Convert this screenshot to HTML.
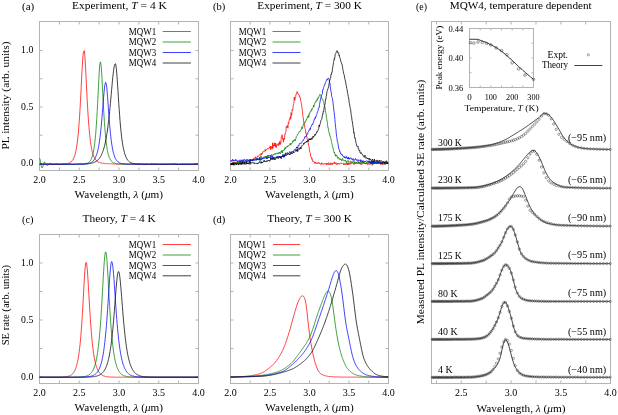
<!DOCTYPE html>
<html><head><meta charset="utf-8"><style>
html,body{margin:0;padding:0;background:#fff;}
svg{display:block;will-change:transform;}
text{font-family:"Liberation Serif", serif;fill:#000;}
</style></head><body>
<svg width="618" height="415" viewBox="0 0 618 415">
<rect width="618" height="415" fill="#fff"/>
<rect x="39.5" y="21.5" width="159.0" height="149.0" fill="none" stroke="#b3b3b3" stroke-width="1"/>
<path d="M59.4,170.5v-3M59.4,21.5v3M79.2,170.5v-3M79.2,21.5v3M99.1,170.5v-3M99.1,21.5v3M119,170.5v-3M119,21.5v3M138.9,170.5v-3M138.9,21.5v3M158.8,170.5v-3M158.8,21.5v3M178.6,170.5v-3M178.6,21.5v3" stroke="#b3b3b3" stroke-width="1" fill="none"/>
<path d="M39.5,163.5h3M198.5,163.5h-3M39.5,135.2h3M198.5,135.2h-3M39.5,107h3M198.5,107h-3M39.5,78.8h3M198.5,78.8h-3M39.5,50.5h3M198.5,50.5h-3" stroke="#b3b3b3" stroke-width="1" fill="none"/>
<polyline points="39.6,164.2 40,164.2 40.4,164.2 40.8,164.1 41.2,164.1 41.6,164.1 42,164.2 42.4,164.4 42.8,164.1 43.2,164.1 43.6,164.3 44,164.2 44.4,164.2 44.8,164.1 45.2,164.2 45.6,164.3 46,164 46.4,164.1 46.8,164 47.2,164 47.6,164 48,164.2 48.4,164 48.8,164.2 49.2,164.2 49.6,164.2 50,163.9 50.4,164.1 50.8,164.2 51.2,164.2 51.6,164 52,164.1 52.4,164.1 52.8,164.1 53.2,164.3 53.6,164.1 54,164.2 54.4,164.3 54.8,164.1 55.2,164.2 55.6,164.2 56,164.2 56.4,164 56.8,164.2 57.2,164.3 57.6,164 58,164.3 58.4,164.2 58.8,164.1 59.2,164.4 59.6,164.3 60,164 60.4,164.2 60.8,164.2 61.2,164.1 61.6,164.2 62,164.1 62.4,164.2 62.8,164.2 63.2,164 63.6,164.1 64,164 64.4,164 64.8,163.8 65.2,163.8 65.6,163.8 66,163.9 66.4,163.9 66.8,163.5 67.2,163.5 67.6,163.6 68,163.2 68.4,163.2 68.8,163.1 69.2,163.1 69.6,162.9 70,162.5 70.4,162.3 70.8,162 71.2,161.9 71.6,161.3 72,160.8 72.4,160.4 72.8,159.7 73.2,159.1 73.6,158.2 74,157.4 74.4,156.3 74.8,155.3 75.2,153.8 75.6,152.1 76,150.4 76.4,148.2 76.8,145.9 77.2,143 77.6,139.9 78,136 78.4,132.1 78.8,127.1 79.2,121.8 79.6,116.1 80,109.5 80.4,102.6 80.8,95.2 81.2,86.9 81.6,78.8 82,71.1 82.4,64 82.8,58 83.2,53.7 83.6,51.6 84,51.6 84.4,50.7 84.8,55.2 85.2,61.3 85.6,68.4 86,76.4 86.4,84.4 86.8,92.7 87.2,100.3 87.6,107.4 88,113.9 88.4,120 88.8,125.1 89.2,129.9 89.6,134.3 90,137.7 90.4,141.3 90.8,143.9 91.2,146.6 91.6,148.6 92,150.7 92.4,152.3 92.8,153.5 93.2,155.1 93.6,156.2 94,157 94.4,157.8 94.8,158.5 95.2,159.1 95.6,159.9 96,160.1 96.4,160.6 96.8,160.9 97.2,161.2 97.6,161.4 98,162 98.4,162 98.8,162.4 99.2,162.4 99.6,162.5 100,162.7 100.4,162.8 100.8,162.9 101.2,163 101.6,163.1 102,163 102.4,163.2 102.8,163.5 103.2,163.3 103.6,163.3 104,163.5 104.4,163.7 104.8,163.4 105.2,163.6 105.6,163.5 106,163.4 106.4,163.8 106.8,163.7 107.2,163.7 107.6,163.6 108,163.8 108.4,163.7 108.8,163.8 109.2,163.7 109.6,163.7 110,164 110.4,163.8 110.8,163.9 111.2,163.9 111.6,163.8 112,163.8 112.4,164 112.8,163.9 113.2,163.9 113.6,163.9 114,164.1 114.4,164 114.8,164 115.2,163.9 115.6,163.8 116,164.1 116.4,164.1 116.8,164 117.2,164.1 117.6,164.1 118,164.1 118.4,164.1 118.8,164 119.2,164.2 119.6,163.9 120,164.2 120.4,164.1 120.8,164.2 121.2,164.3 121.6,164.2 122,163.9 122.4,163.9 122.8,164.2 123.2,164 123.6,164.1 124,164.2 124.4,163.9 124.8,163.8 125.2,164.1 125.6,164.1 126,164.1 126.4,164.1 126.8,164 127.2,163.9 127.6,164.1 128,164 128.4,163.9 128.8,164.2 129.2,164.1 129.6,164.2 130,164 130.4,164.1 130.8,164 131.2,164 131.6,164.2 132,164.1 132.4,164.2 132.8,164.2 133.2,164.4 133.6,164 134,164.3 134.4,164.1 134.8,164.2 135.2,164 135.6,164.1 136,164.2 136.4,164.2 136.8,164.2 137.2,164.1 137.6,164.3 138,164.2 138.4,163.9 138.8,164.1 139.2,163.9 139.6,163.8 140,164.1 140.4,164.3 140.8,164.2 141.2,164 141.6,164.1 142,164.3 142.4,164.2 142.8,164.2 143.2,164.2 143.6,164.2 144,164.3 144.4,164.2 144.8,164.2 145.2,164.1 145.6,164.2 146,164.1 146.4,164.3 146.8,164 147.2,164.2 147.6,164.2 148,164 148.4,164.4 148.8,164.4 149.2,164.1 149.6,164.3 150,164.2 150.4,163.9 150.8,164.2 151.2,164.2 151.6,164.2 152,164.1 152.4,164.2 152.8,164.2 153.2,164.3 153.6,164.2 154,164.2 154.4,164.4 154.8,164.1 155.2,164.1 155.6,164 156,164.4 156.4,164.3 156.8,164.3 157.2,164.3 157.6,164.2 158,164.2 158.4,164.2 158.8,164.2 159.2,164.2 159.6,164.4 160,164.3 160.4,164.2 160.8,164.1 161.2,164.1 161.6,164.4 162,164.3 162.4,164.2 162.8,164.2 163.2,164.1 163.6,164.2 164,164.3 164.4,164.1 164.8,164.2 165.2,164.2 165.6,164.2 166,164 166.4,164.2 166.8,164.1 167.2,164.3 167.6,164.1 168,164.3 168.4,164.4 168.8,164.2 169.2,164.1 169.6,164.2 170,164.2 170.4,164.1 170.8,164.3 171.2,164.4 171.6,164.2 172,164.2 172.4,164.1 172.8,164.2 173.2,164 173.6,164.1 174,164.4 174.4,164.1 174.8,164.3 175.2,164.4 175.6,164.2 176,164.3 176.4,164.4 176.8,164.2 177.2,164.1 177.6,164 178,164.2 178.4,164.4 178.8,164.3 179.2,164.1 179.6,164.1 180,164.1 180.4,164.2 180.8,164.2 181.2,164.2 181.6,164.2 182,164.2 182.4,164.2 182.8,164.2 183.2,164.2 183.6,164.3 184,164.4 184.4,164.3 184.8,164.2 185.2,164 185.6,164.2 186,164 186.4,164 186.8,164.3 187.2,164.3 187.6,164.2 188,164 188.4,164.2 188.8,164.1 189.2,164.3 189.6,164.5 190,164.2 190.4,164.1 190.8,164.1 191.2,164.2 191.6,164.2 192,164.1 192.4,164.2 192.8,164.1 193.2,164.3 193.6,164.3 194,164.3 194.4,164.1 194.8,164.3 195.2,164.2 195.6,164.2 196,164.2 196.4,164 196.8,164 197.2,164.3 197.6,164.2 198,164.2" fill="none" stroke="#ff0000" stroke-width="0.75" stroke-linejoin="round" />
<polyline points="39.6,158.3 40,159.1 40.4,161.2 40.8,163.6 41.2,165.7 41.6,167.1 42,167.9 42.4,167.6 42.8,166.5 43.2,165.3 43.6,164.1 44,163 44.4,162 44.8,162.2 45.2,162.5 45.6,163.2 46,163.8 46.4,164.6 46.8,165 47.2,165.7 47.6,165.4 48,165.3 48.4,164.6 48.8,164.2 49.2,163.6 49.6,163.5 50,163.6 50.4,163.4 50.8,163.9 51.2,164.1 51.6,164.2 52,164.5 52.4,164.6 52.8,164.6 53.2,164.5 53.6,164.3 54,164.2 54.4,164 54.8,163.8 55.2,163.9 55.6,164.1 56,163.8 56.4,164.1 56.8,164.1 57.2,164.2 57.6,164.4 58,164.3 58.4,164.5 58.8,164.2 59.2,164.3 59.6,164.1 60,164 60.4,164.2 60.8,164.1 61.2,164.2 61.6,164.2 62,164.1 62.4,164.2 62.8,164.3 63.2,164.4 63.6,164.1 64,164.2 64.4,164 64.8,164.3 65.2,164 65.6,164 66,164.2 66.4,164.3 66.8,164 67.2,164.1 67.6,164.1 68,164.1 68.4,164.3 68.8,164.1 69.2,164.1 69.6,164.3 70,164.1 70.4,164.2 70.8,164.1 71.2,164 71.6,164 72,164.4 72.4,164.2 72.8,164.2 73.2,164.2 73.6,164.2 74,164.2 74.4,164.4 74.8,164.1 75.2,164 75.6,164.1 76,164 76.4,164.3 76.8,164.3 77.2,164.1 77.6,164 78,164.1 78.4,164.3 78.8,163.8 79.2,164.2 79.6,164 80,164.3 80.4,164 80.8,164.1 81.2,163.9 81.6,164 82,164.2 82.4,164.1 82.8,164 83.2,163.9 83.6,163.7 84,163.9 84.4,163.9 84.8,163.8 85.2,163.7 85.6,163.5 86,163.5 86.4,163.4 86.8,163.5 87.2,163.4 87.6,163 88,162.7 88.4,162.5 88.8,162.2 89.2,161.8 89.6,161.5 90,160.9 90.4,160.5 90.8,159.8 91.2,159.1 91.6,158.1 92,157 92.4,155.8 92.8,154.4 93.2,152.7 93.6,150.8 94,148.5 94.4,145.6 94.8,142.7 95.2,138.9 95.6,134.8 96,130 96.4,124.3 96.8,118.4 97.2,111.5 97.6,103.9 98,95.9 98.4,87.7 98.8,79.8 99.2,72.7 99.6,67 100,63.3 100.4,61.9 100.8,63.2 101.2,66.7 101.6,72 102,78.7 102.4,86.3 102.8,93.9 103.2,101.9 103.6,109.2 104,116.1 104.4,122.3 104.8,127.7 105.2,132.7 105.6,137.1 106,140.8 106.4,144.1 106.8,146.7 107.2,149.4 107.6,151.6 108,153.4 108.4,154.8 108.8,155.9 109.2,157.4 109.6,158.2 110,158.8 110.4,159.9 110.8,160.3 111.2,160.8 111.6,161.4 112,162 112.4,162.1 112.8,162.5 113.2,162.9 113.6,163.1 114,163.1 114.4,163.2 114.8,163.2 115.2,163.4 115.6,163.7 116,163.7 116.4,163.8 116.8,163.9 117.2,163.8 117.6,163.9 118,164.1 118.4,164.1 118.8,164.2 119.2,164.1 119.6,164 120,164.1 120.4,164 120.8,163.9 121.2,164.2 121.6,164.1 122,164.2 122.4,164 122.8,164.1 123.2,164.1 123.6,164.1 124,163.9 124.4,164.1 124.8,164.3 125.2,164.2 125.6,164.1 126,164.2 126.4,164.3 126.8,163.9 127.2,164.2 127.6,164.3 128,164.3 128.4,164.4 128.8,164.3 129.2,164.2 129.6,164.2 130,164.3 130.4,164.1 130.8,164.2 131.2,164.3 131.6,164.4 132,164.2 132.4,164.2 132.8,164.2 133.2,164.4 133.6,164.2 134,164.4 134.4,164.1 134.8,164.2 135.2,164.2 135.6,164.3 136,164.3 136.4,164 136.8,164.1 137.2,164.2 137.6,164.1 138,164 138.4,164.3 138.8,164.3 139.2,164.3 139.6,164.1 140,164.3 140.4,164.2 140.8,164.3 141.2,164.1 141.6,164.1 142,164.2 142.4,164.1 142.8,164.3 143.2,164.2 143.6,164.1 144,164.2 144.4,164.2 144.8,164.3 145.2,164.1 145.6,164.1 146,164.3 146.4,164.5 146.8,164.4 147.2,164.2 147.6,164.2 148,164.4 148.4,164.2 148.8,164.1 149.2,164.2 149.6,164.3 150,164.1 150.4,164 150.8,164 151.2,164.3 151.6,164.1 152,164.2 152.4,164.2 152.8,164.3 153.2,164.2 153.6,164.3 154,164.1 154.4,164.2 154.8,164.1 155.2,164.3 155.6,164.2 156,164.1 156.4,164.2 156.8,164.2 157.2,164.3 157.6,164 158,164.1 158.4,164.2 158.8,164.5 159.2,164.3 159.6,164.2 160,164.3 160.4,164.4 160.8,164.2 161.2,164.2 161.6,164.3 162,164.3 162.4,164.3 162.8,164.1 163.2,164.4 163.6,164.4 164,164.3 164.4,164.3 164.8,164 165.2,164.3 165.6,164.2 166,164.3 166.4,164.3 166.8,164.2 167.2,164 167.6,164.2 168,164.1 168.4,164.2 168.8,164.1 169.2,164.2 169.6,163.9 170,164.3 170.4,164.2 170.8,164.3 171.2,164.4 171.6,164.2 172,164 172.4,164.1 172.8,164.1 173.2,164.1 173.6,164.2 174,164 174.4,164.2 174.8,164 175.2,164.2 175.6,164.2 176,164.2 176.4,164.2 176.8,164.1 177.2,164.1 177.6,164 178,164.2 178.4,164.4 178.8,164.4 179.2,164.4 179.6,164.3 180,164.1 180.4,164.4 180.8,164.2 181.2,164.2 181.6,164.2 182,164.2 182.4,164.1 182.8,164.2 183.2,164.1 183.6,164.2 184,164.5 184.4,164.2 184.8,164.2 185.2,164.3 185.6,164.3 186,164.1 186.4,164.2 186.8,164.3 187.2,164.2 187.6,164.2 188,164.4 188.4,164.1 188.8,164.2 189.2,164.1 189.6,164.4 190,164 190.4,164.1 190.8,164.1 191.2,164.3 191.6,164.3 192,164.4 192.4,164 192.8,164.3 193.2,164.2 193.6,164.1 194,164.3 194.4,164.1 194.8,164 195.2,164.2 195.6,164 196,164.1 196.4,164.2 196.8,164.2 197.2,164.4 197.6,164.2 198,164" fill="none" stroke="#008000" stroke-width="0.75" stroke-linejoin="round" />
<polyline points="39.6,164.3 40,164.2 40.4,164.3 40.8,164.3 41.2,164.3 41.6,164.3 42,164.2 42.4,164.2 42.8,164.3 43.2,164.1 43.6,164.2 44,164.1 44.4,164.2 44.8,164 45.2,164.1 45.6,164.2 46,164.3 46.4,164.3 46.8,164.2 47.2,164.2 47.6,164.1 48,164.2 48.4,164.2 48.8,164.3 49.2,164.4 49.6,164.2 50,164.1 50.4,164.1 50.8,164.1 51.2,164.1 51.6,164.3 52,164.2 52.4,164 52.8,164.3 53.2,164.3 53.6,164.2 54,164.1 54.4,164.2 54.8,164.2 55.2,164.3 55.6,164.3 56,164.3 56.4,164.3 56.8,164.3 57.2,164.3 57.6,164 58,164.2 58.4,164.2 58.8,164.2 59.2,164.3 59.6,164.2 60,164.1 60.4,164.3 60.8,164.3 61.2,164.2 61.6,164.3 62,164.3 62.4,164.2 62.8,164 63.2,164.1 63.6,164.2 64,164.1 64.4,164.2 64.8,164.3 65.2,164.1 65.6,164.1 66,164.4 66.4,164.2 66.8,164.1 67.2,164.2 67.6,164.2 68,164.1 68.4,164.3 68.8,164.1 69.2,164.1 69.6,164.2 70,164.3 70.4,164.1 70.8,164.2 71.2,164.2 71.6,164.5 72,164.1 72.4,164.3 72.8,164.2 73.2,164.2 73.6,164.3 74,164.3 74.4,164.3 74.8,164.2 75.2,164.1 75.6,164.1 76,164.2 76.4,164.2 76.8,164.3 77.2,164.2 77.6,164.3 78,164.3 78.4,164.2 78.8,164 79.2,164 79.6,164 80,164.3 80.4,164 80.8,164.2 81.2,164.2 81.6,164.3 82,164.2 82.4,164.1 82.8,164 83.2,164 83.6,164 84,164 84.4,164 84.8,164.1 85.2,163.8 85.6,164 86,163.8 86.4,163.9 86.8,163.9 87.2,163.8 87.6,163.9 88,163.6 88.4,163.8 88.8,163.6 89.2,163.7 89.6,163.6 90,163.2 90.4,163.3 90.8,163.4 91.2,163.4 91.6,163.2 92,163.1 92.4,162.8 92.8,163 93.2,162.9 93.6,162.6 94,162.4 94.4,162.1 94.8,162.2 95.2,162.2 95.6,161.7 96,161.6 96.4,161.2 96.8,160.8 97.2,160.7 97.6,160.1 98,159.9 98.4,159.5 98.8,159.1 99.2,158.6 99.6,158.1 100,157.4 100.4,156.7 100.8,156.2 101.2,155.4 101.6,154.5 102,153.6 102.4,152.7 102.8,151.6 103.2,150.5 103.6,149.2 104,148 104.4,146.5 104.8,145.1 105.2,143 105.6,141.1 106,139.2 106.4,136.9 106.8,134.4 107.2,132 107.6,129 108,125.8 108.4,122.6 108.8,119.3 109.2,115.6 109.6,111.5 110,107.5 110.4,103.4 110.8,99.1 111.2,94.5 111.6,90.2 112,85.7 112.4,81.2 112.8,77.3 113.2,73.7 113.6,70.3 114,67.4 114.4,65.6 114.8,64.3 115.2,63.8 115.6,63.8 116,66.2 116.4,69.2 116.8,73.8 117.2,79.2 117.6,85.1 118,91.2 118.4,97.3 118.8,103.7 119.2,109.4 119.6,114.8 120,120.5 120.4,125 120.8,129.4 121.2,133.1 121.6,136.8 122,139.9 122.4,142.7 122.8,145.1 123.2,147.2 123.6,149.2 124,150.8 124.4,152.4 124.8,153.9 125.2,155 125.6,156.1 126,157.1 126.4,158.1 126.8,158.8 127.2,159.3 127.6,160 128,160.3 128.4,160.8 128.8,161.3 129.2,161.5 129.6,161.9 130,162 130.4,162.4 130.8,162.8 131.2,162.7 131.6,163 132,163 132.4,163.1 132.8,163.2 133.2,163.6 133.6,163.8 134,163.7 134.4,163.6 134.8,163.8 135.2,163.8 135.6,163.9 136,163.9 136.4,164 136.8,164 137.2,163.9 137.6,164 138,163.9 138.4,164 138.8,163.9 139.2,164.1 139.6,164 140,164.1 140.4,164.2 140.8,164 141.2,164.1 141.6,164.1 142,164.2 142.4,164.3 142.8,164.2 143.2,164.1 143.6,164.3 144,164 144.4,164.3 144.8,164.1 145.2,163.9 145.6,164.4 146,164.3 146.4,164.1 146.8,164.2 147.2,164.2 147.6,164.2 148,164 148.4,164.1 148.8,164.2 149.2,164.2 149.6,164.3 150,164.2 150.4,164.4 150.8,164.1 151.2,164.2 151.6,164 152,164.1 152.4,164.3 152.8,164.1 153.2,164.3 153.6,164.2 154,164.1 154.4,164.2 154.8,164.1 155.2,164.2 155.6,164.3 156,164.3 156.4,164.1 156.8,164.1 157.2,164.2 157.6,164.2 158,164.3 158.4,164.5 158.8,164.3 159.2,164.2 159.6,164.2 160,164.1 160.4,164.1 160.8,164.1 161.2,164.2 161.6,164.2 162,164.3 162.4,164.2 162.8,164.2 163.2,164.1 163.6,164.4 164,164.3 164.4,164.4 164.8,164.3 165.2,164.3 165.6,164.2 166,164.3 166.4,164.5 166.8,164.1 167.2,164.3 167.6,164.4 168,164.2 168.4,164.3 168.8,164.3 169.2,164.1 169.6,164.2 170,164.1 170.4,164.1 170.8,164.1 171.2,164.2 171.6,164.2 172,164.2 172.4,164.1 172.8,164.4 173.2,164.3 173.6,164.3 174,164.2 174.4,164.2 174.8,164.3 175.2,164.2 175.6,164 176,164.3 176.4,164.5 176.8,164 177.2,164.3 177.6,164.2 178,164.2 178.4,164.3 178.8,164.1 179.2,164.2 179.6,164.4 180,164.2 180.4,164.2 180.8,164.2 181.2,164.2 181.6,164.4 182,164.1 182.4,164.3 182.8,164.1 183.2,164.3 183.6,164.2 184,163.9 184.4,164.2 184.8,164.1 185.2,164.2 185.6,164.4 186,164.1 186.4,164.1 186.8,164.3 187.2,164.2 187.6,164.4 188,164.2 188.4,164.1 188.8,164.2 189.2,164.3 189.6,164.3 190,164.2 190.4,164.2 190.8,164.2 191.2,164.1 191.6,164.4 192,164.2 192.4,164.1 192.8,164.2 193.2,164.3 193.6,164.3 194,164.2 194.4,164.1 194.8,164.2 195.2,164 195.6,164.1 196,164.3 196.4,164.2 196.8,164.2 197.2,164.3 197.6,164.3 198,164.2" fill="none" stroke="#000000" stroke-width="0.75" stroke-linejoin="round" />
<polyline points="39.6,164.1 40,164.1 40.4,164.1 40.8,164.2 41.2,164.1 41.6,164 42,164.3 42.4,164.2 42.8,164.2 43.2,164.2 43.6,164.3 44,164.2 44.4,164.3 44.8,164.2 45.2,164.2 45.6,164.2 46,164.1 46.4,164.2 46.8,164.2 47.2,164.2 47.6,164.1 48,164.4 48.4,164.2 48.8,164.1 49.2,164 49.6,164.2 50,164.2 50.4,164.1 50.8,164.2 51.2,164.1 51.6,164.3 52,164.1 52.4,164.2 52.8,164.3 53.2,164.5 53.6,164.1 54,164.2 54.4,164.1 54.8,164.3 55.2,164.1 55.6,164.2 56,164.2 56.4,164.1 56.8,164.1 57.2,164.2 57.6,164 58,164.1 58.4,164.2 58.8,164.2 59.2,164.2 59.6,164 60,164.2 60.4,164.3 60.8,164.3 61.2,164.2 61.6,164.1 62,164.3 62.4,164.1 62.8,164.1 63.2,164.1 63.6,164.3 64,164.2 64.4,164.3 64.8,164.2 65.2,164.3 65.6,164.1 66,164.2 66.4,164.4 66.8,164.3 67.2,164.1 67.6,164.2 68,164.2 68.4,164.3 68.8,164.1 69.2,164 69.6,164.2 70,164.2 70.4,164.2 70.8,164.3 71.2,164.2 71.6,164.3 72,164.1 72.4,164.3 72.8,164.4 73.2,164.3 73.6,164.2 74,164.2 74.4,164.4 74.8,164.1 75.2,164.2 75.6,164.2 76,164.3 76.4,164.1 76.8,164.2 77.2,164.2 77.6,164.2 78,164.2 78.4,164.1 78.8,164.2 79.2,164.2 79.6,164.1 80,164.1 80.4,164.2 80.8,164 81.2,164.1 81.6,164 82,164.2 82.4,164.3 82.8,164.3 83.2,164 83.6,164.1 84,164 84.4,164 84.8,164.1 85.2,163.8 85.6,164 86,163.8 86.4,163.9 86.8,163.8 87.2,163.6 87.6,163.7 88,163.6 88.4,163.5 88.8,163.4 89.2,163.2 89.6,162.9 90,163.1 90.4,162.9 90.8,162.7 91.2,162.4 91.6,162.3 92,161.9 92.4,161.6 92.8,161.3 93.2,161 93.6,160.3 94,160.1 94.4,159.4 94.8,158.7 95.2,158.2 95.6,157.2 96,156.2 96.4,155.2 96.8,154.2 97.2,152.9 97.6,151.2 98,149.6 98.4,147.7 98.8,145.4 99.2,143.1 99.6,140.4 100,137.4 100.4,134 100.8,130.4 101.2,126.4 101.6,122 102,117.3 102.4,112.6 102.8,107.4 103.2,102.4 103.6,97.4 104,92.8 104.4,88.9 104.8,85.4 105.2,83.5 105.6,82.4 106,83 106.4,84.9 106.8,87.8 107.2,92.1 107.6,97.3 108,102.8 108.4,108.5 108.8,113.9 109.2,119.3 109.6,124.3 110,128.9 110.4,133.2 110.8,136.6 111.2,140.3 111.6,143.1 112,145.9 112.4,148.1 112.8,150.1 113.2,152 113.6,153.4 114,154.8 114.4,155.9 114.8,157.1 115.2,158.1 115.6,158.9 116,159.5 116.4,160.2 116.8,160.6 117.2,161.1 117.6,161.6 118,162 118.4,162.1 118.8,162.4 119.2,162.6 119.6,162.9 120,162.9 120.4,163.3 120.8,163.3 121.2,163.5 121.6,163.4 122,163.6 122.4,163.7 122.8,163.7 123.2,164 123.6,163.9 124,164.1 124.4,164 124.8,163.9 125.2,164 125.6,164.1 126,164.1 126.4,164.1 126.8,164.1 127.2,163.9 127.6,164.1 128,163.9 128.4,164.2 128.8,164.1 129.2,164.1 129.6,164.1 130,164.2 130.4,164 130.8,164 131.2,164.1 131.6,164 132,164.1 132.4,164.3 132.8,164.1 133.2,164.3 133.6,164.1 134,164.2 134.4,164.2 134.8,164.2 135.2,164.3 135.6,164.4 136,164.2 136.4,164.2 136.8,164.1 137.2,164.3 137.6,164.2 138,164.3 138.4,164.2 138.8,164.4 139.2,164 139.6,164.2 140,164.3 140.4,164.2 140.8,164.1 141.2,164.2 141.6,164.1 142,164.2 142.4,164.4 142.8,164.3 143.2,164.1 143.6,164.1 144,164.2 144.4,164.3 144.8,164.1 145.2,164.1 145.6,164.3 146,164.3 146.4,164.2 146.8,164.1 147.2,164 147.6,164.1 148,164 148.4,164.3 148.8,164.1 149.2,164.2 149.6,164.4 150,164.3 150.4,164.1 150.8,164.3 151.2,164.3 151.6,164.1 152,164.1 152.4,164.2 152.8,164 153.2,164.3 153.6,164 154,164.1 154.4,164.2 154.8,164.2 155.2,164.2 155.6,164.2 156,164.2 156.4,164.3 156.8,164 157.2,164.2 157.6,164.1 158,164.2 158.4,164.2 158.8,164.1 159.2,164.1 159.6,164.3 160,164.2 160.4,164.1 160.8,164.4 161.2,164.4 161.6,164.1 162,164.2 162.4,164.5 162.8,164.3 163.2,164.2 163.6,164.2 164,164.1 164.4,164.2 164.8,164.1 165.2,164.3 165.6,164.2 166,164.2 166.4,164.1 166.8,164.2 167.2,164.1 167.6,164.2 168,164.3 168.4,164.2 168.8,164.3 169.2,164.2 169.6,164.2 170,164.2 170.4,164.2 170.8,164.3 171.2,164.1 171.6,164.3 172,164.2 172.4,164.1 172.8,164.2 173.2,164.1 173.6,164.2 174,164.1 174.4,164.3 174.8,164.1 175.2,164 175.6,164.1 176,164 176.4,164.2 176.8,164.3 177.2,164.3 177.6,164.1 178,164.1 178.4,164.4 178.8,164.2 179.2,164.2 179.6,164.3 180,164.4 180.4,164.3 180.8,164.2 181.2,164.2 181.6,164.3 182,164.1 182.4,164.1 182.8,164.2 183.2,164.1 183.6,164.2 184,164.2 184.4,164.4 184.8,164.1 185.2,164.2 185.6,164.2 186,164.2 186.4,164.3 186.8,164.2 187.2,164.1 187.6,164 188,164.1 188.4,164.3 188.8,164.2 189.2,164.1 189.6,164.2 190,164.2 190.4,164.3 190.8,164.1 191.2,164.2 191.6,164 192,164.1 192.4,164.4 192.8,164 193.2,164.2 193.6,164.2 194,164.2 194.4,164.1 194.8,164.2 195.2,164.2 195.6,164.2 196,164 196.4,164.2 196.8,164.1 197.2,164.1 197.6,164.2 198,164.3" fill="none" stroke="#0000ff" stroke-width="0.75" stroke-linejoin="round" />
<text x="128.8" y="34.8" font-size="9.8" text-anchor="start" textLength="27.4" lengthAdjust="spacingAndGlyphs" >MQW1</text>
<line x1="162.7" y1="31.5" x2="190.9" y2="31.5" stroke="#ff0000" stroke-width="0.75"/>
<text x="128.8" y="45.3" font-size="9.8" text-anchor="start" textLength="27.4" lengthAdjust="spacingAndGlyphs" >MQW2</text>
<line x1="162.7" y1="42.0" x2="190.9" y2="42.0" stroke="#008000" stroke-width="0.75"/>
<text x="128.8" y="55.8" font-size="9.8" text-anchor="start" textLength="27.4" lengthAdjust="spacingAndGlyphs" >MQW3</text>
<line x1="162.7" y1="52.5" x2="190.9" y2="52.5" stroke="#0000ff" stroke-width="0.75"/>
<text x="128.8" y="66.3" font-size="9.8" text-anchor="start" textLength="27.4" lengthAdjust="spacingAndGlyphs" >MQW4</text>
<line x1="162.7" y1="63.0" x2="190.9" y2="63.0" stroke="#000000" stroke-width="0.75"/>
<text x="33.3" y="53" font-size="10.7" text-anchor="end" textLength="12.2" lengthAdjust="spacingAndGlyphs" >1.0</text>
<text x="33.3" y="109.5" font-size="10.7" text-anchor="end" textLength="12.2" lengthAdjust="spacingAndGlyphs" >0.5</text>
<text x="33.3" y="166" font-size="10.7" text-anchor="end" textLength="12.2" lengthAdjust="spacingAndGlyphs" >0.0</text>
<text x="39.5" y="183.3" font-size="10.4" text-anchor="middle" textLength="12.5" lengthAdjust="spacingAndGlyphs" >2.0</text>
<text x="79.2" y="183.3" font-size="10.4" text-anchor="middle" textLength="12.5" lengthAdjust="spacingAndGlyphs" >2.5</text>
<text x="119" y="183.3" font-size="10.4" text-anchor="middle" textLength="12.5" lengthAdjust="spacingAndGlyphs" >3.0</text>
<text x="158.8" y="183.3" font-size="10.4" text-anchor="middle" textLength="12.5" lengthAdjust="spacingAndGlyphs" >3.5</text>
<text x="198.5" y="183.3" font-size="10.4" text-anchor="middle" textLength="12.5" lengthAdjust="spacingAndGlyphs" >4.0</text>
<text x="22" y="9.8" font-size="10.4" text-anchor="start" textLength="12.3" lengthAdjust="spacingAndGlyphs" >(a)</text>
<text x="72" y="8.9" font-size="11" text-anchor="start" textLength="94.8" lengthAdjust="spacingAndGlyphs" >Experiment, <tspan font-style="italic">T</tspan> = 4 K</text>
<text x="74.6" y="198.3" font-size="10.5" text-anchor="start" textLength="88.4" lengthAdjust="spacingAndGlyphs" >Wavelength, <tspan font-style="italic">λ</tspan> (<tspan font-style="italic">μ</tspan>m)</text>
<text transform="translate(9.3,149.6) rotate(-90)" x="0" y="0" font-size="10.5" textLength="108.1" lengthAdjust="spacingAndGlyphs">PL intensity (arb. units)</text>
<rect x="230.5" y="21.5" width="158.0" height="149.0" fill="none" stroke="#b3b3b3" stroke-width="1"/>
<path d="M250.2,170.5v-3M250.2,21.5v3M270,170.5v-3M270,21.5v3M289.8,170.5v-3M289.8,21.5v3M309.5,170.5v-3M309.5,21.5v3M329.2,170.5v-3M329.2,21.5v3M349,170.5v-3M349,21.5v3M368.8,170.5v-3M368.8,21.5v3" stroke="#b3b3b3" stroke-width="1" fill="none"/>
<path d="M230.5,163.5h3M388.5,163.5h-3M230.5,135.2h3M388.5,135.2h-3M230.5,107h3M388.5,107h-3M230.5,78.8h3M388.5,78.8h-3M230.5,50.5h3M388.5,50.5h-3" stroke="#b3b3b3" stroke-width="1" fill="none"/>
<polyline points="230.6,165 230.9,164 231.3,163.2 231.6,164 232,163.8 232.3,162.8 232.7,163.5 233,163.3 233.4,162 233.7,163.3 234.1,163.2 234.4,163 234.8,162.1 235.1,163 235.5,163.2 235.8,163.3 236.2,162.4 236.5,163.6 236.9,162.2 237.2,162.9 237.6,164 237.9,162.5 238.3,162.6 238.6,163.7 239,162.6 239.3,162.6 239.7,162.9 240,163.5 240.4,161.1 240.7,162 241.1,161.8 241.4,161.7 241.8,161.8 242.1,161.8 242.5,162.5 242.8,161.6 243.2,162.3 243.5,162.4 243.9,161.6 244.2,162.1 244.6,163.2 244.9,162.2 245.3,161.4 245.6,161.7 246,161.1 246.3,161.8 246.7,162.2 247,160.9 247.4,161.2 247.7,162.1 248.1,160.8 248.4,161.2 248.8,160.2 249.1,160.3 249.5,160.4 249.8,162.1 250.2,160.2 250.5,160 250.9,159.8 251.2,160 251.6,160.4 251.9,160 252.3,161.1 252.6,159.7 253,160.4 253.3,159.4 253.7,159.5 254,157.9 254.4,158.7 254.7,158.6 255.1,158.3 255.4,156.8 255.8,158.7 256.1,157.6 256.5,157.3 256.8,157.2 257.2,157 257.5,157.2 257.9,155.8 258.2,155.7 258.6,156.3 258.9,155.9 259.3,155.3 259.6,154.8 260,154.4 260.3,154.6 260.7,155.2 261,153.4 261.4,154.9 261.7,154.2 262.1,153 262.4,153.6 262.8,151.8 263.1,151.3 263.5,151.4 263.8,151.8 264.2,151.6 264.5,151.2 264.9,151.3 265.2,149.5 265.6,151.1 265.9,149.5 266.3,149.8 266.6,149.7 267,148.9 267.3,148.5 267.7,148.5 268,149 268.4,149.1 268.7,148.8 269.1,147.4 269.4,147.2 269.8,146.8 270.1,148.3 270.5,146.1 270.8,149.7 271.2,146.6 271.5,146.7 271.9,146.9 272.2,149.1 272.6,142.9 272.9,148.2 273.3,145.2 273.6,146 274,145 274.3,142.7 274.7,146.1 275,144.8 275.4,146.6 275.7,143 276.1,147.8 276.4,146.9 276.8,144.7 277.1,145.4 277.5,145.1 277.8,144.5 278.2,143.5 278.5,145.6 278.9,145.6 279.2,142.4 279.6,144.4 279.9,141.3 280.3,144.2 280.6,144.4 281,141.8 281.3,136.8 281.7,135.4 282,134.7 282.4,135.6 282.7,139.2 283.1,138.3 283.4,142.2 283.8,138.7 284.1,138.8 284.5,139.6 284.8,134.1 285.2,134.3 285.5,132.1 285.9,131.5 286.2,126.8 286.6,127.7 286.9,126.4 287.3,125.3 287.6,127.5 288,128.2 288.3,122.4 288.7,123.4 289,121.2 289.4,119.7 289.7,118.6 290.1,119.6 290.4,116.3 290.8,118.6 291.1,112.7 291.5,115.7 291.8,113.4 292.2,109.5 292.5,110.3 292.9,110.2 293.2,105.7 293.6,103.7 293.9,103.3 294.3,96.9 294.6,100 295,100.4 295.3,97 295.7,96.6 296,94 296.4,93.9 296.7,93.2 297.1,91.5 297.4,93 297.8,93.7 298.1,93.8 298.5,94.9 298.8,94.5 299.2,95 299.5,97.2 299.9,96.8 300.2,97.1 300.6,100.6 300.9,101.2 301.3,103.7 301.6,105.5 302,108 302.3,110.6 302.7,113.9 303,117.2 303.4,117.9 303.7,122.2 304.1,122.8 304.4,124.7 304.8,127.6 305.1,128.7 305.5,129.4 305.8,133.4 306.2,133.1 306.5,135.4 306.9,136.9 307.2,139.3 307.6,139.6 307.9,142.3 308.3,142.8 308.6,145.9 309,146.5 309.3,148.7 309.7,152 310,152.4 310.4,153.8 310.7,156.8 311.1,156.9 311.4,157.2 311.8,159.3 312.1,158.6 312.5,160.8 312.8,161.5 313.2,160.8 313.5,161.2 313.9,162.2 314.2,162.5 314.6,162.2 314.9,163.5 315.3,161.9 315.6,163.2 316,163.2 316.3,163.3 316.7,163.7 317,162.6 317.4,163.9 317.7,163.4 318.1,163 318.4,162.5 318.8,162.7 319.1,163.8 319.5,162.8 319.8,163.5 320.2,164.2 320.5,164.2 320.9,164.6 321.2,163.3 321.6,162.7 321.9,164.2 322.3,163.7 322.6,164.3 323,163.5 323.3,164.3 323.7,164.1 324,164 324.4,163.9 324.7,163.8 325.1,163.7 325.4,163.7 325.8,164.2 326.1,163.1 326.5,164.7 326.8,163.4 327.2,164.2 327.5,163.4 327.9,163.3 328.2,164.9 328.6,163.3 328.9,162.6 329.3,163 329.6,163.3 330,165 330.3,163.6 330.7,164.2 331,162.8 331.4,163.7 331.7,164 332.1,164.8 332.4,163 332.8,163.9 333.1,163.7 333.5,162.8 333.8,163.5 334.2,163.3 334.5,161.9 334.9,163.9 335.2,163.9 335.6,163.2 335.9,162.6 336.3,164.5 336.6,163.7 337,164.2 337.3,164.5 337.7,163.1 338,164.1 338.4,163.3 338.7,163.5 339.1,163.4 339.4,163.5 339.8,164.3 340.1,163.6 340.5,163.4 340.8,163.3 341.2,163.7 341.5,162.9 341.9,163.1 342.2,163.5 342.6,163.1 342.9,163.4 343.3,163.1 343.6,164.9 344,164.4 344.3,163.8 344.7,163.5 345,165 345.4,163.7 345.7,163.4 346.1,163.7 346.4,163.7 346.8,164.5 347.1,163.5 347.5,165 347.8,162.9 348.2,164 348.5,162.8 348.9,164.8 349.2,163.3 349.6,163.5 349.9,164.1 350.3,164.4 350.6,162.7 351,163.3 351.3,162.5 351.7,163.6 352,163.4 352.4,163.3 352.7,163 353.1,163.2 353.4,163 353.8,163.9 354.1,164.6 354.5,162.1 354.8,163.4 355.2,163.2 355.5,163.8 355.9,162.8 356.2,163.4 356.6,162.8 356.9,164 357.3,163.6 357.6,163.4 358,163.8 358.3,163.3 358.7,162.4 359,163.9 359.4,163.7 359.7,163.4 360.1,164.2 360.4,164.4 360.8,162.7 361.1,163 361.5,164.6 361.8,164.5 362.2,163 362.5,162.7 362.9,163.1 363.2,163.2 363.6,162.4 363.9,163.5 364.3,162.6 364.6,162.7 365,164.1 365.3,163 365.7,163.4 366,163.9 366.4,164.1 366.7,163.3 367.1,163.5 367.4,162.9 367.8,164.7 368.1,164 368.5,162.7 368.8,163.5 369.2,164 369.5,163.8 369.9,164.8 370.2,164.5 370.6,163.1 370.9,163.4 371.3,162.6 371.6,163.7 372,163.6 372.3,165.4 372.7,163.6 373,162 373.4,163 373.7,163.6 374.1,162.6 374.4,162.9 374.8,163.2 375.1,163.7 375.5,163.4 375.8,162.9 376.2,164.1 376.5,163.1 376.9,163.2 377.2,162.5 377.6,162.9 377.9,164 378.3,162.4 378.6,163.5 379,164 379.3,163.2 379.7,163.7 380,162.7 380.4,164.4 380.7,164.3 381.1,163.7 381.4,162.3 381.8,162.8 382.1,164.2 382.5,164.7 382.8,163.7 383.2,164.4 383.5,163.1 383.9,163.4 384.2,163.5 384.6,163.8 384.9,162.4 385.3,164.2 385.6,164.4 386,162.7 386.3,162.6 386.7,163.7 387,163 387.4,161.8 387.7,164.1 388.1,163.6" fill="none" stroke="#ff0000" stroke-width="0.75" stroke-linejoin="round" />
<polyline points="230.6,164.9 230.9,164.5 231.3,164.8 231.6,164.2 232,165 232.3,164 232.7,162.6 233,164.9 233.4,164 233.7,163 234.1,163.7 234.4,163.1 234.8,165.2 235.1,164 235.5,162.5 235.8,163.9 236.2,163.2 236.5,164.8 236.9,162.6 237.2,161.7 237.6,163.3 237.9,163 238.3,162.8 238.6,161.6 239,163.3 239.3,164.1 239.7,161.6 240,163.7 240.4,162.4 240.7,164.3 241.1,162.9 241.4,162.4 241.8,163.3 242.1,162.8 242.5,162 242.8,162.8 243.2,161.9 243.5,160.9 243.9,163.5 244.2,161.8 244.6,161.6 244.9,162.1 245.3,160.7 245.6,160.8 246,161.3 246.3,161.3 246.7,161.6 247,162.3 247.4,161.1 247.7,161.7 248.1,161.6 248.4,160.4 248.8,161.2 249.1,160.3 249.5,161.6 249.8,161.1 250.2,160.7 250.5,159.7 250.9,160.6 251.2,159.9 251.6,160.9 251.9,160.2 252.3,159.6 252.6,160.8 253,160.5 253.3,159.5 253.7,160.7 254,159.6 254.4,159.5 254.7,159.7 255.1,159 255.4,159.1 255.8,159.2 256.1,160.3 256.5,160.2 256.8,158.9 257.2,160.1 257.5,158.8 257.9,159 258.2,159.3 258.6,158.8 258.9,160.2 259.3,158.6 259.6,157.5 260,159.2 260.3,157.9 260.7,157.9 261,155.9 261.4,158.6 261.7,158.4 262.1,158.3 262.4,158.3 262.8,158.7 263.1,157.4 263.5,158 263.8,156.8 264.2,157 264.5,157.9 264.9,157.3 265.2,156 265.6,157.1 265.9,156.6 266.3,156.1 266.6,156.9 267,156.2 267.3,155.3 267.7,155.6 268,157.5 268.4,155.1 268.7,156.2 269.1,156.4 269.4,156.3 269.8,154.9 270.1,155.5 270.5,155.7 270.8,156.1 271.2,155 271.5,154.5 271.9,155.9 272.2,155.9 272.6,155.3 272.9,154.5 273.3,155.1 273.6,154.8 274,155.2 274.3,153.7 274.7,154.5 275,154.2 275.4,153.5 275.7,154.3 276.1,154.1 276.4,153.7 276.8,154.1 277.1,152.8 277.5,153.6 277.8,153.8 278.2,153.6 278.5,154 278.9,152.3 279.2,152 279.6,153 279.9,153 280.3,154 280.6,152.7 281,151.4 281.3,152.4 281.7,150.9 282,150.2 282.4,152.8 282.7,150.9 283.1,150.8 283.4,150.4 283.8,150.9 284.1,149.5 284.5,149.9 284.8,147.9 285.2,147.3 285.5,148.9 285.9,148.6 286.2,147.6 286.6,147.1 286.9,146.7 287.3,145.8 287.6,147.1 288,146.2 288.3,145.8 288.7,145.4 289,145.7 289.4,145 289.7,144.9 290.1,143.4 290.4,144.3 290.8,145.2 291.1,143 291.5,143 291.8,143.5 292.2,143.2 292.5,142.6 292.9,140.7 293.2,141.8 293.6,140.3 293.9,140.1 294.3,140.6 294.6,139.5 295,139.8 295.3,140.9 295.7,138.8 296,138.2 296.4,136.5 296.7,136.1 297.1,135.3 297.4,135.1 297.8,134.1 298.1,133.9 298.5,133.6 298.8,132.5 299.2,131.6 299.5,131.1 299.9,131.7 300.2,130.9 300.6,130.9 300.9,130.3 301.3,128.7 301.6,128.8 302,126.7 302.3,128.7 302.7,127.3 303,125.7 303.4,124.4 303.7,124.8 304.1,122.6 304.4,122.7 304.8,123.2 305.1,122.1 305.5,121 305.8,121.4 306.2,119.3 306.5,119.6 306.9,118.4 307.2,117.5 307.6,117.8 307.9,116.1 308.3,117.5 308.6,115.1 309,116.3 309.3,113.4 309.7,114 310,112.1 310.4,111.3 310.7,111.7 311.1,111.4 311.4,109.4 311.8,110.5 312.1,108.4 312.5,108.4 312.8,107.9 313.2,107.4 313.5,105.1 313.9,106.8 314.2,105.4 314.6,104.1 314.9,103 315.3,101.9 315.6,101.5 316,102.2 316.3,100.9 316.7,99.7 317,99.5 317.4,100.3 317.7,98.4 318.1,97.5 318.4,98.3 318.8,97 319.1,96.2 319.5,95.3 319.8,94.4 320.2,94.5 320.5,95.1 320.9,95.6 321.2,96.6 321.6,97.6 321.9,98.3 322.3,99.3 322.6,99.4 323,99.7 323.3,101.8 323.7,102.6 324,103.9 324.4,105.4 324.7,106.2 325.1,107.9 325.4,110.4 325.8,112.7 326.1,114.4 326.5,117.6 326.8,119.6 327.2,121.4 327.5,124.4 327.9,127.7 328.2,127.7 328.6,130.6 328.9,132.3 329.3,133.7 329.6,133.4 330,136.7 330.3,136.7 330.7,137.8 331,139.3 331.4,141.4 331.7,142.6 332.1,144.1 332.4,146.7 332.8,146.9 333.1,148.1 333.5,150.7 333.8,151.7 334.2,152.9 334.5,152.2 334.9,154.5 335.2,154.7 335.6,156.2 335.9,154.6 336.3,156.1 336.6,156.2 337,155.7 337.3,156.7 337.7,158.3 338,157.5 338.4,157.5 338.7,158.9 339.1,159.2 339.4,159.4 339.8,158.4 340.1,159.1 340.5,160 340.8,159 341.2,159.1 341.5,160.4 341.9,161.1 342.2,159.3 342.6,158.4 342.9,159.3 343.3,159.8 343.6,160.5 344,161.1 344.3,160.7 344.7,160.4 345,161.1 345.4,160.4 345.7,161.2 346.1,160.8 346.4,163.3 346.8,162 347.1,161 347.5,160.9 347.8,161.4 348.2,160.6 348.5,161.3 348.9,161.4 349.2,162.5 349.6,161.7 349.9,161.4 350.3,161.1 350.6,161.2 351,162 351.3,161.9 351.7,162.9 352,161.7 352.4,162.9 352.7,162.3 353.1,162.2 353.4,160.8 353.8,161.3 354.1,162.7 354.5,163.2 354.8,162.4 355.2,162.8 355.5,162 355.9,162 356.2,161.9 356.6,163 356.9,162.6 357.3,162.2 357.6,162.2 358,162.8 358.3,162.6 358.7,161.8 359,163.6 359.4,162.6 359.7,162.5 360.1,163.5 360.4,163.2 360.8,162.5 361.1,162.9 361.5,161.8 361.8,162.1 362.2,161 362.5,163.4 362.9,161.3 363.2,163.1 363.6,162 363.9,161.9 364.3,162.5 364.6,162.8 365,163.1 365.3,163.9 365.7,162.9 366,163.3 366.4,162.3 366.7,163.2 367.1,162.8 367.4,162.4 367.8,162.7 368.1,162.7 368.5,162.9 368.8,163 369.2,162.4 369.5,162.3 369.9,163.3 370.2,161.6 370.6,162.4 370.9,163.9 371.3,160.9 371.6,162.3 372,163.3 372.3,161.7 372.7,164.7 373,161 373.4,163.9 373.7,164 374.1,163.5 374.4,162.7 374.8,163.1 375.1,162.3 375.5,163.5 375.8,162.1 376.2,162.7 376.5,163.6 376.9,162.1 377.2,162.7 377.6,163 377.9,162 378.3,163.8 378.6,163.2 379,161.9 379.3,162.9 379.7,162.4 380,162.5 380.4,163 380.7,162.5 381.1,163.6 381.4,162.5 381.8,163.7 382.1,162.9 382.5,163.6 382.8,162.6 383.2,162.6 383.5,162.2 383.9,163.4 384.2,163.6 384.6,164.5 384.9,163.9 385.3,163.2 385.6,162.8 386,163.3 386.3,163 386.7,164 387,163.7 387.4,162.4 387.7,162.5 388.1,164" fill="none" stroke="#008000" stroke-width="0.75" stroke-linejoin="round" />
<polyline points="230.6,160.9 230.9,160.5 231.3,161.5 231.6,160.4 232,160.5 232.3,160.4 232.7,159.3 233,161.3 233.4,159.9 233.7,160.3 234.1,160.2 234.4,161.2 234.8,160.7 235.1,160.7 235.5,159.5 235.8,160.6 236.2,159.7 236.5,160.9 236.9,161 237.2,160.7 237.6,162.1 237.9,161.1 238.3,161.1 238.6,160.8 239,160.6 239.3,161.4 239.7,161.5 240,159.8 240.4,161.4 240.7,161.1 241.1,161.4 241.4,161 241.8,159.8 242.1,159.9 242.5,162 242.8,160.9 243.2,159.7 243.5,160.9 243.9,160.4 244.2,159.4 244.6,159.1 244.9,159.6 245.3,160.9 245.6,160.6 246,160.5 246.3,160.9 246.7,161.1 247,159.1 247.4,160.4 247.7,160 248.1,159.7 248.4,160.1 248.8,160.4 249.1,160.3 249.5,159.4 249.8,160.1 250.2,161.8 250.5,159.6 250.9,159.1 251.2,160.4 251.6,160.6 251.9,160.5 252.3,159.3 252.6,160.8 253,159.5 253.3,159.2 253.7,159.5 254,159.8 254.4,160.3 254.7,160.2 255.1,159.7 255.4,160.3 255.8,159.7 256.1,160.2 256.5,158.6 256.8,158.4 257.2,160 257.5,158.4 257.9,159.1 258.2,159.2 258.6,158.9 258.9,158.9 259.3,160.1 259.6,157.3 260,159.7 260.3,160.6 260.7,159 261,158.9 261.4,159.4 261.7,160.1 262.1,157.9 262.4,158.7 262.8,158.5 263.1,158.9 263.5,158.6 263.8,158.9 264.2,158.1 264.5,158.3 264.9,157.7 265.2,157.7 265.6,158 265.9,157.9 266.3,157.1 266.6,159 267,157.7 267.3,156.8 267.7,158.5 268,157.1 268.4,157.9 268.7,157.5 269.1,157.6 269.4,157.5 269.8,157 270.1,157.3 270.5,158.7 270.8,155.7 271.2,157.2 271.5,157.4 271.9,156.4 272.2,156.1 272.6,158.5 272.9,156.7 273.3,158.4 273.6,157.3 274,157 274.3,157.3 274.7,157.3 275,157.7 275.4,157.2 275.7,157 276.1,157 276.4,157.8 276.8,157.4 277.1,156.1 277.5,156.4 277.8,157 278.2,156.3 278.5,156.5 278.9,156.1 279.2,156.6 279.6,157 279.9,157.4 280.3,156.7 280.6,158.1 281,156.6 281.3,158.9 281.7,157.3 282,156.9 282.4,156.2 282.7,154.5 283.1,156.3 283.4,156.4 283.8,157.4 284.1,154.9 284.5,156.9 284.8,155.1 285.2,155.4 285.5,152.8 285.9,154.4 286.2,153.7 286.6,154.2 286.9,153.6 287.3,152.5 287.6,153.8 288,153.5 288.3,153.3 288.7,153.5 289,153.5 289.4,152.6 289.7,151.6 290.1,151.5 290.4,153.3 290.8,152.8 291.1,152.2 291.5,151.8 291.8,152 292.2,151.8 292.5,151.4 292.9,151 293.2,152.8 293.6,151.2 293.9,150.4 294.3,149.6 294.6,149.6 295,150.3 295.3,149.9 295.7,148.8 296,148.6 296.4,147.9 296.7,146.9 297.1,148.2 297.4,147.1 297.8,148.2 298.1,145.5 298.5,145.6 298.8,145.9 299.2,144.7 299.5,143.5 299.9,143.4 300.2,143.8 300.6,143.6 300.9,142.9 301.3,143.2 301.6,142.8 302,141.9 302.3,141.2 302.7,140.6 303,140.7 303.4,140.5 303.7,139.4 304.1,139.1 304.4,138.1 304.8,136.8 305.1,136.5 305.5,137.2 305.8,136.4 306.2,136.6 306.5,135 306.9,135 307.2,134.7 307.6,133.8 307.9,132.1 308.3,131.8 308.6,131.4 309,130 309.3,130.3 309.7,130.1 310,128.4 310.4,129.4 310.7,127.2 311.1,126.6 311.4,125.8 311.8,124.8 312.1,124.9 312.5,123.9 312.8,124.4 313.2,122.9 313.5,122.1 313.9,120.8 314.2,119.2 314.6,119.3 314.9,117.9 315.3,118.4 315.6,116.8 316,117.1 316.3,115.6 316.7,114.7 317,113.3 317.4,112.3 317.7,111.5 318.1,110.6 318.4,108.3 318.8,107.9 319.1,108 319.5,104.6 319.8,103 320.2,101 320.5,98.8 320.9,98.9 321.2,96.5 321.6,95.1 321.9,94.7 322.3,93.8 322.6,90.1 323,90.3 323.3,88.8 323.7,87.5 324,86.5 324.4,85.2 324.7,85.3 325.1,83.7 325.4,82.6 325.8,82.3 326.1,81.2 326.5,80.2 326.8,79.5 327.2,80.1 327.5,78.9 327.9,78.4 328.2,77.9 328.6,78.6 328.9,78.8 329.3,80.8 329.6,82.6 330,83.1 330.3,86.9 330.7,89.8 331,91.8 331.4,93.1 331.7,96.7 332.1,97.2 332.4,98.7 332.8,100.8 333.1,103.7 333.5,106.9 333.8,110 334.2,112.6 334.5,115.2 334.9,119.4 335.2,123 335.6,127.1 335.9,129.2 336.3,133.5 336.6,136.6 337,138.5 337.3,141.2 337.7,142.2 338,143.7 338.4,145.9 338.7,148.6 339.1,149.7 339.4,149.7 339.8,151.8 340.1,151.6 340.5,153.7 340.8,153.7 341.2,153.7 341.5,155.1 341.9,154.5 342.2,154.9 342.6,154.9 342.9,156.3 343.3,156.4 343.6,156.6 344,156.5 344.3,157.9 344.7,156.8 345,156.7 345.4,158.2 345.7,158.4 346.1,157.8 346.4,156.4 346.8,157.3 347.1,158.3 347.5,157.9 347.8,159.1 348.2,157.1 348.5,158.6 348.9,157.8 349.2,159.2 349.6,158.4 349.9,159.2 350.3,158.1 350.6,157.7 351,158 351.3,158.4 351.7,158.2 352,159.9 352.4,160.1 352.7,159.4 353.1,158.6 353.4,159.3 353.8,159 354.1,160.6 354.5,159.9 354.8,160.1 355.2,159.5 355.5,158.5 355.9,159.4 356.2,159.3 356.6,160.4 356.9,160.3 357.3,159.7 357.6,160.1 358,161.5 358.3,159.8 358.7,159.9 359,160.4 359.4,160.1 359.7,160.4 360.1,161.1 360.4,162 360.8,159.6 361.1,160.8 361.5,160.9 361.8,160.9 362.2,160.8 362.5,160.8 362.9,161.8 363.2,160.8 363.6,161.1 363.9,161.2 364.3,161.3 364.6,161.2 365,162 365.3,161.4 365.7,161.5 366,161.4 366.4,160.8 366.7,160.9 367.1,160.8 367.4,161.7 367.8,161.1 368.1,160.9 368.5,161.9 368.8,162.1 369.2,160.6 369.5,163 369.9,161.9 370.2,161.8 370.6,162.7 370.9,162 371.3,161.6 371.6,163.6 372,161.3 372.3,162.1 372.7,162.8 373,161.4 373.4,162.2 373.7,162.5 374.1,164 374.4,161.7 374.8,162.3 375.1,162.8 375.5,162.5 375.8,161.6 376.2,162.8 376.5,162.6 376.9,162.8 377.2,163.3 377.6,163.3 377.9,162.9 378.3,162.8 378.6,161.9 379,162.6 379.3,162.8 379.7,162.4 380,162.8 380.4,162.2 380.7,163.9 381.1,164.3 381.4,162.5 381.8,163.1 382.1,162.7 382.5,163.7 382.8,163.2 383.2,162.9 383.5,162.7 383.9,163 384.2,162.2 384.6,163.4 384.9,162.4 385.3,163.3 385.6,163.1 386,163.7 386.3,163 386.7,163.7 387,162.3 387.4,163.4 387.7,162.8 388.1,163.1" fill="none" stroke="#0000ff" stroke-width="0.75" stroke-linejoin="round" />
<polyline points="230.6,164.5 230.9,165.1 231.3,163 231.6,164.6 232,163.3 232.3,165.1 232.7,162.9 233,163.5 233.4,163 233.7,165.3 234.1,163.2 234.4,164.2 234.8,163.7 235.1,162.8 235.5,163.7 235.8,164.4 236.2,163.8 236.5,164.5 236.9,163.6 237.2,163.8 237.6,163.5 237.9,164 238.3,165.1 238.6,163.9 239,163.8 239.3,163.2 239.7,163.1 240,164.6 240.4,162.8 240.7,162.9 241.1,163.4 241.4,163.2 241.8,164.8 242.1,161.8 242.5,163.7 242.8,163.9 243.2,162.6 243.5,162.9 243.9,163.6 244.2,164.5 244.6,162.7 244.9,162.2 245.3,163.9 245.6,164.3 246,163 246.3,161.7 246.7,164.2 247,163.1 247.4,164 247.7,163.1 248.1,162.9 248.4,162.8 248.8,164.2 249.1,164.1 249.5,161.6 249.8,162.5 250.2,164.4 250.5,162.8 250.9,162.1 251.2,163.1 251.6,163 251.9,163 252.3,162.7 252.6,162.8 253,162.7 253.3,163.3 253.7,162.5 254,162.8 254.4,162.9 254.7,163.9 255.1,163.2 255.4,162.9 255.8,163.3 256.1,163.2 256.5,163.7 256.8,163.3 257.2,164.1 257.5,163.8 257.9,162.8 258.2,162.6 258.6,163.4 258.9,163.2 259.3,162.7 259.6,161.7 260,161.4 260.3,162.9 260.7,163.2 261,163.1 261.4,161.6 261.7,163.2 262.1,162 262.4,162.6 262.8,162.5 263.1,161.6 263.5,161.7 263.8,160.5 264.2,161.2 264.5,160.5 264.9,162 265.2,161.6 265.6,162.1 265.9,161.6 266.3,160.8 266.6,161.4 267,160.8 267.3,161.4 267.7,161.1 268,160 268.4,160.6 268.7,160.6 269.1,160.2 269.4,160.9 269.8,161.4 270.1,159.8 270.5,159.7 270.8,158.3 271.2,159.6 271.5,159.3 271.9,158 272.2,159.6 272.6,159.7 272.9,158.7 273.3,158.9 273.6,158.3 274,159.5 274.3,157.8 274.7,158.5 275,160 275.4,158.6 275.7,158.8 276.1,158.2 276.4,157.4 276.8,158.1 277.1,158.3 277.5,157.2 277.8,158.1 278.2,158.6 278.5,158.4 278.9,156.4 279.2,156.7 279.6,156.2 279.9,158 280.3,157.5 280.6,157.5 281,156.3 281.3,156 281.7,156.7 282,156.7 282.4,155.9 282.7,156.5 283.1,156.7 283.4,156.3 283.8,155.3 284.1,154.4 284.5,155.6 284.8,155.8 285.2,155.4 285.5,155.1 285.9,154.8 286.2,155.7 286.6,155 286.9,155 287.3,154.1 287.6,154.2 288,154.6 288.3,153.7 288.7,153.4 289,153.9 289.4,154.8 289.7,154 290.1,154.8 290.4,153.5 290.8,153.2 291.1,152.3 291.5,152.8 291.8,154 292.2,153.1 292.5,153.2 292.9,153.1 293.2,152.4 293.6,152.1 293.9,152.2 294.3,152.4 294.6,152.1 295,151.9 295.3,151.5 295.7,150.6 296,150.8 296.4,150.1 296.7,151.3 297.1,148.9 297.4,150 297.8,151.6 298.1,149.4 298.5,148.6 298.8,149 299.2,149.6 299.5,148.3 299.9,148.4 300.2,147.7 300.6,147 300.9,149.1 301.3,146.5 301.6,145.7 302,145.4 302.3,145.6 302.7,145.3 303,145.2 303.4,144.5 303.7,143.1 304.1,144.2 304.4,143.4 304.8,143.1 305.1,142 305.5,142.4 305.8,142.1 306.2,142.4 306.5,141.1 306.9,142 307.2,141.8 307.6,140.7 307.9,140.8 308.3,140.4 308.6,141.4 309,138.7 309.3,140 309.7,138.8 310,139.4 310.4,140 310.7,138.7 311.1,138.9 311.4,137.9 311.8,139.6 312.1,138.6 312.5,138.4 312.8,136.4 313.2,136.3 313.5,137.5 313.9,136.2 314.2,135.8 314.6,135.8 314.9,134.3 315.3,135.3 315.6,134.3 316,134.1 316.3,132.8 316.7,133 317,131.5 317.4,131.9 317.7,131.2 318.1,130.2 318.4,129.1 318.8,128.3 319.1,125 319.5,126.5 319.8,124.7 320.2,123.9 320.5,122.5 320.9,120.6 321.2,119.9 321.6,119.5 321.9,118.7 322.3,115.9 322.6,114.2 323,114.3 323.3,111.1 323.7,111.5 324,108.3 324.4,105.8 324.7,105.2 325.1,103.8 325.4,99.6 325.8,99.8 326.1,96.6 326.5,95.9 326.8,92.8 327.2,90.2 327.5,90 327.9,88.8 328.2,88.2 328.6,86.5 328.9,84.5 329.3,82.6 329.6,81.1 330,79.9 330.3,78.2 330.7,77.2 331,74.1 331.4,74.4 331.7,72.5 332.1,72.6 332.4,69.5 332.8,66.8 333.1,65.7 333.5,62.6 333.8,61.3 334.2,58.7 334.5,59.3 334.9,57 335.2,54.2 335.6,53.6 335.9,53.2 336.3,52.1 336.6,51.6 337,50.6 337.3,51 337.7,52 338,53.2 338.4,52.7 338.7,53.4 339.1,55.9 339.4,55.4 339.8,57.8 340.1,58.2 340.5,59.7 340.8,61.5 341.2,62 341.5,63.3 341.9,63.5 342.2,65.1 342.6,67.5 342.9,69.7 343.3,71.3 343.6,73.6 344,74 344.3,75.7 344.7,78.1 345,79.3 345.4,81 345.7,82.2 346.1,85.4 346.4,85.8 346.8,88.8 347.1,89.4 347.5,93 347.8,93.5 348.2,96.8 348.5,97.1 348.9,99.9 349.2,103.1 349.6,103.8 349.9,106.6 350.3,108.4 350.6,109.3 351,113.3 351.3,115.7 351.7,117 352,120.5 352.4,122 352.7,124.2 353.1,127.2 353.4,129 353.8,133.2 354.1,132.6 354.5,136.2 354.8,138.2 355.2,137.9 355.5,139.6 355.9,142.7 356.2,143.2 356.6,144.9 356.9,146.4 357.3,146.2 357.6,146.5 358,146.1 358.3,148.9 358.7,148.8 359,150.3 359.4,150.8 359.7,150.3 360.1,153 360.4,153.1 360.8,153.5 361.1,152.5 361.5,153.5 361.8,153.9 362.2,154.4 362.5,154.2 362.9,155.7 363.2,155.8 363.6,156.2 363.9,155.9 364.3,157.4 364.6,156.9 365,155.1 365.3,156.8 365.7,157.4 366,158.4 366.4,157.7 366.7,157.9 367.1,157.8 367.4,158.9 367.8,158.3 368.1,158.4 368.5,158.4 368.8,159.5 369.2,158.8 369.5,158.2 369.9,159.9 370.2,159.1 370.6,159.9 370.9,160 371.3,160.7 371.6,160.7 372,159.6 372.3,160 372.7,159.3 373,161.5 373.4,160.7 373.7,161.4 374.1,160.3 374.4,159.1 374.8,161.7 375.1,160.8 375.5,160.9 375.8,160.9 376.2,161.3 376.5,161.3 376.9,159.9 377.2,161.8 377.6,160.7 377.9,160.8 378.3,162.4 378.6,161.9 379,161.1 379.3,160 379.7,161.5 380,161.8 380.4,161.4 380.7,160.6 381.1,161 381.4,160.7 381.8,161.7 382.1,162.2 382.5,162.4 382.8,161.2 383.2,161.9 383.5,162.1 383.9,161.4 384.2,161.7 384.6,163.3 384.9,162 385.3,162.5 385.6,161.6 386,161.9 386.3,160.7 386.7,161.9 387,162.8 387.4,163.4 387.7,162.8 388.1,162.5" fill="none" stroke="#000000" stroke-width="0.75" stroke-linejoin="round" />
<text x="238.8" y="34.8" font-size="9.8" text-anchor="start" textLength="27.4" lengthAdjust="spacingAndGlyphs" >MQW1</text>
<line x1="272.5" y1="31.5" x2="300.5" y2="31.5" stroke="#ff0000" stroke-width="0.75"/>
<text x="238.8" y="45.3" font-size="9.8" text-anchor="start" textLength="27.4" lengthAdjust="spacingAndGlyphs" >MQW2</text>
<line x1="272.5" y1="42.0" x2="300.5" y2="42.0" stroke="#008000" stroke-width="0.75"/>
<text x="238.8" y="55.8" font-size="9.8" text-anchor="start" textLength="27.4" lengthAdjust="spacingAndGlyphs" >MQW3</text>
<line x1="272.5" y1="52.5" x2="300.5" y2="52.5" stroke="#0000ff" stroke-width="0.75"/>
<text x="238.8" y="66.3" font-size="9.8" text-anchor="start" textLength="27.4" lengthAdjust="spacingAndGlyphs" >MQW4</text>
<line x1="272.5" y1="63.0" x2="300.5" y2="63.0" stroke="#000000" stroke-width="0.75"/>
<text x="230.5" y="183.3" font-size="10.4" text-anchor="middle" textLength="12.5" lengthAdjust="spacingAndGlyphs" >2.0</text>
<text x="270" y="183.3" font-size="10.4" text-anchor="middle" textLength="12.5" lengthAdjust="spacingAndGlyphs" >2.5</text>
<text x="309.5" y="183.3" font-size="10.4" text-anchor="middle" textLength="12.5" lengthAdjust="spacingAndGlyphs" >3.0</text>
<text x="349" y="183.3" font-size="10.4" text-anchor="middle" textLength="12.5" lengthAdjust="spacingAndGlyphs" >3.5</text>
<text x="388.5" y="183.3" font-size="10.4" text-anchor="middle" textLength="12.5" lengthAdjust="spacingAndGlyphs" >4.0</text>
<text x="213" y="9.8" font-size="10.4" text-anchor="start" textLength="12.3" lengthAdjust="spacingAndGlyphs" >(b)</text>
<text x="257.3" y="8.9" font-size="11" text-anchor="start" textLength="104.5" lengthAdjust="spacingAndGlyphs" >Experiment, <tspan font-style="italic">T</tspan> = 300 K</text>
<text x="265.3" y="198.3" font-size="10.5" text-anchor="start" textLength="88.39999999999998" lengthAdjust="spacingAndGlyphs" >Wavelength, <tspan font-style="italic">λ</tspan> (<tspan font-style="italic">μ</tspan>m)</text>
<rect x="39.5" y="234.5" width="159.0" height="149.0" fill="none" stroke="#b3b3b3" stroke-width="1"/>
<path d="M59.4,383.5v-3M59.4,234.5v3M79.2,383.5v-3M79.2,234.5v3M99.1,383.5v-3M99.1,234.5v3M119,383.5v-3M119,234.5v3M138.9,383.5v-3M138.9,234.5v3M158.8,383.5v-3M158.8,234.5v3M178.6,383.5v-3M178.6,234.5v3" stroke="#b3b3b3" stroke-width="1" fill="none"/>
<path d="M39.5,377h3M198.5,377h-3M39.5,348.5h3M198.5,348.5h-3M39.5,320h3M198.5,320h-3M39.5,291.5h3M198.5,291.5h-3M39.5,263h3M198.5,263h-3" stroke="#b3b3b3" stroke-width="1" fill="none"/>
<polyline points="39.6,377.2 40,377.2 40.4,377.2 40.8,377.2 41.2,377.2 41.6,377.2 42,377.2 42.4,377.2 42.8,377.2 43.2,377.2 43.6,377.2 44,377.2 44.4,377.2 44.8,377.2 45.2,377.2 45.6,377.2 46,377.2 46.4,377.2 46.8,377.2 47.2,377.2 47.6,377.2 48,377.2 48.4,377.2 48.8,377.2 49.2,377.2 49.6,377.2 50,377.2 50.4,377.2 50.8,377.2 51.2,377.2 51.6,377.2 52,377.2 52.4,377.2 52.8,377.2 53.2,377.2 53.6,377.2 54,377.2 54.4,377.2 54.8,377.2 55.2,377.2 55.6,377.2 56,377.2 56.4,377.2 56.8,377.2 57.2,377.2 57.6,377.2 58,377.2 58.4,377.2 58.8,377.1 59.2,377.1 59.6,377.1 60,377.1 60.4,377.1 60.8,377.1 61.2,377.1 61.6,377.1 62,377.1 62.4,377 62.8,377 63.2,377 63.6,377 64,376.9 64.4,376.9 64.8,376.9 65.2,376.8 65.6,376.8 66,376.7 66.4,376.7 66.8,376.6 67.2,376.5 67.6,376.4 68,376.3 68.4,376.2 68.8,376.1 69.2,376 69.6,375.8 70,375.6 70.4,375.4 70.8,375.2 71.2,375 71.6,374.7 72,374.3 72.4,374 72.8,373.5 73.2,373.1 73.6,372.5 74,371.9 74.4,371.3 74.8,370.5 75.2,369.6 75.6,368.6 76,367.5 76.4,366.3 76.8,364.9 77.2,363.3 77.6,361.5 78,359.5 78.4,357.3 78.8,354.7 79.2,351.8 79.6,348.6 80,345 80.4,341 80.8,336.5 81.2,331.5 81.6,326.1 82,320.1 82.4,313.6 82.8,306.7 83.2,299.5 83.6,292.1 84,284.9 84.4,278 84.8,271.9 85.2,267.1 85.6,263.7 86,262.3 86.4,262.7 86.8,264.9 87.2,268.7 87.6,273.7 88,279.7 88.4,286.4 88.8,293.3 89.2,300.3 89.6,307.1 90,313.6 90.4,319.8 90.8,325.5 91.2,330.8 91.6,335.6 92,339.9 92.4,343.8 92.8,347.4 93.2,350.6 93.6,353.4 94,356 94.4,358.3 94.8,360.3 95.2,362.2 95.6,363.8 96,365.3 96.4,366.6 96.8,367.7 97.2,368.7 97.6,369.7 98,370.5 98.4,371.2 98.8,371.9 99.2,372.4 99.6,373 100,373.4 100.4,373.8 100.8,374.2 101.2,374.5 101.6,374.8 102,375.1 102.4,375.3 102.8,375.5 103.2,375.7 103.6,375.9 104,376 104.4,376.1 104.8,376.3 105.2,376.4 105.6,376.4 106,376.5 106.4,376.6 106.8,376.7 107.2,376.7 107.6,376.8 108,376.8 108.4,376.9 108.8,376.9 109.2,376.9 109.6,377 110,377 110.4,377 110.8,377 111.2,377.1 111.6,377.1 112,377.1 112.4,377.1 112.8,377.1 113.2,377.1 113.6,377.1 114,377.1 114.4,377.1 114.8,377.1 115.2,377.2 115.6,377.2 116,377.2 116.4,377.2 116.8,377.2 117.2,377.2 117.6,377.2 118,377.2 118.4,377.2 118.8,377.2 119.2,377.2 119.6,377.2 120,377.2 120.4,377.2 120.8,377.2 121.2,377.2 121.6,377.2 122,377.2 122.4,377.2 122.8,377.2 123.2,377.2 123.6,377.2 124,377.2 124.4,377.2 124.8,377.2 125.2,377.2 125.6,377.2 126,377.2 126.4,377.2 126.8,377.2 127.2,377.2 127.6,377.2 128,377.2 128.4,377.2 128.8,377.2 129.2,377.2 129.6,377.2 130,377.2 130.4,377.2 130.8,377.2 131.2,377.2 131.6,377.2 132,377.2 132.4,377.2 132.8,377.2 133.2,377.2 133.6,377.2 134,377.2 134.4,377.2 134.8,377.2 135.2,377.2 135.6,377.2 136,377.2 136.4,377.2 136.8,377.2 137.2,377.2 137.6,377.2 138,377.2 138.4,377.2 138.8,377.2 139.2,377.2 139.6,377.2 140,377.2 140.4,377.2 140.8,377.2 141.2,377.2 141.6,377.2 142,377.2 142.4,377.2 142.8,377.2 143.2,377.2 143.6,377.2 144,377.2 144.4,377.2 144.8,377.2 145.2,377.2 145.6,377.2 146,377.2 146.4,377.2 146.8,377.2 147.2,377.2 147.6,377.2 148,377.2 148.4,377.2 148.8,377.2 149.2,377.2 149.6,377.2 150,377.2 150.4,377.2 150.8,377.2 151.2,377.2 151.6,377.2 152,377.2 152.4,377.2 152.8,377.2 153.2,377.2 153.6,377.2 154,377.2 154.4,377.2 154.8,377.2 155.2,377.2 155.6,377.2 156,377.2 156.4,377.2 156.8,377.2 157.2,377.2 157.6,377.2 158,377.2 158.4,377.2 158.8,377.2 159.2,377.2 159.6,377.2 160,377.2 160.4,377.2 160.8,377.2 161.2,377.2 161.6,377.2 162,377.2 162.4,377.2 162.8,377.2 163.2,377.2 163.6,377.2 164,377.2 164.4,377.2 164.8,377.2 165.2,377.2 165.6,377.2 166,377.2 166.4,377.2 166.8,377.2 167.2,377.2 167.6,377.2 168,377.2 168.4,377.2 168.8,377.2 169.2,377.2 169.6,377.2 170,377.2 170.4,377.2 170.8,377.2 171.2,377.2 171.6,377.2 172,377.2 172.4,377.2 172.8,377.2 173.2,377.2 173.6,377.2 174,377.2 174.4,377.2 174.8,377.2 175.2,377.2 175.6,377.2 176,377.2 176.4,377.2 176.8,377.2 177.2,377.2 177.6,377.2 178,377.2 178.4,377.2 178.8,377.2 179.2,377.2 179.6,377.2 180,377.2 180.4,377.2 180.8,377.2 181.2,377.2 181.6,377.2 182,377.2 182.4,377.2 182.8,377.2 183.2,377.2 183.6,377.2 184,377.2 184.4,377.2 184.8,377.2 185.2,377.2 185.6,377.2 186,377.2 186.4,377.2 186.8,377.2 187.2,377.2 187.6,377.2 188,377.2 188.4,377.2 188.8,377.2 189.2,377.2 189.6,377.2 190,377.2 190.4,377.2 190.8,377.2 191.2,377.2 191.6,377.2 192,377.2 192.4,377.2 192.8,377.2 193.2,377.2 193.6,377.2 194,377.2 194.4,377.2 194.8,377.2 195.2,377.2 195.6,377.2 196,377.2 196.4,377.2 196.8,377.2 197.2,377.2 197.6,377.2 198,377.2" fill="none" stroke="#ff0000" stroke-width="0.75" stroke-linejoin="round" />
<polyline points="39.6,377.2 40,377.2 40.4,377.2 40.8,377.2 41.2,377.2 41.6,377.2 42,377.2 42.4,377.2 42.8,377.2 43.2,377.2 43.6,377.2 44,377.2 44.4,377.2 44.8,377.2 45.2,377.2 45.6,377.2 46,377.2 46.4,377.2 46.8,377.2 47.2,377.2 47.6,377.2 48,377.2 48.4,377.2 48.8,377.2 49.2,377.2 49.6,377.2 50,377.2 50.4,377.2 50.8,377.2 51.2,377.2 51.6,377.2 52,377.2 52.4,377.2 52.8,377.2 53.2,377.2 53.6,377.2 54,377.2 54.4,377.2 54.8,377.2 55.2,377.2 55.6,377.2 56,377.2 56.4,377.2 56.8,377.2 57.2,377.2 57.6,377.2 58,377.2 58.4,377.2 58.8,377.2 59.2,377.2 59.6,377.2 60,377.2 60.4,377.2 60.8,377.2 61.2,377.2 61.6,377.2 62,377.2 62.4,377.2 62.8,377.2 63.2,377.2 63.6,377.2 64,377.2 64.4,377.2 64.8,377.2 65.2,377.2 65.6,377.2 66,377.2 66.4,377.2 66.8,377.2 67.2,377.2 67.6,377.2 68,377.2 68.4,377.2 68.8,377.2 69.2,377.2 69.6,377.2 70,377.2 70.4,377.2 70.8,377.2 71.2,377.2 71.6,377.2 72,377.2 72.4,377.2 72.8,377.2 73.2,377.2 73.6,377.2 74,377.2 74.4,377.2 74.8,377.2 75.2,377.1 75.6,377.1 76,377.1 76.4,377.1 76.8,377.1 77.2,377.1 77.6,377.1 78,377.1 78.4,377.1 78.8,377.1 79.2,377 79.6,377 80,377 80.4,377 80.8,377 81.2,376.9 81.6,376.9 82,376.9 82.4,376.8 82.8,376.8 83.2,376.7 83.6,376.7 84,376.6 84.4,376.5 84.8,376.5 85.2,376.4 85.6,376.3 86,376.2 86.4,376 86.8,375.9 87.2,375.8 87.6,375.6 88,375.4 88.4,375.2 88.8,375 89.2,374.7 89.6,374.4 90,374.1 90.4,373.7 90.8,373.3 91.2,372.9 91.6,372.4 92,371.8 92.4,371.2 92.8,370.5 93.2,369.8 93.6,368.9 94,367.9 94.4,366.9 94.8,365.7 95.2,364.3 95.6,362.9 96,361.2 96.4,359.3 96.8,357.3 97.2,355 97.6,352.5 98,349.6 98.4,346.5 98.8,343 99.2,339.1 99.6,334.9 100,330.2 100.4,325.1 100.8,319.5 101.2,313.5 101.6,307.1 102,300.3 102.4,293.2 102.8,285.9 103.2,278.7 103.6,271.8 104,265.4 104.4,260 104.8,255.7 105.2,252.9 105.6,251.8 106,252.5 106.4,254.9 106.8,258.8 107.2,264 107.6,270.1 108,277 108.4,284.1 108.8,291.4 109.2,298.5 109.6,305.4 110,312 110.4,318.1 110.8,323.8 111.2,329 111.6,333.8 112,338.1 112.4,342.1 112.8,345.6 113.2,348.9 113.6,351.8 114,354.4 114.4,356.7 114.8,358.9 115.2,360.7 115.6,362.5 116,364 116.4,365.4 116.8,366.6 117.2,367.7 117.6,368.7 118,369.6 118.4,370.3 118.8,371.1 119.2,371.7 119.6,372.3 120,372.8 120.4,373.2 120.8,373.7 121.2,374 121.6,374.4 122,374.6 122.4,374.9 122.8,375.1 123.2,375.4 123.6,375.6 124,375.7 124.4,375.9 124.8,376 125.2,376.1 125.6,376.2 126,376.3 126.4,376.4 126.8,376.5 127.2,376.6 127.6,376.7 128,376.7 128.4,376.8 128.8,376.8 129.2,376.8 129.6,376.9 130,376.9 130.4,376.9 130.8,377 131.2,377 131.6,377 132,377 132.4,377.1 132.8,377.1 133.2,377.1 133.6,377.1 134,377.1 134.4,377.1 134.8,377.1 135.2,377.1 135.6,377.1 136,377.1 136.4,377.2 136.8,377.2 137.2,377.2 137.6,377.2 138,377.2 138.4,377.2 138.8,377.2 139.2,377.2 139.6,377.2 140,377.2 140.4,377.2 140.8,377.2 141.2,377.2 141.6,377.2 142,377.2 142.4,377.2 142.8,377.2 143.2,377.2 143.6,377.2 144,377.2 144.4,377.2 144.8,377.2 145.2,377.2 145.6,377.2 146,377.2 146.4,377.2 146.8,377.2 147.2,377.2 147.6,377.2 148,377.2 148.4,377.2 148.8,377.2 149.2,377.2 149.6,377.2 150,377.2 150.4,377.2 150.8,377.2 151.2,377.2 151.6,377.2 152,377.2 152.4,377.2 152.8,377.2 153.2,377.2 153.6,377.2 154,377.2 154.4,377.2 154.8,377.2 155.2,377.2 155.6,377.2 156,377.2 156.4,377.2 156.8,377.2 157.2,377.2 157.6,377.2 158,377.2 158.4,377.2 158.8,377.2 159.2,377.2 159.6,377.2 160,377.2 160.4,377.2 160.8,377.2 161.2,377.2 161.6,377.2 162,377.2 162.4,377.2 162.8,377.2 163.2,377.2 163.6,377.2 164,377.2 164.4,377.2 164.8,377.2 165.2,377.2 165.6,377.2 166,377.2 166.4,377.2 166.8,377.2 167.2,377.2 167.6,377.2 168,377.2 168.4,377.2 168.8,377.2 169.2,377.2 169.6,377.2 170,377.2 170.4,377.2 170.8,377.2 171.2,377.2 171.6,377.2 172,377.2 172.4,377.2 172.8,377.2 173.2,377.2 173.6,377.2 174,377.2 174.4,377.2 174.8,377.2 175.2,377.2 175.6,377.2 176,377.2 176.4,377.2 176.8,377.2 177.2,377.2 177.6,377.2 178,377.2 178.4,377.2 178.8,377.2 179.2,377.2 179.6,377.2 180,377.2 180.4,377.2 180.8,377.2 181.2,377.2 181.6,377.2 182,377.2 182.4,377.2 182.8,377.2 183.2,377.2 183.6,377.2 184,377.2 184.4,377.2 184.8,377.2 185.2,377.2 185.6,377.2 186,377.2 186.4,377.2 186.8,377.2 187.2,377.2 187.6,377.2 188,377.2 188.4,377.2 188.8,377.2 189.2,377.2 189.6,377.2 190,377.2 190.4,377.2 190.8,377.2 191.2,377.2 191.6,377.2 192,377.2 192.4,377.2 192.8,377.2 193.2,377.2 193.6,377.2 194,377.2 194.4,377.2 194.8,377.2 195.2,377.2 195.6,377.2 196,377.2 196.4,377.2 196.8,377.2 197.2,377.2 197.6,377.2 198,377.2" fill="none" stroke="#008000" stroke-width="0.75" stroke-linejoin="round" />
<polyline points="39.6,377.2 40,377.2 40.4,377.2 40.8,377.2 41.2,377.2 41.6,377.2 42,377.2 42.4,377.2 42.8,377.2 43.2,377.2 43.6,377.2 44,377.2 44.4,377.2 44.8,377.2 45.2,377.2 45.6,377.2 46,377.2 46.4,377.2 46.8,377.2 47.2,377.2 47.6,377.2 48,377.2 48.4,377.2 48.8,377.2 49.2,377.2 49.6,377.2 50,377.2 50.4,377.2 50.8,377.2 51.2,377.2 51.6,377.2 52,377.2 52.4,377.2 52.8,377.2 53.2,377.2 53.6,377.2 54,377.2 54.4,377.2 54.8,377.2 55.2,377.2 55.6,377.2 56,377.2 56.4,377.2 56.8,377.2 57.2,377.2 57.6,377.2 58,377.2 58.4,377.2 58.8,377.2 59.2,377.2 59.6,377.2 60,377.2 60.4,377.2 60.8,377.2 61.2,377.2 61.6,377.2 62,377.2 62.4,377.2 62.8,377.2 63.2,377.2 63.6,377.2 64,377.2 64.4,377.2 64.8,377.2 65.2,377.2 65.6,377.2 66,377.2 66.4,377.2 66.8,377.2 67.2,377.2 67.6,377.2 68,377.2 68.4,377.2 68.8,377.2 69.2,377.2 69.6,377.2 70,377.2 70.4,377.2 70.8,377.2 71.2,377.2 71.6,377.2 72,377.2 72.4,377.2 72.8,377.2 73.2,377.2 73.6,377.2 74,377.2 74.4,377.2 74.8,377.2 75.2,377.2 75.6,377.2 76,377.2 76.4,377.2 76.8,377.2 77.2,377.2 77.6,377.2 78,377.2 78.4,377.2 78.8,377.2 79.2,377.2 79.6,377.2 80,377.2 80.4,377.2 80.8,377.2 81.2,377.2 81.6,377.2 82,377.2 82.4,377.2 82.8,377.2 83.2,377.2 83.6,377.1 84,377.1 84.4,377.1 84.8,377.1 85.2,377.1 85.6,377.1 86,377.1 86.4,377.1 86.8,377.1 87.2,377.1 87.6,377.1 88,377.1 88.4,377 88.8,377 89.2,377 89.6,377 90,377 90.4,376.9 90.8,376.9 91.2,376.9 91.6,376.9 92,376.8 92.4,376.8 92.8,376.8 93.2,376.7 93.6,376.7 94,376.6 94.4,376.6 94.8,376.5 95.2,376.4 95.6,376.3 96,376.3 96.4,376.2 96.8,376.1 97.2,376 97.6,375.8 98,375.7 98.4,375.5 98.8,375.4 99.2,375.2 99.6,375 100,374.8 100.4,374.5 100.8,374.3 101.2,374 101.6,373.7 102,373.3 102.4,372.9 102.8,372.5 103.2,372.1 103.6,371.6 104,371 104.4,370.4 104.8,369.7 105.2,369 105.6,368.1 106,367.3 106.4,366.3 106.8,365.2 107.2,364 107.6,362.7 108,361.3 108.4,359.7 108.8,358 109.2,356.1 109.6,354 110,351.8 110.4,349.3 110.8,346.6 111.2,343.7 111.6,340.5 112,337.1 112.4,333.3 112.8,329.3 113.2,325 113.6,320.4 114,315.6 114.4,310.6 114.8,305.4 115.2,300.1 115.6,294.9 116,289.8 116.4,285 116.8,280.7 117.2,277.1 117.6,274.2 118,272.4 118.4,271.5 118.8,271.8 119.2,273.1 119.6,275.3 120,278.5 120.4,282.3 120.8,286.6 121.2,291.4 121.6,296.4 122,301.5 122.4,306.6 122.8,311.7 123.2,316.5 123.6,321.2 124,325.6 124.4,329.7 124.8,333.6 125.2,337.2 125.6,340.6 126,343.7 126.4,346.5 126.8,349.2 127.2,351.6 127.6,353.8 128,355.8 128.4,357.7 128.8,359.4 129.2,360.9 129.6,362.4 130,363.7 130.4,364.8 130.8,365.9 131.2,366.9 131.6,367.8 132,368.6 132.4,369.4 132.8,370.1 133.2,370.7 133.6,371.3 134,371.8 134.4,372.3 134.8,372.7 135.2,373.1 135.6,373.5 136,373.8 136.4,374.1 136.8,374.4 137.2,374.6 137.6,374.8 138,375 138.4,375.2 138.8,375.4 139.2,375.6 139.6,375.7 140,375.8 140.4,376 140.8,376.1 141.2,376.2 141.6,376.3 142,376.3 142.4,376.4 142.8,376.5 143.2,376.5 143.6,376.6 144,376.7 144.4,376.7 144.8,376.7 145.2,376.8 145.6,376.8 146,376.9 146.4,376.9 146.8,376.9 147.2,376.9 147.6,377 148,377 148.4,377 148.8,377 149.2,377 149.6,377 150,377.1 150.4,377.1 150.8,377.1 151.2,377.1 151.6,377.1 152,377.1 152.4,377.1 152.8,377.1 153.2,377.1 153.6,377.1 154,377.1 154.4,377.2 154.8,377.2 155.2,377.2 155.6,377.2 156,377.2 156.4,377.2 156.8,377.2 157.2,377.2 157.6,377.2 158,377.2 158.4,377.2 158.8,377.2 159.2,377.2 159.6,377.2 160,377.2 160.4,377.2 160.8,377.2 161.2,377.2 161.6,377.2 162,377.2 162.4,377.2 162.8,377.2 163.2,377.2 163.6,377.2 164,377.2 164.4,377.2 164.8,377.2 165.2,377.2 165.6,377.2 166,377.2 166.4,377.2 166.8,377.2 167.2,377.2 167.6,377.2 168,377.2 168.4,377.2 168.8,377.2 169.2,377.2 169.6,377.2 170,377.2 170.4,377.2 170.8,377.2 171.2,377.2 171.6,377.2 172,377.2 172.4,377.2 172.8,377.2 173.2,377.2 173.6,377.2 174,377.2 174.4,377.2 174.8,377.2 175.2,377.2 175.6,377.2 176,377.2 176.4,377.2 176.8,377.2 177.2,377.2 177.6,377.2 178,377.2 178.4,377.2 178.8,377.2 179.2,377.2 179.6,377.2 180,377.2 180.4,377.2 180.8,377.2 181.2,377.2 181.6,377.2 182,377.2 182.4,377.2 182.8,377.2 183.2,377.2 183.6,377.2 184,377.2 184.4,377.2 184.8,377.2 185.2,377.2 185.6,377.2 186,377.2 186.4,377.2 186.8,377.2 187.2,377.2 187.6,377.2 188,377.2 188.4,377.2 188.8,377.2 189.2,377.2 189.6,377.2 190,377.2 190.4,377.2 190.8,377.2 191.2,377.2 191.6,377.2 192,377.2 192.4,377.2 192.8,377.2 193.2,377.2 193.6,377.2 194,377.2 194.4,377.2 194.8,377.2 195.2,377.2 195.6,377.2 196,377.2 196.4,377.2 196.8,377.2 197.2,377.2 197.6,377.2 198,377.2" fill="none" stroke="#000000" stroke-width="0.75" stroke-linejoin="round" />
<polyline points="39.6,377.2 40,377.2 40.4,377.2 40.8,377.2 41.2,377.2 41.6,377.2 42,377.2 42.4,377.2 42.8,377.2 43.2,377.2 43.6,377.2 44,377.2 44.4,377.2 44.8,377.2 45.2,377.2 45.6,377.2 46,377.2 46.4,377.2 46.8,377.2 47.2,377.2 47.6,377.2 48,377.2 48.4,377.2 48.8,377.2 49.2,377.2 49.6,377.2 50,377.2 50.4,377.2 50.8,377.2 51.2,377.2 51.6,377.2 52,377.2 52.4,377.2 52.8,377.2 53.2,377.2 53.6,377.2 54,377.2 54.4,377.2 54.8,377.2 55.2,377.2 55.6,377.2 56,377.2 56.4,377.2 56.8,377.2 57.2,377.2 57.6,377.2 58,377.2 58.4,377.2 58.8,377.2 59.2,377.2 59.6,377.2 60,377.2 60.4,377.2 60.8,377.2 61.2,377.2 61.6,377.2 62,377.2 62.4,377.2 62.8,377.2 63.2,377.2 63.6,377.2 64,377.2 64.4,377.2 64.8,377.2 65.2,377.2 65.6,377.2 66,377.2 66.4,377.2 66.8,377.2 67.2,377.2 67.6,377.2 68,377.2 68.4,377.2 68.8,377.2 69.2,377.2 69.6,377.2 70,377.2 70.4,377.2 70.8,377.2 71.2,377.2 71.6,377.2 72,377.2 72.4,377.2 72.8,377.2 73.2,377.2 73.6,377.2 74,377.2 74.4,377.2 74.8,377.2 75.2,377.2 75.6,377.2 76,377.2 76.4,377.2 76.8,377.2 77.2,377.2 77.6,377.2 78,377.2 78.4,377.2 78.8,377.2 79.2,377.2 79.6,377.1 80,377.1 80.4,377.1 80.8,377.1 81.2,377.1 81.6,377.1 82,377.1 82.4,377.1 82.8,377.1 83.2,377.1 83.6,377.1 84,377 84.4,377 84.8,377 85.2,377 85.6,376.9 86,376.9 86.4,376.9 86.8,376.9 87.2,376.8 87.6,376.8 88,376.7 88.4,376.7 88.8,376.6 89.2,376.6 89.6,376.5 90,376.4 90.4,376.3 90.8,376.2 91.2,376.1 91.6,376 92,375.9 92.4,375.8 92.8,375.6 93.2,375.4 93.6,375.2 94,375 94.4,374.8 94.8,374.5 95.2,374.2 95.6,373.9 96,373.5 96.4,373.2 96.8,372.7 97.2,372.2 97.6,371.7 98,371.1 98.4,370.4 98.8,369.7 99.2,368.9 99.6,368 100,367 100.4,365.9 100.8,364.6 101.2,363.3 101.6,361.8 102,360.1 102.4,358.3 102.8,356.2 103.2,354 103.6,351.5 104,348.8 104.4,345.7 104.8,342.4 105.2,338.8 105.6,334.8 106,330.5 106.4,325.8 106.8,320.7 107.2,315.2 107.6,309.5 108,303.5 108.4,297.2 108.8,291 109.2,284.8 109.6,278.9 110,273.4 110.4,268.8 110.8,265.2 111.2,262.7 111.6,261.6 112,262 112.4,263.5 112.8,266.3 113.2,270 113.6,274.6 114,279.8 114.4,285.5 114.8,291.3 115.2,297.2 115.6,303.1 116,308.8 116.4,314.3 116.8,319.5 117.2,324.3 117.6,328.9 118,333.1 118.4,337 118.8,340.6 119.2,343.9 119.6,346.9 120,349.6 120.4,352.2 120.8,354.4 121.2,356.5 121.6,358.4 122,360.2 122.4,361.7 122.8,363.2 123.2,364.5 123.6,365.6 124,366.7 124.4,367.7 124.8,368.6 125.2,369.4 125.6,370.1 126,370.7 126.4,371.3 126.8,371.9 127.2,372.4 127.6,372.8 128,373.2 128.4,373.6 128.8,373.9 129.2,374.2 129.6,374.5 130,374.8 130.4,375 130.8,375.2 131.2,375.4 131.6,375.5 132,375.7 132.4,375.8 132.8,376 133.2,376.1 133.6,376.2 134,376.3 134.4,376.4 134.8,376.4 135.2,376.5 135.6,376.6 136,376.6 136.4,376.7 136.8,376.7 137.2,376.8 137.6,376.8 138,376.8 138.4,376.9 138.8,376.9 139.2,376.9 139.6,377 140,377 140.4,377 140.8,377 141.2,377 141.6,377.1 142,377.1 142.4,377.1 142.8,377.1 143.2,377.1 143.6,377.1 144,377.1 144.4,377.1 144.8,377.1 145.2,377.1 145.6,377.1 146,377.1 146.4,377.2 146.8,377.2 147.2,377.2 147.6,377.2 148,377.2 148.4,377.2 148.8,377.2 149.2,377.2 149.6,377.2 150,377.2 150.4,377.2 150.8,377.2 151.2,377.2 151.6,377.2 152,377.2 152.4,377.2 152.8,377.2 153.2,377.2 153.6,377.2 154,377.2 154.4,377.2 154.8,377.2 155.2,377.2 155.6,377.2 156,377.2 156.4,377.2 156.8,377.2 157.2,377.2 157.6,377.2 158,377.2 158.4,377.2 158.8,377.2 159.2,377.2 159.6,377.2 160,377.2 160.4,377.2 160.8,377.2 161.2,377.2 161.6,377.2 162,377.2 162.4,377.2 162.8,377.2 163.2,377.2 163.6,377.2 164,377.2 164.4,377.2 164.8,377.2 165.2,377.2 165.6,377.2 166,377.2 166.4,377.2 166.8,377.2 167.2,377.2 167.6,377.2 168,377.2 168.4,377.2 168.8,377.2 169.2,377.2 169.6,377.2 170,377.2 170.4,377.2 170.8,377.2 171.2,377.2 171.6,377.2 172,377.2 172.4,377.2 172.8,377.2 173.2,377.2 173.6,377.2 174,377.2 174.4,377.2 174.8,377.2 175.2,377.2 175.6,377.2 176,377.2 176.4,377.2 176.8,377.2 177.2,377.2 177.6,377.2 178,377.2 178.4,377.2 178.8,377.2 179.2,377.2 179.6,377.2 180,377.2 180.4,377.2 180.8,377.2 181.2,377.2 181.6,377.2 182,377.2 182.4,377.2 182.8,377.2 183.2,377.2 183.6,377.2 184,377.2 184.4,377.2 184.8,377.2 185.2,377.2 185.6,377.2 186,377.2 186.4,377.2 186.8,377.2 187.2,377.2 187.6,377.2 188,377.2 188.4,377.2 188.8,377.2 189.2,377.2 189.6,377.2 190,377.2 190.4,377.2 190.8,377.2 191.2,377.2 191.6,377.2 192,377.2 192.4,377.2 192.8,377.2 193.2,377.2 193.6,377.2 194,377.2 194.4,377.2 194.8,377.2 195.2,377.2 195.6,377.2 196,377.2 196.4,377.2 196.8,377.2 197.2,377.2 197.6,377.2 198,377.2" fill="none" stroke="#0000ff" stroke-width="0.75" stroke-linejoin="round" />
<text x="128.8" y="247.8" font-size="9.8" text-anchor="start" textLength="27.4" lengthAdjust="spacingAndGlyphs" >MQW1</text>
<line x1="162.7" y1="244.5" x2="190.9" y2="244.5" stroke="#ff0000" stroke-width="0.75"/>
<text x="128.8" y="258.3" font-size="9.8" text-anchor="start" textLength="27.4" lengthAdjust="spacingAndGlyphs" >MQW2</text>
<line x1="162.7" y1="255.0" x2="190.9" y2="255.0" stroke="#008000" stroke-width="0.75"/>
<text x="128.8" y="268.8" font-size="9.8" text-anchor="start" textLength="27.4" lengthAdjust="spacingAndGlyphs" >MQW3</text>
<line x1="162.7" y1="265.5" x2="190.9" y2="265.5" stroke="#0000ff" stroke-width="0.75"/>
<text x="128.8" y="279.1" font-size="9.8" text-anchor="start" textLength="27.4" lengthAdjust="spacingAndGlyphs" >MQW4</text>
<line x1="162.7" y1="275.8" x2="190.9" y2="275.8" stroke="#000000" stroke-width="0.75"/>
<text x="33.3" y="265.5" font-size="10.7" text-anchor="end" textLength="12.2" lengthAdjust="spacingAndGlyphs" >1.0</text>
<text x="33.3" y="322.5" font-size="10.7" text-anchor="end" textLength="12.2" lengthAdjust="spacingAndGlyphs" >0.5</text>
<text x="33.3" y="379.5" font-size="10.7" text-anchor="end" textLength="12.2" lengthAdjust="spacingAndGlyphs" >0.0</text>
<text x="39.5" y="396.3" font-size="10.4" text-anchor="middle" textLength="12.5" lengthAdjust="spacingAndGlyphs" >2.0</text>
<text x="79.2" y="396.3" font-size="10.4" text-anchor="middle" textLength="12.5" lengthAdjust="spacingAndGlyphs" >2.5</text>
<text x="119" y="396.3" font-size="10.4" text-anchor="middle" textLength="12.5" lengthAdjust="spacingAndGlyphs" >3.0</text>
<text x="158.8" y="396.3" font-size="10.4" text-anchor="middle" textLength="12.5" lengthAdjust="spacingAndGlyphs" >3.5</text>
<text x="198.5" y="396.3" font-size="10.4" text-anchor="middle" textLength="12.5" lengthAdjust="spacingAndGlyphs" >4.0</text>
<text x="22" y="223" font-size="10.4" text-anchor="start" textLength="11.6" lengthAdjust="spacingAndGlyphs" >(c)</text>
<text x="82.6" y="221.9" font-size="11" text-anchor="start" textLength="73.2" lengthAdjust="spacingAndGlyphs" >Theory, <tspan font-style="italic">T</tspan> = 4 K</text>
<text x="74.6" y="411.3" font-size="10.5" text-anchor="start" textLength="88.4" lengthAdjust="spacingAndGlyphs" >Wavelength, <tspan font-style="italic">λ</tspan> (<tspan font-style="italic">μ</tspan>m)</text>
<text transform="translate(9.3,345.3) rotate(-90)" x="0" y="0" font-size="10.5" textLength="80.3" lengthAdjust="spacingAndGlyphs">SE rate (arb. units)</text>
<rect x="230.5" y="234.5" width="158.0" height="149.0" fill="none" stroke="#b3b3b3" stroke-width="1"/>
<path d="M250.2,383.5v-3M250.2,234.5v3M270,383.5v-3M270,234.5v3M289.8,383.5v-3M289.8,234.5v3M309.5,383.5v-3M309.5,234.5v3M329.2,383.5v-3M329.2,234.5v3M349,383.5v-3M349,234.5v3M368.8,383.5v-3M368.8,234.5v3" stroke="#b3b3b3" stroke-width="1" fill="none"/>
<path d="M230.5,377h3M388.5,377h-3M230.5,348.5h3M388.5,348.5h-3M230.5,320h3M388.5,320h-3M230.5,291.5h3M388.5,291.5h-3M230.5,263h3M388.5,263h-3" stroke="#b3b3b3" stroke-width="1" fill="none"/>
<polyline points="230.6,377 231,377 231.4,377 231.8,377 232.2,377 232.6,377 233,377 233.4,377 233.8,377 234.2,376.9 234.6,376.9 235,376.9 235.4,376.9 235.8,376.9 236.2,376.9 236.6,376.9 237,376.8 237.4,376.8 237.8,376.8 238.2,376.8 238.6,376.8 239,376.7 239.4,376.7 239.8,376.7 240.2,376.7 240.6,376.6 241,376.6 241.4,376.6 241.8,376.6 242.2,376.6 242.6,376.5 243,376.5 243.4,376.5 243.8,376.4 244.2,376.4 244.6,376.4 245,376.4 245.4,376.3 245.8,376.3 246.2,376.3 246.6,376.2 247,376.2 247.4,376.1 247.8,376.1 248.2,376 248.6,376 249,375.9 249.4,375.9 249.8,375.8 250.2,375.8 250.6,375.7 251,375.7 251.4,375.6 251.8,375.5 252.2,375.5 252.6,375.4 253,375.3 253.4,375.2 253.8,375.2 254.2,375.1 254.6,375 255,374.9 255.4,374.8 255.8,374.7 256.2,374.7 256.6,374.6 257,374.5 257.4,374.4 257.8,374.3 258.2,374.2 258.6,374.1 259,373.9 259.4,373.8 259.8,373.7 260.2,373.5 260.6,373.4 261,373.2 261.4,373.1 261.8,372.9 262.2,372.7 262.6,372.5 263,372.3 263.4,372.1 263.8,371.8 264.2,371.6 264.6,371.4 265,371.1 265.4,370.8 265.8,370.6 266.2,370.3 266.6,370 267,369.7 267.4,369.4 267.8,369.1 268.2,368.8 268.6,368.5 269,368.2 269.4,367.9 269.8,367.5 270.2,367.2 270.6,366.9 271,366.5 271.4,366.2 271.8,365.8 272.2,365.4 272.6,365.1 273,364.7 273.4,364.3 273.8,363.9 274.2,363.4 274.6,363 275,362.5 275.4,362 275.8,361.5 276.2,361 276.6,360.5 277,360 277.4,359.4 277.8,358.8 278.2,358.2 278.6,357.6 279,357 279.4,356.4 279.8,355.7 280.2,355 280.6,354.3 281,353.6 281.4,352.9 281.8,352.1 282.2,351.3 282.6,350.5 283,349.6 283.4,348.7 283.8,347.8 284.2,346.8 284.6,345.8 285,344.7 285.4,343.6 285.8,342.5 286.2,341.4 286.6,340.2 287,339 287.4,337.8 287.8,336.6 288.2,335.4 288.6,334.1 289,332.8 289.4,331.5 289.8,330.1 290.2,328.8 290.6,327.3 291,325.9 291.4,324.4 291.8,322.9 292.2,321.4 292.6,320 293,318.5 293.4,317 293.8,315.6 294.2,314.2 294.6,312.8 295,311.4 295.4,310.1 295.8,308.8 296.2,307.5 296.6,306.2 297,305 297.4,303.9 297.8,302.8 298.2,301.7 298.6,300.8 299,299.9 299.4,299.1 299.8,298.4 300.2,297.7 300.6,297.1 301,296.6 301.4,296.2 301.8,296 302.2,295.8 302.6,295.8 303,295.9 303.4,296.2 303.8,296.7 304.2,297.3 304.6,298.2 305,299.5 305.4,301.1 305.8,303.1 306.2,305.5 306.6,308.4 307,311.8 307.4,315.4 307.8,319.2 308.2,322.9 308.6,326.6 309,330 309.4,333.2 309.8,336.1 310.2,338.8 310.6,341.3 311,343.7 311.4,346 311.8,348.2 312.2,350.3 312.6,352.3 313,354.2 313.4,356 313.8,357.7 314.2,359.3 314.6,360.8 315,362.2 315.4,363.5 315.8,364.7 316.2,365.9 316.6,367 317,368 317.4,369 317.8,369.9 318.2,370.6 318.6,371.3 319,372 319.4,372.5 319.8,372.9 320.2,373.3 320.6,373.7 321,373.9 321.4,374.2 321.8,374.4 322.2,374.6 322.6,374.8 323,374.9 323.4,375.1 323.8,375.3 324.2,375.4 324.6,375.5 325,375.7 325.4,375.8 325.8,375.9 326.2,376 326.6,376.1 327,376.2 327.4,376.2 327.8,376.3 328.2,376.4 328.6,376.4 329,376.5 329.4,376.5 329.8,376.6 330.2,376.6 330.6,376.6 331,376.7 331.4,376.7 331.8,376.7 332.2,376.7 332.6,376.7 333,376.8 333.4,376.8 333.8,376.8 334.2,376.8 334.6,376.8 335,376.9 335.4,376.9 335.8,376.9 336.2,376.9 336.6,376.9 337,376.9 337.4,377 337.8,377 338.2,377 338.6,377 339,377 339.4,377 339.8,377 340.2,377 340.6,377 341,377 341.4,377.1 341.8,377.1 342.2,377.1 342.6,377.1 343,377.1 343.4,377.1 343.8,377.1 344.2,377.1 344.6,377.1 345,377.1 345.4,377.1 345.8,377.1 346.2,377.1 346.6,377.1 347,377.1 347.4,377.1 347.8,377.1 348.2,377.1 348.6,377.1 349,377.1 349.4,377.1 349.8,377.1 350.2,377.1 350.6,377.1 351,377.1 351.4,377.1 351.8,377.1 352.2,377.1 352.6,377.1 353,377.1 353.4,377.1 353.8,377.1 354.2,377.1 354.6,377.1 355,377.1 355.4,377.1 355.8,377.1 356.2,377.1 356.6,377.1 357,377.2 357.4,377.2 357.8,377.2 358.2,377.2 358.6,377.2 359,377.2 359.4,377.2 359.8,377.2 360.2,377.2 360.6,377.2 361,377.2 361.4,377.2 361.8,377.2 362.2,377.2 362.6,377.2 363,377.2 363.4,377.2 363.8,377.2 364.2,377.2 364.6,377.2 365,377.2 365.4,377.2 365.8,377.2 366.2,377.2 366.6,377.2 367,377.2 367.4,377.2 367.8,377.2 368.2,377.2 368.6,377.2 369,377.2 369.4,377.2 369.8,377.2 370.2,377.2 370.6,377.2 371,377.2 371.4,377.2 371.8,377.2 372.2,377.2 372.6,377.2 373,377.2 373.4,377.2 373.8,377.2 374.2,377.2 374.6,377.2 375,377.2 375.4,377.2 375.8,377.2 376.2,377.2 376.6,377.2 377,377.2 377.4,377.2 377.8,377.2 378.2,377.2 378.6,377.2 379,377.2 379.4,377.2 379.8,377.2 380.2,377.2 380.6,377.2 381,377.2 381.4,377.2 381.8,377.2 382.2,377.2 382.6,377.2 383,377.2 383.4,377.2 383.8,377.2 384.2,377.2 384.6,377.2 385,377.2 385.4,377.2 385.8,377.2 386.2,377.2 386.6,377.2 387,377.2 387.4,377.2 387.8,377.2 388.2,377.2" fill="none" stroke="#ff0000" stroke-width="0.75" stroke-linejoin="round" />
<polyline points="230.6,377 231,377 231.4,377 231.8,377 232.2,377 232.6,377 233,377 233.4,377 233.8,377 234.2,377 234.6,377 235,377 235.4,376.9 235.8,376.9 236.2,376.9 236.6,376.9 237,376.9 237.4,376.9 237.8,376.9 238.2,376.9 238.6,376.9 239,376.8 239.4,376.8 239.8,376.8 240.2,376.8 240.6,376.8 241,376.8 241.4,376.8 241.8,376.7 242.2,376.7 242.6,376.7 243,376.7 243.4,376.7 243.8,376.6 244.2,376.6 244.6,376.6 245,376.6 245.4,376.6 245.8,376.5 246.2,376.5 246.6,376.5 247,376.5 247.4,376.4 247.8,376.4 248.2,376.4 248.6,376.4 249,376.3 249.4,376.3 249.8,376.3 250.2,376.3 250.6,376.2 251,376.2 251.4,376.2 251.8,376.2 252.2,376.1 252.6,376.1 253,376.1 253.4,376 253.8,376 254.2,376 254.6,375.9 255,375.9 255.4,375.9 255.8,375.8 256.2,375.8 256.6,375.8 257,375.8 257.4,375.7 257.8,375.7 258.2,375.7 258.6,375.6 259,375.6 259.4,375.5 259.8,375.5 260.2,375.5 260.6,375.4 261,375.4 261.4,375.4 261.8,375.3 262.2,375.3 262.6,375.2 263,375.2 263.4,375.1 263.8,375 264.2,375 264.6,374.9 265,374.9 265.4,374.8 265.8,374.7 266.2,374.7 266.6,374.6 267,374.5 267.4,374.4 267.8,374.4 268.2,374.3 268.6,374.2 269,374.1 269.4,374 269.8,373.9 270.2,373.8 270.6,373.7 271,373.7 271.4,373.6 271.8,373.5 272.2,373.4 272.6,373.2 273,373.1 273.4,373 273.8,372.9 274.2,372.8 274.6,372.7 275,372.6 275.4,372.5 275.8,372.3 276.2,372.2 276.6,372.1 277,372 277.4,371.8 277.8,371.7 278.2,371.6 278.6,371.4 279,371.3 279.4,371.1 279.8,371 280.2,370.8 280.6,370.6 281,370.4 281.4,370.2 281.8,370 282.2,369.8 282.6,369.6 283,369.4 283.4,369.1 283.8,368.9 284.2,368.7 284.6,368.4 285,368.2 285.4,367.9 285.8,367.6 286.2,367.3 286.6,367.1 287,366.8 287.4,366.5 287.8,366.2 288.2,365.9 288.6,365.6 289,365.2 289.4,364.9 289.8,364.6 290.2,364.2 290.6,363.9 291,363.5 291.4,363.1 291.8,362.7 292.2,362.3 292.6,361.9 293,361.4 293.4,361 293.8,360.5 294.2,360 294.6,359.5 295,359 295.4,358.5 295.8,357.9 296.2,357.4 296.6,356.9 297,356.3 297.4,355.8 297.8,355.2 298.2,354.7 298.6,354.1 299,353.6 299.4,353 299.8,352.5 300.2,351.9 300.6,351.4 301,350.8 301.4,350.3 301.8,349.7 302.2,349.2 302.6,348.6 303,348.1 303.4,347.5 303.8,346.9 304.2,346.4 304.6,345.8 305,345.2 305.4,344.6 305.8,344 306.2,343.4 306.6,342.7 307,342 307.4,341.4 307.8,340.7 308.2,340 308.6,339.2 309,338.4 309.4,337.6 309.8,336.8 310.2,335.9 310.6,335 311,334 311.4,333 311.8,331.9 312.2,330.8 312.6,329.6 313,328.4 313.4,327.2 313.8,326 314.2,324.7 314.6,323.4 315,322.2 315.4,320.9 315.8,319.7 316.2,318.4 316.6,317.2 317,316 317.4,314.8 317.8,313.6 318.2,312.5 318.6,311.3 319,310.2 319.4,309.1 319.8,308 320.2,306.9 320.6,305.8 321,304.7 321.4,303.6 321.8,302.5 322.2,301.5 322.6,300.4 323,299.4 323.4,298.4 323.8,297.4 324.2,296.5 324.6,295.6 325,294.8 325.4,294 325.8,293.3 326.2,292.7 326.6,292.2 327,291.7 327.4,291.5 327.8,291.3 328.2,291.3 328.6,291.4 329,291.7 329.4,292.2 329.8,292.8 330.2,293.7 330.6,294.8 331,296.1 331.4,297.7 331.8,299.7 332.2,301.9 332.6,304.4 333,307.1 333.4,310.1 333.8,313.1 334.2,316.2 334.6,319.3 335,322.3 335.4,325.3 335.8,328.1 336.2,330.7 336.6,333.3 337,335.7 337.4,337.9 337.8,340.1 338.2,342.1 338.6,344 339,345.8 339.4,347.6 339.8,349.2 340.2,350.8 340.6,352.3 341,353.7 341.4,355 341.8,356.3 342.2,357.5 342.6,358.6 343,359.7 343.4,360.7 343.8,361.7 344.2,362.6 344.6,363.5 345,364.4 345.4,365.2 345.8,365.9 346.2,366.6 346.6,367.3 347,367.9 347.4,368.4 347.8,369 348.2,369.4 348.6,369.9 349,370.3 349.4,370.7 349.8,371.1 350.2,371.4 350.6,371.8 351,372.1 351.4,372.4 351.8,372.7 352.2,373 352.6,373.3 353,373.5 353.4,373.8 353.8,374 354.2,374.2 354.6,374.4 355,374.6 355.4,374.7 355.8,374.9 356.2,375 356.6,375.1 357,375.3 357.4,375.4 357.8,375.5 358.2,375.5 358.6,375.6 359,375.7 359.4,375.8 359.8,375.9 360.2,375.9 360.6,376 361,376.1 361.4,376.2 361.8,376.2 362.2,376.3 362.6,376.3 363,376.4 363.4,376.5 363.8,376.5 364.2,376.6 364.6,376.6 365,376.7 365.4,376.7 365.8,376.7 366.2,376.8 366.6,376.8 367,376.8 367.4,376.9 367.8,376.9 368.2,376.9 368.6,376.9 369,377 369.4,377 369.8,377 370.2,377 370.6,377 371,377 371.4,377 371.8,377 372.2,377 372.6,377.1 373,377.1 373.4,377.1 373.8,377.1 374.2,377.1 374.6,377.1 375,377.1 375.4,377.1 375.8,377.1 376.2,377.1 376.6,377.1 377,377.1 377.4,377.1 377.8,377.1 378.2,377.1 378.6,377.1 379,377.1 379.4,377.1 379.8,377.2 380.2,377.2 380.6,377.2 381,377.2 381.4,377.2 381.8,377.2 382.2,377.2 382.6,377.2 383,377.2 383.4,377.2 383.8,377.2 384.2,377.2 384.6,377.2 385,377.2 385.4,377.2 385.8,377.2 386.2,377.2 386.6,377.2 387,377.2 387.4,377.2 387.8,377.2 388.2,377.2" fill="none" stroke="#008000" stroke-width="0.75" stroke-linejoin="round" />
<polyline points="230.6,377 231,377 231.4,377 231.8,377 232.2,377 232.6,377 233,377 233.4,377 233.8,377 234.2,377 234.6,377 235,377 235.4,377 235.8,377 236.2,377 236.6,376.9 237,376.9 237.4,376.9 237.8,376.9 238.2,376.9 238.6,376.9 239,376.9 239.4,376.9 239.8,376.9 240.2,376.9 240.6,376.9 241,376.9 241.4,376.8 241.8,376.8 242.2,376.8 242.6,376.8 243,376.8 243.4,376.8 243.8,376.8 244.2,376.8 244.6,376.7 245,376.7 245.4,376.7 245.8,376.7 246.2,376.7 246.6,376.7 247,376.7 247.4,376.6 247.8,376.6 248.2,376.6 248.6,376.6 249,376.6 249.4,376.6 249.8,376.5 250.2,376.5 250.6,376.5 251,376.5 251.4,376.5 251.8,376.4 252.2,376.4 252.6,376.4 253,376.4 253.4,376.4 253.8,376.3 254.2,376.3 254.6,376.3 255,376.3 255.4,376.3 255.8,376.2 256.2,376.2 256.6,376.2 257,376.2 257.4,376.1 257.8,376.1 258.2,376.1 258.6,376.1 259,376.1 259.4,376 259.8,376 260.2,376 260.6,376 261,375.9 261.4,375.9 261.8,375.9 262.2,375.8 262.6,375.8 263,375.8 263.4,375.7 263.8,375.7 264.2,375.6 264.6,375.6 265,375.5 265.4,375.5 265.8,375.4 266.2,375.4 266.6,375.3 267,375.3 267.4,375.2 267.8,375.2 268.2,375.1 268.6,375 269,375 269.4,374.9 269.8,374.8 270.2,374.8 270.6,374.7 271,374.6 271.4,374.5 271.8,374.5 272.2,374.4 272.6,374.3 273,374.2 273.4,374.1 273.8,374.1 274.2,374 274.6,373.9 275,373.8 275.4,373.7 275.8,373.6 276.2,373.5 276.6,373.4 277,373.3 277.4,373.2 277.8,373.1 278.2,373 278.6,372.9 279,372.8 279.4,372.6 279.8,372.5 280.2,372.4 280.6,372.3 281,372.1 281.4,372 281.8,371.8 282.2,371.7 282.6,371.5 283,371.3 283.4,371.1 283.8,370.9 284.2,370.7 284.6,370.4 285,370.2 285.4,370 285.8,369.7 286.2,369.4 286.6,369.2 287,368.9 287.4,368.6 287.8,368.3 288.2,368 288.6,367.7 289,367.4 289.4,367.1 289.8,366.8 290.2,366.4 290.6,366.1 291,365.7 291.4,365.4 291.8,365 292.2,364.7 292.6,364.3 293,364 293.4,363.6 293.8,363.2 294.2,362.8 294.6,362.4 295,362.1 295.4,361.7 295.8,361.3 296.2,360.9 296.6,360.5 297,360.1 297.4,359.7 297.8,359.3 298.2,358.8 298.6,358.4 299,358 299.4,357.6 299.8,357.2 300.2,356.7 300.6,356.3 301,355.9 301.4,355.4 301.8,354.9 302.2,354.5 302.6,354 303,353.5 303.4,353 303.8,352.5 304.2,351.9 304.6,351.4 305,350.8 305.4,350.2 305.8,349.6 306.2,349 306.6,348.4 307,347.8 307.4,347.2 307.8,346.5 308.2,345.8 308.6,345.1 309,344.4 309.4,343.7 309.8,342.9 310.2,342.1 310.6,341.3 311,340.5 311.4,339.6 311.8,338.7 312.2,337.8 312.6,336.8 313,335.8 313.4,334.7 313.8,333.7 314.2,332.6 314.6,331.5 315,330.3 315.4,329.2 315.8,328 316.2,326.9 316.6,325.7 317,324.5 317.4,323.3 317.8,322.1 318.2,320.9 318.6,319.7 319,318.5 319.4,317.4 319.8,316.2 320.2,315 320.6,313.8 321,312.7 321.4,311.5 321.8,310.3 322.2,309.2 322.6,308 323,306.8 323.4,305.6 323.8,304.4 324.2,303.2 324.6,302 325,300.8 325.4,299.6 325.8,298.3 326.2,297.1 326.6,295.9 327,294.6 327.4,293.4 327.8,292.1 328.2,290.9 328.6,289.6 329,288.3 329.4,287 329.8,285.7 330.2,284.4 330.6,283 331,281.7 331.4,280.4 331.8,279 332.2,277.7 332.6,276.5 333,275.4 333.4,274.3 333.8,273.4 334.2,272.6 334.6,271.9 335,271.3 335.4,270.9 335.8,270.6 336.2,270.6 336.6,270.7 337,271 337.4,271.6 337.8,272.4 338.2,273.4 338.6,274.7 339,276.2 339.4,278 339.8,280 340.2,282.2 340.6,284.5 341,286.9 341.4,289.4 341.8,292.1 342.2,294.8 342.6,297.8 343,300.9 343.4,304.1 343.8,307.5 344.2,310.8 344.6,314.1 345,317.2 345.4,320.1 345.8,322.8 346.2,325.3 346.6,327.6 347,329.7 347.4,331.7 347.8,333.6 348.2,335.6 348.6,337.5 349,339.5 349.4,341.5 349.8,343.5 350.2,345.5 350.6,347.5 351,349.5 351.4,351.4 351.8,353.1 352.2,354.8 352.6,356.3 353,357.7 353.4,359 353.8,360.2 354.2,361.3 354.6,362.3 355,363.2 355.4,364.1 355.8,364.9 356.2,365.7 356.6,366.4 357,367 357.4,367.6 357.8,368.2 358.2,368.7 358.6,369.2 359,369.7 359.4,370.1 359.8,370.5 360.2,370.9 360.6,371.3 361,371.6 361.4,371.9 361.8,372.3 362.2,372.6 362.6,372.9 363,373.1 363.4,373.4 363.8,373.7 364.2,373.9 364.6,374.1 365,374.3 365.4,374.5 365.8,374.7 366.2,374.8 366.6,375 367,375.1 367.4,375.2 367.8,375.3 368.2,375.4 368.6,375.5 369,375.6 369.4,375.7 369.8,375.8 370.2,375.8 370.6,375.9 371,376 371.4,376.1 371.8,376.1 372.2,376.2 372.6,376.3 373,376.3 373.4,376.4 373.8,376.4 374.2,376.5 374.6,376.5 375,376.6 375.4,376.6 375.8,376.7 376.2,376.7 376.6,376.8 377,376.8 377.4,376.8 377.8,376.9 378.2,376.9 378.6,376.9 379,376.9 379.4,377 379.8,377 380.2,377 380.6,377 381,377 381.4,377 381.8,377.1 382.2,377.1 382.6,377.1 383,377.1 383.4,377.1 383.8,377.1 384.2,377.1 384.6,377.1 385,377.2 385.4,377.2 385.8,377.2 386.2,377.2 386.6,377.2 387,377.2 387.4,377.2 387.8,377.2 388.2,377.2" fill="none" stroke="#0000ff" stroke-width="0.75" stroke-linejoin="round" />
<polyline points="230.6,377 231,377 231.4,377 231.8,377 232.2,377 232.6,377 233,377 233.4,377 233.8,377 234.2,377 234.6,377 235,377 235.4,377 235.8,377 236.2,377 236.6,377 237,377 237.4,377 237.8,377 238.2,377 238.6,376.9 239,376.9 239.4,376.9 239.8,376.9 240.2,376.9 240.6,376.9 241,376.9 241.4,376.9 241.8,376.9 242.2,376.9 242.6,376.9 243,376.9 243.4,376.9 243.8,376.9 244.2,376.9 244.6,376.8 245,376.8 245.4,376.8 245.8,376.8 246.2,376.8 246.6,376.8 247,376.8 247.4,376.8 247.8,376.8 248.2,376.8 248.6,376.8 249,376.7 249.4,376.7 249.8,376.7 250.2,376.7 250.6,376.7 251,376.7 251.4,376.7 251.8,376.7 252.2,376.7 252.6,376.6 253,376.6 253.4,376.6 253.8,376.6 254.2,376.6 254.6,376.6 255,376.6 255.4,376.6 255.8,376.5 256.2,376.5 256.6,376.5 257,376.5 257.4,376.5 257.8,376.5 258.2,376.5 258.6,376.4 259,376.4 259.4,376.4 259.8,376.4 260.2,376.4 260.6,376.4 261,376.3 261.4,376.3 261.8,376.3 262.2,376.3 262.6,376.2 263,376.2 263.4,376.2 263.8,376.1 264.2,376.1 264.6,376.1 265,376 265.4,376 265.8,375.9 266.2,375.9 266.6,375.8 267,375.8 267.4,375.7 267.8,375.7 268.2,375.6 268.6,375.5 269,375.5 269.4,375.4 269.8,375.3 270.2,375.3 270.6,375.2 271,375.1 271.4,375.1 271.8,375 272.2,374.9 272.6,374.8 273,374.7 273.4,374.7 273.8,374.6 274.2,374.5 274.6,374.4 275,374.3 275.4,374.2 275.8,374.1 276.2,374 276.6,373.9 277,373.8 277.4,373.7 277.8,373.6 278.2,373.5 278.6,373.4 279,373.3 279.4,373.2 279.8,373.1 280.2,373 280.6,372.9 281,372.8 281.4,372.7 281.8,372.6 282.2,372.5 282.6,372.3 283,372.2 283.4,372.1 283.8,372 284.2,371.9 284.6,371.7 285,371.6 285.4,371.5 285.8,371.4 286.2,371.2 286.6,371.1 287,371 287.4,370.9 287.8,370.7 288.2,370.6 288.6,370.5 289,370.3 289.4,370.2 289.8,370 290.2,369.9 290.6,369.7 291,369.6 291.4,369.4 291.8,369.2 292.2,369.1 292.6,368.9 293,368.7 293.4,368.5 293.8,368.2 294.2,368 294.6,367.8 295,367.6 295.4,367.3 295.8,367.1 296.2,366.8 296.6,366.6 297,366.3 297.4,366 297.8,365.8 298.2,365.5 298.6,365.2 299,364.9 299.4,364.6 299.8,364.4 300.2,364.1 300.6,363.8 301,363.5 301.4,363.2 301.8,362.9 302.2,362.5 302.6,362.2 303,361.9 303.4,361.6 303.8,361.2 304.2,360.9 304.6,360.5 305,360.1 305.4,359.8 305.8,359.4 306.2,359 306.6,358.6 307,358.1 307.4,357.7 307.8,357.3 308.2,356.8 308.6,356.3 309,355.9 309.4,355.4 309.8,354.8 310.2,354.3 310.6,353.7 311,353.1 311.4,352.5 311.8,351.9 312.2,351.2 312.6,350.5 313,349.8 313.4,349.1 313.8,348.3 314.2,347.5 314.6,346.7 315,345.9 315.4,345 315.8,344.2 316.2,343.3 316.6,342.4 317,341.5 317.4,340.6 317.8,339.7 318.2,338.8 318.6,337.9 319,337 319.4,336.1 319.8,335.1 320.2,334.2 320.6,333.2 321,332.3 321.4,331.3 321.8,330.3 322.2,329.4 322.6,328.3 323,327.3 323.4,326.3 323.8,325.2 324.2,324.2 324.6,323.1 325,322 325.4,320.9 325.8,319.8 326.2,318.7 326.6,317.5 327,316.4 327.4,315.2 327.8,314 328.2,312.8 328.6,311.6 329,310.4 329.4,309.1 329.8,307.9 330.2,306.6 330.6,305.3 331,304 331.4,302.6 331.8,301.3 332.2,300 332.6,298.6 333,297.3 333.4,295.9 333.8,294.5 334.2,293.2 334.6,291.8 335,290.4 335.4,289 335.8,287.6 336.2,286.2 336.6,284.8 337,283.4 337.4,281.9 337.8,280.4 338.2,278.9 338.6,277.5 339,276 339.4,274.6 339.8,273.2 340.2,272 340.6,270.8 341,269.7 341.4,268.8 341.8,267.9 342.2,267.2 342.6,266.5 343,265.9 343.4,265.4 343.8,264.9 344.2,264.6 344.6,264.3 345,264.2 345.4,264.1 345.8,264.2 346.2,264.5 346.6,264.8 347,265.4 347.4,266.1 347.8,267 348.2,268.1 348.6,269.4 349,271 349.4,272.8 349.8,274.8 350.2,277.1 350.6,279.4 351,281.9 351.4,284.5 351.8,287.2 352.2,290 352.6,292.8 353,295.8 353.4,298.9 353.8,302.1 354.2,305.4 354.6,308.7 355,312 355.4,315.2 355.8,318.2 356.2,321 356.6,323.6 357,326.1 357.4,328.3 357.8,330.4 358.2,332.5 358.6,334.5 359,336.5 359.4,338.5 359.8,340.5 360.2,342.5 360.6,344.6 361,346.6 361.4,348.6 361.8,350.5 362.2,352.3 362.6,354 363,355.6 363.4,357 363.8,358.2 364.2,359.3 364.6,360.4 365,361.3 365.4,362.2 365.8,363 366.2,363.8 366.6,364.5 367,365.2 367.4,365.8 367.8,366.4 368.2,367 368.6,367.5 369,368 369.4,368.5 369.8,369 370.2,369.4 370.6,369.9 371,370.3 371.4,370.7 371.8,371.1 372.2,371.5 372.6,371.8 373,372.2 373.4,372.5 373.8,372.9 374.2,373.2 374.6,373.5 375,373.7 375.4,374 375.8,374.2 376.2,374.5 376.6,374.6 377,374.8 377.4,375 377.8,375.1 378.2,375.3 378.6,375.4 379,375.5 379.4,375.6 379.8,375.7 380.2,375.8 380.6,375.9 381,375.9 381.4,376 381.8,376.1 382.2,376.2 382.6,376.2 383,376.3 383.4,376.4 383.8,376.4 384.2,376.5 384.6,376.5 385,376.6 385.4,376.6 385.8,376.7 386.2,376.7 386.6,376.7 387,376.7 387.4,376.8 387.8,376.8 388.2,376.8" fill="none" stroke="#000000" stroke-width="0.75" stroke-linejoin="round" />
<text x="238.5" y="247.8" font-size="9.8" text-anchor="start" textLength="27.4" lengthAdjust="spacingAndGlyphs" >MQW1</text>
<line x1="273" y1="244.5" x2="300.3" y2="244.5" stroke="#ff0000" stroke-width="0.75"/>
<text x="238.5" y="258.3" font-size="9.8" text-anchor="start" textLength="27.4" lengthAdjust="spacingAndGlyphs" >MQW2</text>
<line x1="273" y1="255.0" x2="300.3" y2="255.0" stroke="#008000" stroke-width="0.75"/>
<text x="238.5" y="268.8" font-size="9.8" text-anchor="start" textLength="27.4" lengthAdjust="spacingAndGlyphs" >MQW3</text>
<line x1="273" y1="265.5" x2="300.3" y2="265.5" stroke="#0000ff" stroke-width="0.75"/>
<text x="238.5" y="279.1" font-size="9.8" text-anchor="start" textLength="27.4" lengthAdjust="spacingAndGlyphs" >MQW4</text>
<line x1="273" y1="275.8" x2="300.3" y2="275.8" stroke="#000000" stroke-width="0.75"/>
<text x="230.5" y="396.3" font-size="10.4" text-anchor="middle" textLength="12.5" lengthAdjust="spacingAndGlyphs" >2.0</text>
<text x="270" y="396.3" font-size="10.4" text-anchor="middle" textLength="12.5" lengthAdjust="spacingAndGlyphs" >2.5</text>
<text x="309.5" y="396.3" font-size="10.4" text-anchor="middle" textLength="12.5" lengthAdjust="spacingAndGlyphs" >3.0</text>
<text x="349" y="396.3" font-size="10.4" text-anchor="middle" textLength="12.5" lengthAdjust="spacingAndGlyphs" >3.5</text>
<text x="388.5" y="396.3" font-size="10.4" text-anchor="middle" textLength="12.5" lengthAdjust="spacingAndGlyphs" >4.0</text>
<text x="213" y="223" font-size="10.4" text-anchor="start" textLength="12.3" lengthAdjust="spacingAndGlyphs" >(d)</text>
<text x="267.3" y="221.9" font-size="11" text-anchor="start" textLength="84.7" lengthAdjust="spacingAndGlyphs" >Theory, <tspan font-style="italic">T</tspan> = 300 K</text>
<text x="265.3" y="411.3" font-size="10.5" text-anchor="start" textLength="88.39999999999998" lengthAdjust="spacingAndGlyphs" >Wavelength, <tspan font-style="italic">λ</tspan> (<tspan font-style="italic">μ</tspan>m)</text>
<rect x="431.5" y="21.5" width="179.0" height="362.0" fill="none" stroke="#b3b3b3" stroke-width="1"/>
<path d="M436.5,383.5v-3M436.5,21.5v3M461.3,383.5v-3M461.3,21.5v3M486.2,383.5v-3M486.2,21.5v3M511.1,383.5v-3M511.1,21.5v3M536,383.5v-3M536,21.5v3M560.9,383.5v-3M560.9,21.5v3M585.7,383.5v-3M585.7,21.5v3" stroke="#b3b3b3" stroke-width="1" fill="none"/>
<text x="461.3" y="395.7" font-size="10.4" text-anchor="middle" textLength="12.5" lengthAdjust="spacingAndGlyphs" >2.5</text>
<text x="511.1" y="395.7" font-size="10.4" text-anchor="middle" textLength="12.5" lengthAdjust="spacingAndGlyphs" >3.0</text>
<text x="560.9" y="395.7" font-size="10.4" text-anchor="middle" textLength="12.5" lengthAdjust="spacingAndGlyphs" >3.5</text>
<text x="610.6" y="395.7" font-size="10.4" text-anchor="middle" textLength="12.5" lengthAdjust="spacingAndGlyphs" >4.0</text>
<text x="476.6" y="412" font-size="10.5" text-anchor="start" textLength="89.0" lengthAdjust="spacingAndGlyphs" >Wavelength, <tspan font-style="italic">λ</tspan> (<tspan font-style="italic">μ</tspan>m)</text>
<text transform="translate(423.5,324.3) rotate(-90)" x="0" y="0" font-size="10.5" textLength="244.5" lengthAdjust="spacingAndGlyphs">Measured PL intensity/Calculated SE rate (arb. units)</text>
<text x="416" y="9.8" font-size="10.4" text-anchor="start" textLength="11" lengthAdjust="spacingAndGlyphs" >(e)</text>
<text x="449.7" y="8.9" font-size="11" text-anchor="start" textLength="142" lengthAdjust="spacingAndGlyphs" >MQW4, temperature dependent</text>
<polyline points="431.5,377.4 432,377.4 432.5,377.4 433,377.4 433.5,377.4 434,377.4 434.5,377.4 435,377.4 435.5,377.4 436,377.4 436.5,377.4 437,377.4 437.5,377.4 438,377.4 438.5,377.4 439,377.4 439.5,377.4 440,377.4 440.5,377.4 441,377.4 441.5,377.4 442,377.4 442.5,377.4 443,377.4 443.5,377.4 444,377.4 444.5,377.4 445,377.4 445.5,377.4 446,377.4 446.5,377.4 447,377.4 447.5,377.4 448,377.4 448.5,377.4 449,377.4 449.5,377.4 450,377.4 450.5,377.4 451,377.4 451.5,377.4 452,377.3 452.5,377.3 453,377.3 453.5,377.3 454,377.3 454.5,377.3 455,377.3 455.5,377.3 456,377.3 456.5,377.3 457,377.3 457.5,377.3 458,377.3 458.5,377.3 459,377.3 459.5,377.3 460,377.3 460.5,377.3 461,377.3 461.5,377.3 462,377.3 462.5,377.3 463,377.3 463.5,377.3 464,377.3 464.5,377.3 465,377.3 465.5,377.2 466,377.2 466.5,377.2 467,377.2 467.5,377.2 468,377.2 468.5,377.2 469,377.2 469.5,377.2 470,377.2 470.5,377.2 471,377.2 471.5,377.2 472,377.1 472.5,377.1 473,377.1 473.5,377 474,377 474.5,377 475,376.9 475.5,376.9 476,376.8 476.5,376.7 477,376.7 477.5,376.6 478,376.5 478.5,376.5 479,376.4 479.5,376.3 480,376.2 480.5,376.2 481,376.1 481.5,376 482,375.9 482.5,375.8 483,375.6 483.5,375.5 484,375.3 484.5,375.1 485,374.9 485.5,374.7 486,374.5 486.5,374.3 487,374 487.5,373.7 488,373.5 488.5,373.2 489,372.9 489.5,372.6 490,372.2 490.5,371.9 491,371.5 491.5,371.1 492,370.7 492.5,370.3 493,369.8 493.5,369.3 494,368.8 494.5,368.2 495,367.7 495.5,367.1 496,366.4 496.5,365.7 497,365 497.5,364.1 498,363.2 498.5,362.2 499,361.1 499.5,359.8 500,358.3 500.5,356.4 501,354.3 501.5,352 502,349.6 502.5,347.3 503,345.3 503.5,343.4 504,341.9 504.5,340.8 505,340 505.5,339.7 506,339.8 506.5,340.3 507,341.2 507.5,342.2 508,343.5 508.5,344.9 509,346.5 509.5,348.3 510,350.1 510.5,352.1 511,354.1 511.5,356 512,357.9 512.5,359.6 513,361.3 513.5,362.8 514,364.1 514.5,365.4 515,366.5 515.5,367.5 516,368.4 516.5,369.2 517,370 517.5,370.7 518,371.3 518.5,371.9 519,372.4 519.5,372.8 520,373.2 520.5,373.5 521,373.9 521.5,374.2 522,374.5 522.5,374.8 523,375 523.5,375.2 524,375.4 524.5,375.6 525,375.7 525.5,375.8 526,375.9 526.5,376 527,376.1 527.5,376.1 528,376.2 528.5,376.3 529,376.3 529.5,376.4 530,376.4 530.5,376.5 531,376.5 531.5,376.6 532,376.6 532.5,376.7 533,376.7 533.5,376.7 534,376.8 534.5,376.8 535,376.8 535.5,376.9 536,376.9 536.5,376.9 537,376.9 537.5,376.9 538,377 538.5,377 539,377 539.5,377 540,377 540.5,377 541,377 541.5,377 542,377 542.5,377 543,377 543.5,377 544,377 544.5,377 545,377 545.5,377.1 546,377.1 546.5,377.1 547,377.1 547.5,377.1 548,377.1 548.5,377.1 549,377.1 549.5,377.1 550,377.1 550.5,377.1 551,377.1 551.5,377.1 552,377.1 552.5,377.1 553,377.1 553.5,377.1 554,377.1 554.5,377.1 555,377.1 555.5,377.1 556,377.1 556.5,377.1 557,377.1 557.5,377.1 558,377.1 558.5,377.2 559,377.2 559.5,377.2 560,377.2 560.5,377.2 561,377.2 561.5,377.2 562,377.2 562.5,377.2 563,377.2 563.5,377.2 564,377.2 564.5,377.2 565,377.2 565.5,377.2 566,377.2 566.5,377.2 567,377.2 567.5,377.2 568,377.2 568.5,377.2 569,377.2 569.5,377.2 570,377.2 570.5,377.2 571,377.2 571.5,377.2 572,377.2 572.5,377.2 573,377.2 573.5,377.2 574,377.2 574.5,377.2 575,377.2 575.5,377.2 576,377.2 576.5,377.2 577,377.2 577.5,377.2 578,377.2 578.5,377.2 579,377.3 579.5,377.3 580,377.3 580.5,377.3 581,377.3 581.5,377.3 582,377.3 582.5,377.3 583,377.3 583.5,377.3 584,377.3 584.5,377.3 585,377.3 585.5,377.3 586,377.3 586.5,377.3 587,377.3 587.5,377.3 588,377.3 588.5,377.3 589,377.3 589.5,377.3 590,377.3 590.5,377.3 591,377.3 591.5,377.3 592,377.3 592.5,377.3 593,377.3 593.5,377.3 594,377.3 594.5,377.3 595,377.3 595.5,377.3 596,377.3 596.5,377.3 597,377.3 597.5,377.3 598,377.3 598.5,377.3 599,377.3 599.5,377.3 600,377.3 600.5,377.3 601,377.3 601.5,377.3 602,377.3 602.5,377.3 603,377.3 603.5,377.3 604,377.3 604.5,377.3 605,377.3 605.5,377.3 606,377.3 606.5,377.3 607,377.3 607.5,377.3 608,377.3 608.5,377.3 609,377.3 609.5,377.3 610,377.3" fill="none" stroke="#000000" stroke-width="0.75" stroke-linejoin="round" />
<path d="M611.3,377.3a1.15,1.15 0 1,0 -2.3,0a1.15,1.15 0 1,0 2.3,0M607.8,377.3a1.15,1.15 0 1,0 -2.3,0a1.15,1.15 0 1,0 2.3,0M604.5,377.3a1.15,1.15 0 1,0 -2.3,0a1.15,1.15 0 1,0 2.3,0M601.1,377.3a1.15,1.15 0 1,0 -2.3,0a1.15,1.15 0 1,0 2.3,0M597.9,377.3a1.15,1.15 0 1,0 -2.3,0a1.15,1.15 0 1,0 2.3,0M594.7,377.3a1.15,1.15 0 1,0 -2.3,0a1.15,1.15 0 1,0 2.3,0M591.5,377.3a1.15,1.15 0 1,0 -2.3,0a1.15,1.15 0 1,0 2.3,0M588.4,377.3a1.15,1.15 0 1,0 -2.3,0a1.15,1.15 0 1,0 2.3,0M585.4,377.3a1.15,1.15 0 1,0 -2.3,0a1.15,1.15 0 1,0 2.3,0M582.4,377.3a1.15,1.15 0 1,0 -2.3,0a1.15,1.15 0 1,0 2.3,0M579.4,377.2a1.15,1.15 0 1,0 -2.3,0a1.15,1.15 0 1,0 2.3,0M576.5,377.2a1.15,1.15 0 1,0 -2.3,0a1.15,1.15 0 1,0 2.3,0M573.7,377.2a1.15,1.15 0 1,0 -2.3,0a1.15,1.15 0 1,0 2.3,0M570.9,377.2a1.15,1.15 0 1,0 -2.3,0a1.15,1.15 0 1,0 2.3,0M568.1,377.2a1.15,1.15 0 1,0 -2.3,0a1.15,1.15 0 1,0 2.3,0M565.4,377.2a1.15,1.15 0 1,0 -2.3,0a1.15,1.15 0 1,0 2.3,0M562.7,377.2a1.15,1.15 0 1,0 -2.3,0a1.15,1.15 0 1,0 2.3,0M560,377.2a1.15,1.15 0 1,0 -2.3,0a1.15,1.15 0 1,0 2.3,0M557.4,377.1a1.15,1.15 0 1,0 -2.3,0a1.15,1.15 0 1,0 2.3,0M554.9,377.1a1.15,1.15 0 1,0 -2.3,0a1.15,1.15 0 1,0 2.3,0M552.3,377.1a1.15,1.15 0 1,0 -2.3,0a1.15,1.15 0 1,0 2.3,0M549.8,377.1a1.15,1.15 0 1,0 -2.3,0a1.15,1.15 0 1,0 2.3,0M547.4,377.1a1.15,1.15 0 1,0 -2.3,0a1.15,1.15 0 1,0 2.3,0M545,377a1.15,1.15 0 1,0 -2.3,0a1.15,1.15 0 1,0 2.3,0M542.6,377a1.15,1.15 0 1,0 -2.3,0a1.15,1.15 0 1,0 2.3,0M540.2,377a1.15,1.15 0 1,0 -2.3,0a1.15,1.15 0 1,0 2.3,0M537.9,376.9a1.15,1.15 0 1,0 -2.3,0a1.15,1.15 0 1,0 2.3,0M535.6,376.8a1.15,1.15 0 1,0 -2.3,0a1.15,1.15 0 1,0 2.3,0M533.4,376.7a1.15,1.15 0 1,0 -2.3,0a1.15,1.15 0 1,0 2.3,0M531.2,376.5a1.15,1.15 0 1,0 -2.3,0a1.15,1.15 0 1,0 2.3,0M529,376.2a1.15,1.15 0 1,0 -2.3,0a1.15,1.15 0 1,0 2.3,0M526.8,375.9a1.15,1.15 0 1,0 -2.3,0a1.15,1.15 0 1,0 2.3,0M524.7,375.3a1.15,1.15 0 1,0 -2.3,0a1.15,1.15 0 1,0 2.3,0M522.6,374.3a1.15,1.15 0 1,0 -2.3,0a1.15,1.15 0 1,0 2.3,0M520.5,372.9a1.15,1.15 0 1,0 -2.3,0a1.15,1.15 0 1,0 2.3,0M518.5,370.4a1.15,1.15 0 1,0 -2.3,0a1.15,1.15 0 1,0 2.3,0M516.4,365.6a1.15,1.15 0 1,0 -2.3,0a1.15,1.15 0 1,0 2.3,0M514.5,358.4a1.15,1.15 0 1,0 -2.3,0a1.15,1.15 0 1,0 2.3,0M512.5,350.4a1.15,1.15 0 1,0 -2.3,0a1.15,1.15 0 1,0 2.3,0M510.5,344a1.15,1.15 0 1,0 -2.3,0a1.15,1.15 0 1,0 2.3,0M508.6,340.5a1.15,1.15 0 1,0 -2.3,0a1.15,1.15 0 1,0 2.3,0M506.7,339.4a1.15,1.15 0 1,0 -2.3,0a1.15,1.15 0 1,0 2.3,0M504.9,341.8a1.15,1.15 0 1,0 -2.3,0a1.15,1.15 0 1,0 2.3,0M503,347a1.15,1.15 0 1,0 -2.3,0a1.15,1.15 0 1,0 2.3,0M501.2,353.3a1.15,1.15 0 1,0 -2.3,0a1.15,1.15 0 1,0 2.3,0M499.4,358.9a1.15,1.15 0 1,0 -2.3,0a1.15,1.15 0 1,0 2.3,0M497.6,363.2a1.15,1.15 0 1,0 -2.3,0a1.15,1.15 0 1,0 2.3,0M495.9,366.6a1.15,1.15 0 1,0 -2.3,0a1.15,1.15 0 1,0 2.3,0M494.2,369.4a1.15,1.15 0 1,0 -2.3,0a1.15,1.15 0 1,0 2.3,0M492.4,371.6a1.15,1.15 0 1,0 -2.3,0a1.15,1.15 0 1,0 2.3,0M490.8,372.9a1.15,1.15 0 1,0 -2.3,0a1.15,1.15 0 1,0 2.3,0M489.1,373.8a1.15,1.15 0 1,0 -2.3,0a1.15,1.15 0 1,0 2.3,0M487.4,374.5a1.15,1.15 0 1,0 -2.3,0a1.15,1.15 0 1,0 2.3,0M485.8,375.1a1.15,1.15 0 1,0 -2.3,0a1.15,1.15 0 1,0 2.3,0M484.2,375.5a1.15,1.15 0 1,0 -2.3,0a1.15,1.15 0 1,0 2.3,0M482.6,375.8a1.15,1.15 0 1,0 -2.3,0a1.15,1.15 0 1,0 2.3,0M481,376.1a1.15,1.15 0 1,0 -2.3,0a1.15,1.15 0 1,0 2.3,0M479.5,376.4a1.15,1.15 0 1,0 -2.3,0a1.15,1.15 0 1,0 2.3,0M477.9,376.6a1.15,1.15 0 1,0 -2.3,0a1.15,1.15 0 1,0 2.3,0M476.4,376.8a1.15,1.15 0 1,0 -2.3,0a1.15,1.15 0 1,0 2.3,0M474.9,377a1.15,1.15 0 1,0 -2.3,0a1.15,1.15 0 1,0 2.3,0M473.4,377.1a1.15,1.15 0 1,0 -2.3,0a1.15,1.15 0 1,0 2.3,0M472,377.2a1.15,1.15 0 1,0 -2.3,0a1.15,1.15 0 1,0 2.3,0M470.5,377.2a1.15,1.15 0 1,0 -2.3,0a1.15,1.15 0 1,0 2.3,0M469.1,377.2a1.15,1.15 0 1,0 -2.3,0a1.15,1.15 0 1,0 2.3,0M467.7,377.2a1.15,1.15 0 1,0 -2.3,0a1.15,1.15 0 1,0 2.3,0M466.3,377.3a1.15,1.15 0 1,0 -2.3,0a1.15,1.15 0 1,0 2.3,0M464.9,377.3a1.15,1.15 0 1,0 -2.3,0a1.15,1.15 0 1,0 2.3,0M463.5,377.3a1.15,1.15 0 1,0 -2.3,0a1.15,1.15 0 1,0 2.3,0M462.1,377.3a1.15,1.15 0 1,0 -2.3,0a1.15,1.15 0 1,0 2.3,0M460.8,377.3a1.15,1.15 0 1,0 -2.3,0a1.15,1.15 0 1,0 2.3,0M459.5,377.3a1.15,1.15 0 1,0 -2.3,0a1.15,1.15 0 1,0 2.3,0M458.2,377.3a1.15,1.15 0 1,0 -2.3,0a1.15,1.15 0 1,0 2.3,0M456.9,377.3a1.15,1.15 0 1,0 -2.3,0a1.15,1.15 0 1,0 2.3,0M455.6,377.3a1.15,1.15 0 1,0 -2.3,0a1.15,1.15 0 1,0 2.3,0M454.3,377.3a1.15,1.15 0 1,0 -2.3,0a1.15,1.15 0 1,0 2.3,0M453,377.4a1.15,1.15 0 1,0 -2.3,0a1.15,1.15 0 1,0 2.3,0M451.8,377.4a1.15,1.15 0 1,0 -2.3,0a1.15,1.15 0 1,0 2.3,0M450.6,377.4a1.15,1.15 0 1,0 -2.3,0a1.15,1.15 0 1,0 2.3,0M449.3,377.4a1.15,1.15 0 1,0 -2.3,0a1.15,1.15 0 1,0 2.3,0M448.1,377.4a1.15,1.15 0 1,0 -2.3,0a1.15,1.15 0 1,0 2.3,0M446.9,377.4a1.15,1.15 0 1,0 -2.3,0a1.15,1.15 0 1,0 2.3,0M445.7,377.4a1.15,1.15 0 1,0 -2.3,0a1.15,1.15 0 1,0 2.3,0M444.6,377.4a1.15,1.15 0 1,0 -2.3,0a1.15,1.15 0 1,0 2.3,0M443.4,377.4a1.15,1.15 0 1,0 -2.3,0a1.15,1.15 0 1,0 2.3,0M442.3,377.4a1.15,1.15 0 1,0 -2.3,0a1.15,1.15 0 1,0 2.3,0M441.1,377.4a1.15,1.15 0 1,0 -2.3,0a1.15,1.15 0 1,0 2.3,0M440,377.4a1.15,1.15 0 1,0 -2.3,0a1.15,1.15 0 1,0 2.3,0M438.9,377.4a1.15,1.15 0 1,0 -2.3,0a1.15,1.15 0 1,0 2.3,0M437.8,377.4a1.15,1.15 0 1,0 -2.3,0a1.15,1.15 0 1,0 2.3,0M436.7,377.4a1.15,1.15 0 1,0 -2.3,0a1.15,1.15 0 1,0 2.3,0M435.6,377.4a1.15,1.15 0 1,0 -2.3,0a1.15,1.15 0 1,0 2.3,0M434.5,377.4a1.15,1.15 0 1,0 -2.3,0a1.15,1.15 0 1,0 2.3,0M433.5,377.4a1.15,1.15 0 1,0 -2.3,0a1.15,1.15 0 1,0 2.3,0" fill="none" stroke="#2a2a2a" stroke-width="0.45"/>
<text x="438.1" y="372.8" font-size="10.2" text-anchor="start" textLength="14.5" lengthAdjust="spacingAndGlyphs" >4 K</text>
<text x="606.3" y="372.7" font-size="10.2" text-anchor="end" textLength="38.4" lengthAdjust="spacingAndGlyphs" >(−40 nm)</text>
<polyline points="431.5,339.4 432,339.4 432.5,339.4 433,339.4 433.5,339.4 434,339.4 434.5,339.4 435,339.4 435.5,339.4 436,339.4 436.5,339.4 437,339.4 437.5,339.4 438,339.4 438.5,339.4 439,339.4 439.5,339.4 440,339.4 440.5,339.4 441,339.4 441.5,339.4 442,339.4 442.5,339.4 443,339.4 443.5,339.4 444,339.4 444.5,339.4 445,339.4 445.5,339.4 446,339.4 446.5,339.4 447,339.4 447.5,339.4 448,339.4 448.5,339.4 449,339.4 449.5,339.4 450,339.4 450.5,339.4 451,339.4 451.5,339.4 452,339.3 452.5,339.3 453,339.3 453.5,339.3 454,339.3 454.5,339.3 455,339.3 455.5,339.3 456,339.3 456.5,339.3 457,339.3 457.5,339.3 458,339.3 458.5,339.3 459,339.3 459.5,339.3 460,339.3 460.5,339.3 461,339.3 461.5,339.3 462,339.3 462.5,339.3 463,339.3 463.5,339.3 464,339.3 464.5,339.3 465,339.3 465.5,339.2 466,339.2 466.5,339.2 467,339.2 467.5,339.2 468,339.2 468.5,339.2 469,339.2 469.5,339.2 470,339.2 470.5,339.2 471,339.2 471.5,339.2 472,339.1 472.5,339.1 473,339.1 473.5,339.1 474,339.1 474.5,339 475,339 475.5,338.9 476,338.9 476.5,338.9 477,338.8 477.5,338.8 478,338.7 478.5,338.7 479,338.6 479.5,338.6 480,338.5 480.5,338.4 481,338.3 481.5,338.2 482,338.1 482.5,337.9 483,337.8 483.5,337.6 484,337.4 484.5,337.2 485,337 485.5,336.8 486,336.5 486.5,336.2 487,335.9 487.5,335.5 488,335 488.5,334.6 489,334.1 489.5,333.5 490,333 490.5,332.3 491,331.7 491.5,331 492,330.3 492.5,329.5 493,328.7 493.5,327.8 494,326.9 494.5,326 495,325 495.5,324 496,323 496.5,322 497,320.9 497.5,319.8 498,318.5 498.5,317.2 499,315.7 499.5,314.1 500,312.5 500.5,310.8 501,309.2 501.5,307.6 502,306.2 502.5,304.9 503,303.8 503.5,303 504,302.4 504.5,302 505,302 505.5,302.3 506,302.9 506.5,303.7 507,304.7 507.5,305.8 508,307.1 508.5,308.6 509,310.1 509.5,311.8 510,313.5 510.5,315.2 511,316.9 511.5,318.8 512,320.8 512.5,322.8 513,324.8 513.5,326.7 514,328.4 514.5,329.9 515,331.2 515.5,332.4 516,333.3 516.5,334.2 517,334.9 517.5,335.5 518,336 518.5,336.4 519,336.7 519.5,337 520,337.2 520.5,337.4 521,337.6 521.5,337.8 522,337.9 522.5,338.1 523,338.2 523.5,338.3 524,338.4 524.5,338.4 525,338.5 525.5,338.5 526,338.6 526.5,338.6 527,338.6 527.5,338.7 528,338.7 528.5,338.7 529,338.7 529.5,338.8 530,338.8 530.5,338.8 531,338.9 531.5,338.9 532,338.9 532.5,338.9 533,338.9 533.5,339 534,339 534.5,339 535,339 535.5,339 536,339.1 536.5,339.1 537,339.1 537.5,339.1 538,339.1 538.5,339.1 539,339.1 539.5,339.2 540,339.2 540.5,339.2 541,339.2 541.5,339.2 542,339.2 542.5,339.2 543,339.2 543.5,339.2 544,339.2 544.5,339.3 545,339.3 545.5,339.3 546,339.3 546.5,339.3 547,339.3 547.5,339.3 548,339.3 548.5,339.3 549,339.3 549.5,339.3 550,339.3 550.5,339.3 551,339.3 551.5,339.3 552,339.3 552.5,339.3 553,339.3 553.5,339.3 554,339.3 554.5,339.3 555,339.3 555.5,339.3 556,339.3 556.5,339.3 557,339.3 557.5,339.3 558,339.3 558.5,339.3 559,339.3 559.5,339.3 560,339.3 560.5,339.3 561,339.3 561.5,339.3 562,339.3 562.5,339.3 563,339.3 563.5,339.3 564,339.3 564.5,339.3 565,339.3 565.5,339.3 566,339.3 566.5,339.3 567,339.4 567.5,339.4 568,339.4 568.5,339.4 569,339.4 569.5,339.4 570,339.4 570.5,339.4 571,339.4 571.5,339.4 572,339.4 572.5,339.4 573,339.4 573.5,339.4 574,339.4 574.5,339.4 575,339.4 575.5,339.4 576,339.4 576.5,339.4 577,339.4 577.5,339.4 578,339.4 578.5,339.4 579,339.4 579.5,339.4 580,339.4 580.5,339.4 581,339.4 581.5,339.4 582,339.4 582.5,339.4 583,339.4 583.5,339.4 584,339.4 584.5,339.4 585,339.4 585.5,339.4 586,339.4 586.5,339.4 587,339.4 587.5,339.4 588,339.4 588.5,339.4 589,339.4 589.5,339.4 590,339.4 590.5,339.4 591,339.4 591.5,339.4 592,339.4 592.5,339.4 593,339.4 593.5,339.4 594,339.4 594.5,339.4 595,339.4 595.5,339.4 596,339.4 596.5,339.4 597,339.4 597.5,339.4 598,339.4 598.5,339.4 599,339.4 599.5,339.4 600,339.4 600.5,339.4 601,339.4 601.5,339.4 602,339.4 602.5,339.4 603,339.4 603.5,339.4 604,339.4 604.5,339.4 605,339.4 605.5,339.4 606,339.4 606.5,339.4 607,339.4 607.5,339.4 608,339.4 608.5,339.4 609,339.4 609.5,339.4 610,339.4" fill="none" stroke="#000000" stroke-width="0.75" stroke-linejoin="round" />
<path d="M611.3,339.4a1.15,1.15 0 1,0 -2.3,0a1.15,1.15 0 1,0 2.3,0M607.8,339.4a1.15,1.15 0 1,0 -2.3,0a1.15,1.15 0 1,0 2.3,0M604.5,339.4a1.15,1.15 0 1,0 -2.3,0a1.15,1.15 0 1,0 2.3,0M601.1,339.4a1.15,1.15 0 1,0 -2.3,0a1.15,1.15 0 1,0 2.3,0M597.9,339.4a1.15,1.15 0 1,0 -2.3,0a1.15,1.15 0 1,0 2.3,0M594.7,339.4a1.15,1.15 0 1,0 -2.3,0a1.15,1.15 0 1,0 2.3,0M591.5,339.4a1.15,1.15 0 1,0 -2.3,0a1.15,1.15 0 1,0 2.3,0M588.4,339.4a1.15,1.15 0 1,0 -2.3,0a1.15,1.15 0 1,0 2.3,0M585.4,339.4a1.15,1.15 0 1,0 -2.3,0a1.15,1.15 0 1,0 2.3,0M582.4,339.4a1.15,1.15 0 1,0 -2.3,0a1.15,1.15 0 1,0 2.3,0M579.4,339.4a1.15,1.15 0 1,0 -2.3,0a1.15,1.15 0 1,0 2.3,0M576.5,339.4a1.15,1.15 0 1,0 -2.3,0a1.15,1.15 0 1,0 2.3,0M573.7,339.4a1.15,1.15 0 1,0 -2.3,0a1.15,1.15 0 1,0 2.3,0M570.9,339.4a1.15,1.15 0 1,0 -2.3,0a1.15,1.15 0 1,0 2.3,0M568.1,339.4a1.15,1.15 0 1,0 -2.3,0a1.15,1.15 0 1,0 2.3,0M565.4,339.3a1.15,1.15 0 1,0 -2.3,0a1.15,1.15 0 1,0 2.3,0M562.7,339.3a1.15,1.15 0 1,0 -2.3,0a1.15,1.15 0 1,0 2.3,0M560,339.3a1.15,1.15 0 1,0 -2.3,0a1.15,1.15 0 1,0 2.3,0M557.4,339.3a1.15,1.15 0 1,0 -2.3,0a1.15,1.15 0 1,0 2.3,0M554.9,339.3a1.15,1.15 0 1,0 -2.3,0a1.15,1.15 0 1,0 2.3,0M552.3,339.3a1.15,1.15 0 1,0 -2.3,0a1.15,1.15 0 1,0 2.3,0M549.8,339.3a1.15,1.15 0 1,0 -2.3,0a1.15,1.15 0 1,0 2.3,0M547.4,339.3a1.15,1.15 0 1,0 -2.3,0a1.15,1.15 0 1,0 2.3,0M545,339.2a1.15,1.15 0 1,0 -2.3,0a1.15,1.15 0 1,0 2.3,0M542.6,339.2a1.15,1.15 0 1,0 -2.3,0a1.15,1.15 0 1,0 2.3,0M540.2,339.1a1.15,1.15 0 1,0 -2.3,0a1.15,1.15 0 1,0 2.3,0M537.9,339.1a1.15,1.15 0 1,0 -2.3,0a1.15,1.15 0 1,0 2.3,0M535.6,339a1.15,1.15 0 1,0 -2.3,0a1.15,1.15 0 1,0 2.3,0M533.4,338.9a1.15,1.15 0 1,0 -2.3,0a1.15,1.15 0 1,0 2.3,0M531.2,338.8a1.15,1.15 0 1,0 -2.3,0a1.15,1.15 0 1,0 2.3,0M529,338.7a1.15,1.15 0 1,0 -2.3,0a1.15,1.15 0 1,0 2.3,0M526.8,338.5a1.15,1.15 0 1,0 -2.3,0a1.15,1.15 0 1,0 2.3,0M524.7,338.3a1.15,1.15 0 1,0 -2.3,0a1.15,1.15 0 1,0 2.3,0M522.6,337.8a1.15,1.15 0 1,0 -2.3,0a1.15,1.15 0 1,0 2.3,0M520.5,336.9a1.15,1.15 0 1,0 -2.3,0a1.15,1.15 0 1,0 2.3,0M518.5,335.3a1.15,1.15 0 1,0 -2.3,0a1.15,1.15 0 1,0 2.3,0M516.4,331.9a1.15,1.15 0 1,0 -2.3,0a1.15,1.15 0 1,0 2.3,0M514.5,326a1.15,1.15 0 1,0 -2.3,0a1.15,1.15 0 1,0 2.3,0M512.5,318.2a1.15,1.15 0 1,0 -2.3,0a1.15,1.15 0 1,0 2.3,0M510.5,311.4a1.15,1.15 0 1,0 -2.3,0a1.15,1.15 0 1,0 2.3,0M508.6,305.8a1.15,1.15 0 1,0 -2.3,0a1.15,1.15 0 1,0 2.3,0M506.7,302.4a1.15,1.15 0 1,0 -2.3,0a1.15,1.15 0 1,0 2.3,0M504.9,302.7a1.15,1.15 0 1,0 -2.3,0a1.15,1.15 0 1,0 2.3,0M503,306.5a1.15,1.15 0 1,0 -2.3,0a1.15,1.15 0 1,0 2.3,0M501.2,312.3a1.15,1.15 0 1,0 -2.3,0a1.15,1.15 0 1,0 2.3,0M499.4,317.8a1.15,1.15 0 1,0 -2.3,0a1.15,1.15 0 1,0 2.3,0M497.6,322a1.15,1.15 0 1,0 -2.3,0a1.15,1.15 0 1,0 2.3,0M495.9,325.5a1.15,1.15 0 1,0 -2.3,0a1.15,1.15 0 1,0 2.3,0M494.2,328.7a1.15,1.15 0 1,0 -2.3,0a1.15,1.15 0 1,0 2.3,0M492.4,331.3a1.15,1.15 0 1,0 -2.3,0a1.15,1.15 0 1,0 2.3,0M490.8,333.4a1.15,1.15 0 1,0 -2.3,0a1.15,1.15 0 1,0 2.3,0M489.1,335.1a1.15,1.15 0 1,0 -2.3,0a1.15,1.15 0 1,0 2.3,0M487.4,336.3a1.15,1.15 0 1,0 -2.3,0a1.15,1.15 0 1,0 2.3,0M485.8,337.2a1.15,1.15 0 1,0 -2.3,0a1.15,1.15 0 1,0 2.3,0M484.2,337.8a1.15,1.15 0 1,0 -2.3,0a1.15,1.15 0 1,0 2.3,0M482.6,338.2a1.15,1.15 0 1,0 -2.3,0a1.15,1.15 0 1,0 2.3,0M481,338.5a1.15,1.15 0 1,0 -2.3,0a1.15,1.15 0 1,0 2.3,0M479.5,338.7a1.15,1.15 0 1,0 -2.3,0a1.15,1.15 0 1,0 2.3,0M477.9,338.8a1.15,1.15 0 1,0 -2.3,0a1.15,1.15 0 1,0 2.3,0M476.4,339a1.15,1.15 0 1,0 -2.3,0a1.15,1.15 0 1,0 2.3,0M474.9,339.1a1.15,1.15 0 1,0 -2.3,0a1.15,1.15 0 1,0 2.3,0M473.4,339.1a1.15,1.15 0 1,0 -2.3,0a1.15,1.15 0 1,0 2.3,0M472,339.2a1.15,1.15 0 1,0 -2.3,0a1.15,1.15 0 1,0 2.3,0M470.5,339.2a1.15,1.15 0 1,0 -2.3,0a1.15,1.15 0 1,0 2.3,0M469.1,339.2a1.15,1.15 0 1,0 -2.3,0a1.15,1.15 0 1,0 2.3,0M467.7,339.2a1.15,1.15 0 1,0 -2.3,0a1.15,1.15 0 1,0 2.3,0M466.3,339.3a1.15,1.15 0 1,0 -2.3,0a1.15,1.15 0 1,0 2.3,0M464.9,339.3a1.15,1.15 0 1,0 -2.3,0a1.15,1.15 0 1,0 2.3,0M463.5,339.3a1.15,1.15 0 1,0 -2.3,0a1.15,1.15 0 1,0 2.3,0M462.1,339.3a1.15,1.15 0 1,0 -2.3,0a1.15,1.15 0 1,0 2.3,0M460.8,339.3a1.15,1.15 0 1,0 -2.3,0a1.15,1.15 0 1,0 2.3,0M459.5,339.3a1.15,1.15 0 1,0 -2.3,0a1.15,1.15 0 1,0 2.3,0M458.2,339.3a1.15,1.15 0 1,0 -2.3,0a1.15,1.15 0 1,0 2.3,0M456.9,339.3a1.15,1.15 0 1,0 -2.3,0a1.15,1.15 0 1,0 2.3,0M455.6,339.3a1.15,1.15 0 1,0 -2.3,0a1.15,1.15 0 1,0 2.3,0M454.3,339.3a1.15,1.15 0 1,0 -2.3,0a1.15,1.15 0 1,0 2.3,0M453,339.3a1.15,1.15 0 1,0 -2.3,0a1.15,1.15 0 1,0 2.3,0M451.8,339.4a1.15,1.15 0 1,0 -2.3,0a1.15,1.15 0 1,0 2.3,0M450.6,339.4a1.15,1.15 0 1,0 -2.3,0a1.15,1.15 0 1,0 2.3,0M449.3,339.4a1.15,1.15 0 1,0 -2.3,0a1.15,1.15 0 1,0 2.3,0M448.1,339.4a1.15,1.15 0 1,0 -2.3,0a1.15,1.15 0 1,0 2.3,0M446.9,339.4a1.15,1.15 0 1,0 -2.3,0a1.15,1.15 0 1,0 2.3,0M445.7,339.4a1.15,1.15 0 1,0 -2.3,0a1.15,1.15 0 1,0 2.3,0M444.6,339.4a1.15,1.15 0 1,0 -2.3,0a1.15,1.15 0 1,0 2.3,0M443.4,339.4a1.15,1.15 0 1,0 -2.3,0a1.15,1.15 0 1,0 2.3,0M442.3,339.4a1.15,1.15 0 1,0 -2.3,0a1.15,1.15 0 1,0 2.3,0M441.1,339.4a1.15,1.15 0 1,0 -2.3,0a1.15,1.15 0 1,0 2.3,0M440,339.4a1.15,1.15 0 1,0 -2.3,0a1.15,1.15 0 1,0 2.3,0M438.9,339.4a1.15,1.15 0 1,0 -2.3,0a1.15,1.15 0 1,0 2.3,0M437.8,339.4a1.15,1.15 0 1,0 -2.3,0a1.15,1.15 0 1,0 2.3,0M436.7,339.4a1.15,1.15 0 1,0 -2.3,0a1.15,1.15 0 1,0 2.3,0M435.6,339.4a1.15,1.15 0 1,0 -2.3,0a1.15,1.15 0 1,0 2.3,0M434.5,339.4a1.15,1.15 0 1,0 -2.3,0a1.15,1.15 0 1,0 2.3,0M433.5,339.4a1.15,1.15 0 1,0 -2.3,0a1.15,1.15 0 1,0 2.3,0" fill="none" stroke="#2a2a2a" stroke-width="0.45"/>
<text x="438.1" y="334.5" font-size="10.2" text-anchor="start" textLength="19.5" lengthAdjust="spacingAndGlyphs" >40 K</text>
<text x="606.3" y="334.7" font-size="10.2" text-anchor="end" textLength="38.4" lengthAdjust="spacingAndGlyphs" >(−55 nm)</text>
<polyline points="431.5,301.4 432,301.4 432.5,301.4 433,301.4 433.5,301.4 434,301.4 434.5,301.4 435,301.4 435.5,301.4 436,301.4 436.5,301.4 437,301.4 437.5,301.4 438,301.4 438.5,301.4 439,301.4 439.5,301.4 440,301.4 440.5,301.4 441,301.4 441.5,301.4 442,301.4 442.5,301.4 443,301.4 443.5,301.4 444,301.4 444.5,301.4 445,301.4 445.5,301.4 446,301.4 446.5,301.4 447,301.4 447.5,301.4 448,301.4 448.5,301.4 449,301.4 449.5,301.4 450,301.4 450.5,301.4 451,301.4 451.5,301.4 452,301.4 452.5,301.3 453,301.3 453.5,301.3 454,301.3 454.5,301.3 455,301.3 455.5,301.3 456,301.3 456.5,301.3 457,301.3 457.5,301.3 458,301.3 458.5,301.3 459,301.3 459.5,301.3 460,301.3 460.5,301.3 461,301.3 461.5,301.3 462,301.3 462.5,301.3 463,301.3 463.5,301.3 464,301.3 464.5,301.3 465,301.3 465.5,301.2 466,301.2 466.5,301.2 467,301.2 467.5,301.2 468,301.2 468.5,301.2 469,301.2 469.5,301.2 470,301.2 470.5,301.2 471,301.2 471.5,301.1 472,301.1 472.5,301 473,301 473.5,300.9 474,300.8 474.5,300.7 475,300.6 475.5,300.5 476,300.4 476.5,300.2 477,300.1 477.5,300 478,299.8 478.5,299.7 479,299.5 479.5,299.4 480,299.2 480.5,299 481,298.9 481.5,298.7 482,298.5 482.5,298.2 483,298 483.5,297.7 484,297.3 484.5,297 485,296.6 485.5,296.2 486,295.8 486.5,295.4 487,295 487.5,294.6 488,294.2 488.5,293.8 489,293.4 489.5,293 490,292.6 490.5,292.1 491,291.6 491.5,291.1 492,290.6 492.5,289.9 493,289.2 493.5,288.4 494,287.6 494.5,286.8 495,285.9 495.5,285 496,284.2 496.5,283.3 497,282.4 497.5,281.5 498,280.4 498.5,279.2 499,277.9 499.5,276.5 500,275.1 500.5,273.6 501,272.3 501.5,270.9 502,269.7 502.5,268.6 503,267.5 503.5,266.7 504,265.9 504.5,265.3 505,264.9 505.5,264.7 506,264.6 506.5,264.8 507,265.2 507.5,265.7 508,266.3 508.5,266.9 509,267.7 509.5,268.5 510,269.5 510.5,270.6 511,271.9 511.5,273.4 512,275.1 512.5,276.9 513,278.8 513.5,280.7 514,282.7 514.5,284.8 515,286.7 515.5,288.5 516,290 516.5,291.3 517,292.4 517.5,293.4 518,294.4 518.5,295.2 519,295.9 519.5,296.6 520,297.2 520.5,297.7 521,298.1 521.5,298.4 522,298.7 522.5,298.9 523,299.1 523.5,299.3 524,299.5 524.5,299.7 525,299.9 525.5,300 526,300.1 526.5,300.3 527,300.4 527.5,300.5 528,300.6 528.5,300.6 529,300.7 529.5,300.8 530,300.8 530.5,300.8 531,300.9 531.5,300.9 532,300.9 532.5,300.9 533,301 533.5,301 534,301 534.5,301 535,301.1 535.5,301.1 536,301.1 536.5,301.1 537,301.1 537.5,301.2 538,301.2 538.5,301.2 539,301.2 539.5,301.2 540,301.3 540.5,301.3 541,301.3 541.5,301.3 542,301.3 542.5,301.3 543,301.3 543.5,301.3 544,301.3 544.5,301.4 545,301.4 545.5,301.4 546,301.4 546.5,301.4 547,301.4 547.5,301.4 548,301.4 548.5,301.4 549,301.4 549.5,301.4 550,301.4 550.5,301.4 551,301.4 551.5,301.4 552,301.4 552.5,301.4 553,301.4 553.5,301.4 554,301.4 554.5,301.4 555,301.4 555.5,301.4 556,301.4 556.5,301.4 557,301.4 557.5,301.4 558,301.4 558.5,301.4 559,301.4 559.5,301.4 560,301.4 560.5,301.4 561,301.4 561.5,301.4 562,301.4 562.5,301.4 563,301.4 563.5,301.4 564,301.4 564.5,301.4 565,301.4 565.5,301.4 566,301.4 566.5,301.4 567,301.4 567.5,301.4 568,301.4 568.5,301.4 569,301.4 569.5,301.4 570,301.4 570.5,301.4 571,301.4 571.5,301.4 572,301.4 572.5,301.4 573,301.4 573.5,301.4 574,301.4 574.5,301.4 575,301.4 575.5,301.4 576,301.4 576.5,301.4 577,301.4 577.5,301.4 578,301.4 578.5,301.4 579,301.4 579.5,301.4 580,301.4 580.5,301.4 581,301.4 581.5,301.4 582,301.4 582.5,301.4 583,301.4 583.5,301.4 584,301.4 584.5,301.4 585,301.4 585.5,301.4 586,301.4 586.5,301.4 587,301.4 587.5,301.4 588,301.4 588.5,301.4 589,301.4 589.5,301.4 590,301.4 590.5,301.4 591,301.4 591.5,301.4 592,301.4 592.5,301.4 593,301.4 593.5,301.4 594,301.4 594.5,301.4 595,301.4 595.5,301.4 596,301.4 596.5,301.4 597,301.4 597.5,301.4 598,301.4 598.5,301.4 599,301.4 599.5,301.4 600,301.4 600.5,301.4 601,301.4 601.5,301.4 602,301.4 602.5,301.4 603,301.4 603.5,301.4 604,301.4 604.5,301.4 605,301.4 605.5,301.4 606,301.4 606.5,301.4 607,301.4 607.5,301.4 608,301.4 608.5,301.4 609,301.4 609.5,301.4 610,301.4" fill="none" stroke="#000000" stroke-width="0.75" stroke-linejoin="round" />
<path d="M611.3,301.4a1.15,1.15 0 1,0 -2.3,0a1.15,1.15 0 1,0 2.3,0M607.8,301.4a1.15,1.15 0 1,0 -2.3,0a1.15,1.15 0 1,0 2.3,0M604.5,301.4a1.15,1.15 0 1,0 -2.3,0a1.15,1.15 0 1,0 2.3,0M601.1,301.4a1.15,1.15 0 1,0 -2.3,0a1.15,1.15 0 1,0 2.3,0M597.9,301.4a1.15,1.15 0 1,0 -2.3,0a1.15,1.15 0 1,0 2.3,0M594.7,301.4a1.15,1.15 0 1,0 -2.3,0a1.15,1.15 0 1,0 2.3,0M591.5,301.4a1.15,1.15 0 1,0 -2.3,0a1.15,1.15 0 1,0 2.3,0M588.4,301.4a1.15,1.15 0 1,0 -2.3,0a1.15,1.15 0 1,0 2.3,0M585.4,301.4a1.15,1.15 0 1,0 -2.3,0a1.15,1.15 0 1,0 2.3,0M582.4,301.4a1.15,1.15 0 1,0 -2.3,0a1.15,1.15 0 1,0 2.3,0M579.4,301.4a1.15,1.15 0 1,0 -2.3,0a1.15,1.15 0 1,0 2.3,0M576.5,301.4a1.15,1.15 0 1,0 -2.3,0a1.15,1.15 0 1,0 2.3,0M573.7,301.4a1.15,1.15 0 1,0 -2.3,0a1.15,1.15 0 1,0 2.3,0M570.9,301.4a1.15,1.15 0 1,0 -2.3,0a1.15,1.15 0 1,0 2.3,0M568.1,301.4a1.15,1.15 0 1,0 -2.3,0a1.15,1.15 0 1,0 2.3,0M565.4,301.4a1.15,1.15 0 1,0 -2.3,0a1.15,1.15 0 1,0 2.3,0M562.7,301.4a1.15,1.15 0 1,0 -2.3,0a1.15,1.15 0 1,0 2.3,0M560,301.4a1.15,1.15 0 1,0 -2.3,0a1.15,1.15 0 1,0 2.3,0M557.4,301.4a1.15,1.15 0 1,0 -2.3,0a1.15,1.15 0 1,0 2.3,0M554.9,301.4a1.15,1.15 0 1,0 -2.3,0a1.15,1.15 0 1,0 2.3,0M552.3,301.4a1.15,1.15 0 1,0 -2.3,0a1.15,1.15 0 1,0 2.3,0M549.8,301.4a1.15,1.15 0 1,0 -2.3,0a1.15,1.15 0 1,0 2.3,0M547.4,301.4a1.15,1.15 0 1,0 -2.3,0a1.15,1.15 0 1,0 2.3,0M545,301.3a1.15,1.15 0 1,0 -2.3,0a1.15,1.15 0 1,0 2.3,0M542.6,301.3a1.15,1.15 0 1,0 -2.3,0a1.15,1.15 0 1,0 2.3,0M540.2,301.2a1.15,1.15 0 1,0 -2.3,0a1.15,1.15 0 1,0 2.3,0M537.9,301.1a1.15,1.15 0 1,0 -2.3,0a1.15,1.15 0 1,0 2.3,0M535.6,301a1.15,1.15 0 1,0 -2.3,0a1.15,1.15 0 1,0 2.3,0M533.4,300.9a1.15,1.15 0 1,0 -2.3,0a1.15,1.15 0 1,0 2.3,0M531.2,300.8a1.15,1.15 0 1,0 -2.3,0a1.15,1.15 0 1,0 2.3,0M529,300.5a1.15,1.15 0 1,0 -2.3,0a1.15,1.15 0 1,0 2.3,0M526.8,300a1.15,1.15 0 1,0 -2.3,0a1.15,1.15 0 1,0 2.3,0M524.7,299.2a1.15,1.15 0 1,0 -2.3,0a1.15,1.15 0 1,0 2.3,0M522.6,298.2a1.15,1.15 0 1,0 -2.3,0a1.15,1.15 0 1,0 2.3,0M520.5,296.4a1.15,1.15 0 1,0 -2.3,0a1.15,1.15 0 1,0 2.3,0M518.5,293.1a1.15,1.15 0 1,0 -2.3,0a1.15,1.15 0 1,0 2.3,0M516.4,287.3a1.15,1.15 0 1,0 -2.3,0a1.15,1.15 0 1,0 2.3,0M514.5,279.9a1.15,1.15 0 1,0 -2.3,0a1.15,1.15 0 1,0 2.3,0M512.5,273a1.15,1.15 0 1,0 -2.3,0a1.15,1.15 0 1,0 2.3,0M510.5,268.3a1.15,1.15 0 1,0 -2.3,0a1.15,1.15 0 1,0 2.3,0M508.6,265.7a1.15,1.15 0 1,0 -2.3,0a1.15,1.15 0 1,0 2.3,0M506.7,264.7a1.15,1.15 0 1,0 -2.3,0a1.15,1.15 0 1,0 2.3,0M504.9,266.3a1.15,1.15 0 1,0 -2.3,0a1.15,1.15 0 1,0 2.3,0M503,270a1.15,1.15 0 1,0 -2.3,0a1.15,1.15 0 1,0 2.3,0M501.2,274.9a1.15,1.15 0 1,0 -2.3,0a1.15,1.15 0 1,0 2.3,0M499.4,279.8a1.15,1.15 0 1,0 -2.3,0a1.15,1.15 0 1,0 2.3,0M497.6,283.3a1.15,1.15 0 1,0 -2.3,0a1.15,1.15 0 1,0 2.3,0M495.9,286.4a1.15,1.15 0 1,0 -2.3,0a1.15,1.15 0 1,0 2.3,0M494.2,289.2a1.15,1.15 0 1,0 -2.3,0a1.15,1.15 0 1,0 2.3,0M492.4,291.3a1.15,1.15 0 1,0 -2.3,0a1.15,1.15 0 1,0 2.3,0M490.8,292.9a1.15,1.15 0 1,0 -2.3,0a1.15,1.15 0 1,0 2.3,0M489.1,294.3a1.15,1.15 0 1,0 -2.3,0a1.15,1.15 0 1,0 2.3,0M487.4,295.6a1.15,1.15 0 1,0 -2.3,0a1.15,1.15 0 1,0 2.3,0M485.8,296.9a1.15,1.15 0 1,0 -2.3,0a1.15,1.15 0 1,0 2.3,0M484.2,297.9a1.15,1.15 0 1,0 -2.3,0a1.15,1.15 0 1,0 2.3,0M482.6,298.7a1.15,1.15 0 1,0 -2.3,0a1.15,1.15 0 1,0 2.3,0M481,299.2a1.15,1.15 0 1,0 -2.3,0a1.15,1.15 0 1,0 2.3,0M479.5,299.7a1.15,1.15 0 1,0 -2.3,0a1.15,1.15 0 1,0 2.3,0M477.9,300.2a1.15,1.15 0 1,0 -2.3,0a1.15,1.15 0 1,0 2.3,0M476.4,300.5a1.15,1.15 0 1,0 -2.3,0a1.15,1.15 0 1,0 2.3,0M474.9,300.8a1.15,1.15 0 1,0 -2.3,0a1.15,1.15 0 1,0 2.3,0M473.4,301a1.15,1.15 0 1,0 -2.3,0a1.15,1.15 0 1,0 2.3,0M472,301.2a1.15,1.15 0 1,0 -2.3,0a1.15,1.15 0 1,0 2.3,0M470.5,301.2a1.15,1.15 0 1,0 -2.3,0a1.15,1.15 0 1,0 2.3,0M469.1,301.2a1.15,1.15 0 1,0 -2.3,0a1.15,1.15 0 1,0 2.3,0M467.7,301.2a1.15,1.15 0 1,0 -2.3,0a1.15,1.15 0 1,0 2.3,0M466.3,301.3a1.15,1.15 0 1,0 -2.3,0a1.15,1.15 0 1,0 2.3,0M464.9,301.3a1.15,1.15 0 1,0 -2.3,0a1.15,1.15 0 1,0 2.3,0M463.5,301.3a1.15,1.15 0 1,0 -2.3,0a1.15,1.15 0 1,0 2.3,0M462.1,301.3a1.15,1.15 0 1,0 -2.3,0a1.15,1.15 0 1,0 2.3,0M460.8,301.3a1.15,1.15 0 1,0 -2.3,0a1.15,1.15 0 1,0 2.3,0M459.5,301.3a1.15,1.15 0 1,0 -2.3,0a1.15,1.15 0 1,0 2.3,0M458.2,301.3a1.15,1.15 0 1,0 -2.3,0a1.15,1.15 0 1,0 2.3,0M456.9,301.3a1.15,1.15 0 1,0 -2.3,0a1.15,1.15 0 1,0 2.3,0M455.6,301.3a1.15,1.15 0 1,0 -2.3,0a1.15,1.15 0 1,0 2.3,0M454.3,301.3a1.15,1.15 0 1,0 -2.3,0a1.15,1.15 0 1,0 2.3,0M453,301.4a1.15,1.15 0 1,0 -2.3,0a1.15,1.15 0 1,0 2.3,0M451.8,301.4a1.15,1.15 0 1,0 -2.3,0a1.15,1.15 0 1,0 2.3,0M450.6,301.4a1.15,1.15 0 1,0 -2.3,0a1.15,1.15 0 1,0 2.3,0M449.3,301.4a1.15,1.15 0 1,0 -2.3,0a1.15,1.15 0 1,0 2.3,0M448.1,301.4a1.15,1.15 0 1,0 -2.3,0a1.15,1.15 0 1,0 2.3,0M446.9,301.4a1.15,1.15 0 1,0 -2.3,0a1.15,1.15 0 1,0 2.3,0M445.7,301.4a1.15,1.15 0 1,0 -2.3,0a1.15,1.15 0 1,0 2.3,0M444.6,301.4a1.15,1.15 0 1,0 -2.3,0a1.15,1.15 0 1,0 2.3,0M443.4,301.4a1.15,1.15 0 1,0 -2.3,0a1.15,1.15 0 1,0 2.3,0M442.3,301.4a1.15,1.15 0 1,0 -2.3,0a1.15,1.15 0 1,0 2.3,0M441.1,301.4a1.15,1.15 0 1,0 -2.3,0a1.15,1.15 0 1,0 2.3,0M440,301.4a1.15,1.15 0 1,0 -2.3,0a1.15,1.15 0 1,0 2.3,0M438.9,301.4a1.15,1.15 0 1,0 -2.3,0a1.15,1.15 0 1,0 2.3,0M437.8,301.4a1.15,1.15 0 1,0 -2.3,0a1.15,1.15 0 1,0 2.3,0M436.7,301.4a1.15,1.15 0 1,0 -2.3,0a1.15,1.15 0 1,0 2.3,0M435.6,301.4a1.15,1.15 0 1,0 -2.3,0a1.15,1.15 0 1,0 2.3,0M434.5,301.4a1.15,1.15 0 1,0 -2.3,0a1.15,1.15 0 1,0 2.3,0M433.5,301.4a1.15,1.15 0 1,0 -2.3,0a1.15,1.15 0 1,0 2.3,0" fill="none" stroke="#2a2a2a" stroke-width="0.45"/>
<text x="438.1" y="296.7" font-size="10.2" text-anchor="start" textLength="19.5" lengthAdjust="spacingAndGlyphs" >80 K</text>
<text x="606.3" y="295.8" font-size="10.2" text-anchor="end" textLength="38.4" lengthAdjust="spacingAndGlyphs" >(−75 nm)</text>
<polyline points="431.5,263.6 432,263.6 432.5,263.6 433,263.6 433.5,263.6 434,263.6 434.5,263.6 435,263.6 435.5,263.6 436,263.6 436.5,263.6 437,263.6 437.5,263.6 438,263.6 438.5,263.6 439,263.6 439.5,263.6 440,263.6 440.5,263.6 441,263.6 441.5,263.6 442,263.6 442.5,263.6 443,263.6 443.5,263.6 444,263.6 444.5,263.6 445,263.6 445.5,263.6 446,263.5 446.5,263.5 447,263.5 447.5,263.5 448,263.5 448.5,263.5 449,263.5 449.5,263.5 450,263.5 450.5,263.5 451,263.5 451.5,263.5 452,263.5 452.5,263.5 453,263.5 453.5,263.5 454,263.5 454.5,263.5 455,263.5 455.5,263.5 456,263.4 456.5,263.4 457,263.4 457.5,263.4 458,263.4 458.5,263.4 459,263.4 459.5,263.4 460,263.4 460.5,263.4 461,263.4 461.5,263.4 462,263.4 462.5,263.4 463,263.3 463.5,263.3 464,263.3 464.5,263.3 465,263.3 465.5,263.3 466,263.3 466.5,263.3 467,263.3 467.5,263.3 468,263.2 468.5,263.2 469,263.2 469.5,263.2 470,263.2 470.5,263.2 471,263.1 471.5,263.1 472,263.1 472.5,263 473,263 473.5,262.9 474,262.8 474.5,262.7 475,262.6 475.5,262.5 476,262.4 476.5,262.3 477,262.2 477.5,262.1 478,262 478.5,261.8 479,261.7 479.5,261.6 480,261.4 480.5,261.3 481,261.1 481.5,261 482,260.8 482.5,260.7 483,260.5 483.5,260.3 484,260.1 484.5,259.9 485,259.6 485.5,259.4 486,259.1 486.5,258.8 487,258.5 487.5,258.2 488,257.8 488.5,257.5 489,257.2 489.5,256.8 490,256.5 490.5,256.2 491,255.8 491.5,255.5 492,255.1 492.5,254.8 493,254.4 493.5,254 494,253.5 494.5,253 495,252.5 495.5,252 496,251.3 496.5,250.6 497,249.9 497.5,249.1 498,248.3 498.5,247.5 499,246.7 499.5,246 500,245.2 500.5,244.4 501,243.6 501.5,242.6 502,241.6 502.5,240.4 503,239.1 503.5,237.8 504,236.5 504.5,235.3 505,234 505.5,232.8 506,231.7 506.5,230.7 507,229.7 507.5,228.8 508,228.1 508.5,227.5 509,227 509.5,226.6 510,226.4 510.5,226.3 511,226.3 511.5,226.6 512,227.1 512.5,227.8 513,228.7 513.5,229.8 514,231.1 514.5,232.5 515,234.1 515.5,235.7 516,237.4 516.5,239.1 517,240.8 517.5,242.6 518,244.4 518.5,246.2 519,247.9 519.5,249.5 520,250.9 520.5,252.1 521,253.1 521.5,254 522,254.7 522.5,255.4 523,256 523.5,256.6 524,257.1 524.5,257.6 525,258 525.5,258.4 526,258.7 526.5,259.1 527,259.4 527.5,259.7 528,260 528.5,260.2 529,260.5 529.5,260.7 530,260.9 530.5,261.1 531,261.2 531.5,261.4 532,261.5 532.5,261.6 533,261.7 533.5,261.8 534,261.8 534.5,261.9 535,262 535.5,262.1 536,262.1 536.5,262.2 537,262.3 537.5,262.3 538,262.4 538.5,262.4 539,262.5 539.5,262.6 540,262.6 540.5,262.7 541,262.7 541.5,262.8 542,262.8 542.5,262.8 543,262.9 543.5,262.9 544,263 544.5,263 545,263 545.5,263 546,263.1 546.5,263.1 547,263.1 547.5,263.1 548,263.2 548.5,263.2 549,263.2 549.5,263.2 550,263.2 550.5,263.2 551,263.2 551.5,263.2 552,263.2 552.5,263.2 553,263.2 553.5,263.2 554,263.3 554.5,263.3 555,263.3 555.5,263.3 556,263.3 556.5,263.3 557,263.3 557.5,263.3 558,263.3 558.5,263.3 559,263.3 559.5,263.3 560,263.3 560.5,263.3 561,263.3 561.5,263.3 562,263.4 562.5,263.4 563,263.4 563.5,263.4 564,263.4 564.5,263.4 565,263.4 565.5,263.4 566,263.4 566.5,263.4 567,263.4 567.5,263.4 568,263.4 568.5,263.4 569,263.4 569.5,263.4 570,263.4 570.5,263.4 571,263.4 571.5,263.4 572,263.4 572.5,263.5 573,263.5 573.5,263.5 574,263.5 574.5,263.5 575,263.5 575.5,263.5 576,263.5 576.5,263.5 577,263.5 577.5,263.5 578,263.5 578.5,263.5 579,263.5 579.5,263.5 580,263.5 580.5,263.5 581,263.5 581.5,263.5 582,263.5 582.5,263.5 583,263.5 583.5,263.5 584,263.5 584.5,263.5 585,263.5 585.5,263.5 586,263.5 586.5,263.5 587,263.5 587.5,263.5 588,263.6 588.5,263.6 589,263.6 589.5,263.6 590,263.6 590.5,263.6 591,263.6 591.5,263.6 592,263.6 592.5,263.6 593,263.6 593.5,263.6 594,263.6 594.5,263.6 595,263.6 595.5,263.6 596,263.6 596.5,263.6 597,263.6 597.5,263.6 598,263.6 598.5,263.6 599,263.6 599.5,263.6 600,263.6 600.5,263.6 601,263.6 601.5,263.6 602,263.6 602.5,263.6 603,263.6 603.5,263.6 604,263.6 604.5,263.6 605,263.6 605.5,263.6 606,263.6 606.5,263.6 607,263.6 607.5,263.6 608,263.6 608.5,263.6 609,263.6 609.5,263.6 610,263.6" fill="none" stroke="#000000" stroke-width="0.75" stroke-linejoin="round" />
<path d="M611.3,263.6a1.15,1.15 0 1,0 -2.3,0a1.15,1.15 0 1,0 2.3,0M607.8,263.6a1.15,1.15 0 1,0 -2.3,0a1.15,1.15 0 1,0 2.3,0M604.5,263.6a1.15,1.15 0 1,0 -2.3,0a1.15,1.15 0 1,0 2.3,0M601.1,263.6a1.15,1.15 0 1,0 -2.3,0a1.15,1.15 0 1,0 2.3,0M597.9,263.6a1.15,1.15 0 1,0 -2.3,0a1.15,1.15 0 1,0 2.3,0M594.7,263.6a1.15,1.15 0 1,0 -2.3,0a1.15,1.15 0 1,0 2.3,0M591.5,263.6a1.15,1.15 0 1,0 -2.3,0a1.15,1.15 0 1,0 2.3,0M588.4,263.5a1.15,1.15 0 1,0 -2.3,0a1.15,1.15 0 1,0 2.3,0M585.4,263.5a1.15,1.15 0 1,0 -2.3,0a1.15,1.15 0 1,0 2.3,0M582.4,263.5a1.15,1.15 0 1,0 -2.3,0a1.15,1.15 0 1,0 2.3,0M579.4,263.5a1.15,1.15 0 1,0 -2.3,0a1.15,1.15 0 1,0 2.3,0M576.5,263.5a1.15,1.15 0 1,0 -2.3,0a1.15,1.15 0 1,0 2.3,0M573.7,263.5a1.15,1.15 0 1,0 -2.3,0a1.15,1.15 0 1,0 2.3,0M570.9,263.4a1.15,1.15 0 1,0 -2.3,0a1.15,1.15 0 1,0 2.3,0M568.1,263.4a1.15,1.15 0 1,0 -2.3,0a1.15,1.15 0 1,0 2.3,0M565.4,263.4a1.15,1.15 0 1,0 -2.3,0a1.15,1.15 0 1,0 2.3,0M562.7,263.3a1.15,1.15 0 1,0 -2.3,0a1.15,1.15 0 1,0 2.3,0M560,263.3a1.15,1.15 0 1,0 -2.3,0a1.15,1.15 0 1,0 2.3,0M557.4,263.3a1.15,1.15 0 1,0 -2.3,0a1.15,1.15 0 1,0 2.3,0M554.9,263.3a1.15,1.15 0 1,0 -2.3,0a1.15,1.15 0 1,0 2.3,0M552.3,263.2a1.15,1.15 0 1,0 -2.3,0a1.15,1.15 0 1,0 2.3,0M549.8,263.2a1.15,1.15 0 1,0 -2.3,0a1.15,1.15 0 1,0 2.3,0M547.4,263.1a1.15,1.15 0 1,0 -2.3,0a1.15,1.15 0 1,0 2.3,0M545,262.9a1.15,1.15 0 1,0 -2.3,0a1.15,1.15 0 1,0 2.3,0M542.6,262.8a1.15,1.15 0 1,0 -2.3,0a1.15,1.15 0 1,0 2.3,0M540.2,262.5a1.15,1.15 0 1,0 -2.3,0a1.15,1.15 0 1,0 2.3,0M537.9,262.2a1.15,1.15 0 1,0 -2.3,0a1.15,1.15 0 1,0 2.3,0M535.6,261.9a1.15,1.15 0 1,0 -2.3,0a1.15,1.15 0 1,0 2.3,0M533.4,261.5a1.15,1.15 0 1,0 -2.3,0a1.15,1.15 0 1,0 2.3,0M531.2,260.9a1.15,1.15 0 1,0 -2.3,0a1.15,1.15 0 1,0 2.3,0M529,259.9a1.15,1.15 0 1,0 -2.3,0a1.15,1.15 0 1,0 2.3,0M526.8,258.5a1.15,1.15 0 1,0 -2.3,0a1.15,1.15 0 1,0 2.3,0M524.7,256.6a1.15,1.15 0 1,0 -2.3,0a1.15,1.15 0 1,0 2.3,0M522.6,253.9a1.15,1.15 0 1,0 -2.3,0a1.15,1.15 0 1,0 2.3,0M520.5,249.1a1.15,1.15 0 1,0 -2.3,0a1.15,1.15 0 1,0 2.3,0M518.5,241.9a1.15,1.15 0 1,0 -2.3,0a1.15,1.15 0 1,0 2.3,0M516.4,235a1.15,1.15 0 1,0 -2.3,0a1.15,1.15 0 1,0 2.3,0M514.5,229.3a1.15,1.15 0 1,0 -2.3,0a1.15,1.15 0 1,0 2.3,0M512.5,226.5a1.15,1.15 0 1,0 -2.3,0a1.15,1.15 0 1,0 2.3,0M510.5,226.7a1.15,1.15 0 1,0 -2.3,0a1.15,1.15 0 1,0 2.3,0M508.6,228.8a1.15,1.15 0 1,0 -2.3,0a1.15,1.15 0 1,0 2.3,0M506.7,232.6a1.15,1.15 0 1,0 -2.3,0a1.15,1.15 0 1,0 2.3,0M504.9,237.2a1.15,1.15 0 1,0 -2.3,0a1.15,1.15 0 1,0 2.3,0M503,241.8a1.15,1.15 0 1,0 -2.3,0a1.15,1.15 0 1,0 2.3,0M501.2,245.1a1.15,1.15 0 1,0 -2.3,0a1.15,1.15 0 1,0 2.3,0M499.4,247.9a1.15,1.15 0 1,0 -2.3,0a1.15,1.15 0 1,0 2.3,0M497.6,250.6a1.15,1.15 0 1,0 -2.3,0a1.15,1.15 0 1,0 2.3,0M495.9,252.8a1.15,1.15 0 1,0 -2.3,0a1.15,1.15 0 1,0 2.3,0M494.2,254.4a1.15,1.15 0 1,0 -2.3,0a1.15,1.15 0 1,0 2.3,0M492.4,255.6a1.15,1.15 0 1,0 -2.3,0a1.15,1.15 0 1,0 2.3,0M490.8,256.8a1.15,1.15 0 1,0 -2.3,0a1.15,1.15 0 1,0 2.3,0M489.1,257.9a1.15,1.15 0 1,0 -2.3,0a1.15,1.15 0 1,0 2.3,0M487.4,258.9a1.15,1.15 0 1,0 -2.3,0a1.15,1.15 0 1,0 2.3,0M485.8,259.8a1.15,1.15 0 1,0 -2.3,0a1.15,1.15 0 1,0 2.3,0M484.2,260.5a1.15,1.15 0 1,0 -2.3,0a1.15,1.15 0 1,0 2.3,0M482.6,261a1.15,1.15 0 1,0 -2.3,0a1.15,1.15 0 1,0 2.3,0M481,261.4a1.15,1.15 0 1,0 -2.3,0a1.15,1.15 0 1,0 2.3,0M479.5,261.9a1.15,1.15 0 1,0 -2.3,0a1.15,1.15 0 1,0 2.3,0M477.9,262.3a1.15,1.15 0 1,0 -2.3,0a1.15,1.15 0 1,0 2.3,0M476.4,262.6a1.15,1.15 0 1,0 -2.3,0a1.15,1.15 0 1,0 2.3,0M474.9,262.8a1.15,1.15 0 1,0 -2.3,0a1.15,1.15 0 1,0 2.3,0M473.4,263a1.15,1.15 0 1,0 -2.3,0a1.15,1.15 0 1,0 2.3,0M472,263.2a1.15,1.15 0 1,0 -2.3,0a1.15,1.15 0 1,0 2.3,0M470.5,263.2a1.15,1.15 0 1,0 -2.3,0a1.15,1.15 0 1,0 2.3,0M469.1,263.2a1.15,1.15 0 1,0 -2.3,0a1.15,1.15 0 1,0 2.3,0M467.7,263.3a1.15,1.15 0 1,0 -2.3,0a1.15,1.15 0 1,0 2.3,0M466.3,263.3a1.15,1.15 0 1,0 -2.3,0a1.15,1.15 0 1,0 2.3,0M464.9,263.3a1.15,1.15 0 1,0 -2.3,0a1.15,1.15 0 1,0 2.3,0M463.5,263.4a1.15,1.15 0 1,0 -2.3,0a1.15,1.15 0 1,0 2.3,0M462.1,263.4a1.15,1.15 0 1,0 -2.3,0a1.15,1.15 0 1,0 2.3,0M460.8,263.4a1.15,1.15 0 1,0 -2.3,0a1.15,1.15 0 1,0 2.3,0M459.5,263.4a1.15,1.15 0 1,0 -2.3,0a1.15,1.15 0 1,0 2.3,0M458.2,263.4a1.15,1.15 0 1,0 -2.3,0a1.15,1.15 0 1,0 2.3,0M456.9,263.5a1.15,1.15 0 1,0 -2.3,0a1.15,1.15 0 1,0 2.3,0M455.6,263.5a1.15,1.15 0 1,0 -2.3,0a1.15,1.15 0 1,0 2.3,0M454.3,263.5a1.15,1.15 0 1,0 -2.3,0a1.15,1.15 0 1,0 2.3,0M453,263.5a1.15,1.15 0 1,0 -2.3,0a1.15,1.15 0 1,0 2.3,0M451.8,263.5a1.15,1.15 0 1,0 -2.3,0a1.15,1.15 0 1,0 2.3,0M450.6,263.5a1.15,1.15 0 1,0 -2.3,0a1.15,1.15 0 1,0 2.3,0M449.3,263.5a1.15,1.15 0 1,0 -2.3,0a1.15,1.15 0 1,0 2.3,0M448.1,263.5a1.15,1.15 0 1,0 -2.3,0a1.15,1.15 0 1,0 2.3,0M446.9,263.6a1.15,1.15 0 1,0 -2.3,0a1.15,1.15 0 1,0 2.3,0M445.7,263.6a1.15,1.15 0 1,0 -2.3,0a1.15,1.15 0 1,0 2.3,0M444.6,263.6a1.15,1.15 0 1,0 -2.3,0a1.15,1.15 0 1,0 2.3,0M443.4,263.6a1.15,1.15 0 1,0 -2.3,0a1.15,1.15 0 1,0 2.3,0M442.3,263.6a1.15,1.15 0 1,0 -2.3,0a1.15,1.15 0 1,0 2.3,0M441.1,263.6a1.15,1.15 0 1,0 -2.3,0a1.15,1.15 0 1,0 2.3,0M440,263.6a1.15,1.15 0 1,0 -2.3,0a1.15,1.15 0 1,0 2.3,0M438.9,263.6a1.15,1.15 0 1,0 -2.3,0a1.15,1.15 0 1,0 2.3,0M437.8,263.6a1.15,1.15 0 1,0 -2.3,0a1.15,1.15 0 1,0 2.3,0M436.7,263.6a1.15,1.15 0 1,0 -2.3,0a1.15,1.15 0 1,0 2.3,0M435.6,263.6a1.15,1.15 0 1,0 -2.3,0a1.15,1.15 0 1,0 2.3,0M434.5,263.6a1.15,1.15 0 1,0 -2.3,0a1.15,1.15 0 1,0 2.3,0M433.5,263.6a1.15,1.15 0 1,0 -2.3,0a1.15,1.15 0 1,0 2.3,0" fill="none" stroke="#2a2a2a" stroke-width="0.45"/>
<text x="438.1" y="258.9" font-size="10.2" text-anchor="start" textLength="23.7" lengthAdjust="spacingAndGlyphs" >125 K</text>
<text x="606.3" y="258.3" font-size="10.2" text-anchor="end" textLength="38.4" lengthAdjust="spacingAndGlyphs" >(−95 nm)</text>
<polyline points="431.5,226.2 432,226.2 432.5,226.2 433,226.2 433.5,226.2 434,226.2 434.5,226.2 435,226.2 435.5,226.2 436,226.2 436.5,226.2 437,226.1 437.5,226.1 438,226.1 438.5,226.1 439,226.1 439.5,226.1 440,226.1 440.5,226.1 441,226.1 441.5,226 442,226 442.5,226 443,226 443.5,226 444,226 444.5,225.9 445,225.9 445.5,225.9 446,225.9 446.5,225.9 447,225.8 447.5,225.8 448,225.8 448.5,225.8 449,225.8 449.5,225.7 450,225.7 450.5,225.7 451,225.7 451.5,225.6 452,225.6 452.5,225.6 453,225.5 453.5,225.5 454,225.5 454.5,225.5 455,225.4 455.5,225.4 456,225.4 456.5,225.3 457,225.3 457.5,225.3 458,225.2 458.5,225.2 459,225.2 459.5,225.1 460,225.1 460.5,225.1 461,225 461.5,225 462,225 462.5,224.9 463,224.9 463.5,224.8 464,224.8 464.5,224.8 465,224.7 465.5,224.7 466,224.6 466.5,224.6 467,224.6 467.5,224.5 468,224.5 468.5,224.4 469,224.4 469.5,224.3 470,224.3 470.5,224.2 471,224.2 471.5,224.1 472,224.1 472.5,224 473,223.9 473.5,223.8 474,223.7 474.5,223.6 475,223.5 475.5,223.4 476,223.3 476.5,223.2 477,223.1 477.5,223 478,222.8 478.5,222.7 479,222.6 479.5,222.4 480,222.3 480.5,222.2 481,222 481.5,221.9 482,221.7 482.5,221.6 483,221.5 483.5,221.3 484,221.2 484.5,221 485,220.9 485.5,220.7 486,220.6 486.5,220.4 487,220.2 487.5,220.1 488,219.9 488.5,219.7 489,219.5 489.5,219.3 490,219.1 490.5,218.9 491,218.6 491.5,218.4 492,218.2 492.5,217.9 493,217.6 493.5,217.4 494,217.1 494.5,216.8 495,216.5 495.5,216.1 496,215.8 496.5,215.4 497,215 497.5,214.6 498,214.2 498.5,213.7 499,213.2 499.5,212.7 500,212.2 500.5,211.6 501,211 501.5,210.5 502,209.9 502.5,209.3 503,208.8 503.5,208.2 504,207.5 504.5,206.9 505,206.3 505.5,205.6 506,205 506.5,204.3 507,203.6 507.5,203 508,202.3 508.5,201.6 509,200.8 509.5,200.1 510,199.3 510.5,198.6 511,197.8 511.5,197 512,196.1 512.5,195.3 513,194.4 513.5,193.6 514,192.7 514.5,191.9 515,191 515.5,190.1 516,189.4 516.5,188.7 517,188.1 517.5,187.7 518,187.3 518.5,187 519,186.7 519.5,186.6 520,186.6 520.5,186.8 521,187 521.5,187.5 522,188.1 522.5,188.8 523,189.7 523.5,190.8 524,192 524.5,193.3 525,194.6 525.5,195.8 526,197.1 526.5,198.4 527,199.7 527.5,200.9 528,202.2 528.5,203.4 529,204.6 529.5,205.6 530,206.7 530.5,207.7 531,208.6 531.5,209.5 532,210.3 532.5,211.1 533,211.9 533.5,212.7 534,213.4 534.5,214 535,214.7 535.5,215.3 536,215.8 536.5,216.3 537,216.8 537.5,217.3 538,217.8 538.5,218.2 539,218.6 539.5,219 540,219.4 540.5,219.8 541,220.1 541.5,220.4 542,220.7 542.5,221 543,221.3 543.5,221.5 544,221.8 544.5,222 545,222.3 545.5,222.5 546,222.7 546.5,222.9 547,223.1 547.5,223.2 548,223.4 548.5,223.5 549,223.6 549.5,223.7 550,223.8 550.5,223.9 551,224 551.5,224.1 552,224.2 552.5,224.3 553,224.4 553.5,224.5 554,224.5 554.5,224.6 555,224.7 555.5,224.7 556,224.8 556.5,224.8 557,224.9 557.5,224.9 558,225 558.5,225 559,225 559.5,225.1 560,225.1 560.5,225.1 561,225.1 561.5,225.2 562,225.2 562.5,225.2 563,225.2 563.5,225.2 564,225.3 564.5,225.3 565,225.3 565.5,225.3 566,225.3 566.5,225.3 567,225.4 567.5,225.4 568,225.4 568.5,225.4 569,225.4 569.5,225.4 570,225.5 570.5,225.5 571,225.5 571.5,225.5 572,225.5 572.5,225.5 573,225.6 573.5,225.6 574,225.6 574.5,225.6 575,225.6 575.5,225.6 576,225.6 576.5,225.7 577,225.7 577.5,225.7 578,225.7 578.5,225.7 579,225.7 579.5,225.7 580,225.7 580.5,225.8 581,225.8 581.5,225.8 582,225.8 582.5,225.8 583,225.8 583.5,225.8 584,225.8 584.5,225.8 585,225.8 585.5,225.9 586,225.9 586.5,225.9 587,225.9 587.5,225.9 588,225.9 588.5,225.9 589,225.9 589.5,225.9 590,225.9 590.5,225.9 591,226 591.5,226 592,226 592.5,226 593,226 593.5,226 594,226 594.5,226 595,226 595.5,226 596,226 596.5,226 597,226 597.5,226 598,226 598.5,226 599,226 599.5,226.1 600,226.1 600.5,226.1 601,226.1 601.5,226.1 602,226.1 602.5,226.1 603,226.1 603.5,226.1 604,226.1 604.5,226.1 605,226.1 605.5,226.1 606,226.1 606.5,226.1 607,226.1 607.5,226.1 608,226.1 608.5,226.1 609,226.1 609.5,226.1 610,226.1" fill="none" stroke="#000000" stroke-width="0.75" stroke-linejoin="round" />
<path d="M611.3,226.1a1.15,1.15 0 1,0 -2.3,0a1.15,1.15 0 1,0 2.3,0M607.8,226.1a1.15,1.15 0 1,0 -2.3,0a1.15,1.15 0 1,0 2.3,0M604.5,226.1a1.15,1.15 0 1,0 -2.3,0a1.15,1.15 0 1,0 2.3,0M601.1,226.1a1.15,1.15 0 1,0 -2.3,0a1.15,1.15 0 1,0 2.3,0M597.9,226a1.15,1.15 0 1,0 -2.3,0a1.15,1.15 0 1,0 2.3,0M594.7,226a1.15,1.15 0 1,0 -2.3,0a1.15,1.15 0 1,0 2.3,0M591.5,226a1.15,1.15 0 1,0 -2.3,0a1.15,1.15 0 1,0 2.3,0M588.4,225.9a1.15,1.15 0 1,0 -2.3,0a1.15,1.15 0 1,0 2.3,0M585.4,225.9a1.15,1.15 0 1,0 -2.3,0a1.15,1.15 0 1,0 2.3,0M582.4,225.8a1.15,1.15 0 1,0 -2.3,0a1.15,1.15 0 1,0 2.3,0M579.4,225.8a1.15,1.15 0 1,0 -2.3,0a1.15,1.15 0 1,0 2.3,0M576.5,225.7a1.15,1.15 0 1,0 -2.3,0a1.15,1.15 0 1,0 2.3,0M573.7,225.6a1.15,1.15 0 1,0 -2.3,0a1.15,1.15 0 1,0 2.3,0M570.9,225.5a1.15,1.15 0 1,0 -2.3,0a1.15,1.15 0 1,0 2.3,0M568.1,225.4a1.15,1.15 0 1,0 -2.3,0a1.15,1.15 0 1,0 2.3,0M565.4,225.4a1.15,1.15 0 1,0 -2.3,0a1.15,1.15 0 1,0 2.3,0M562.7,225.3a1.15,1.15 0 1,0 -2.3,0a1.15,1.15 0 1,0 2.3,0M560,225.1a1.15,1.15 0 1,0 -2.3,0a1.15,1.15 0 1,0 2.3,0M557.4,224.9a1.15,1.15 0 1,0 -2.3,0a1.15,1.15 0 1,0 2.3,0M554.9,224.4a1.15,1.15 0 1,0 -2.3,0a1.15,1.15 0 1,0 2.3,0M552.3,223.8a1.15,1.15 0 1,0 -2.3,0a1.15,1.15 0 1,0 2.3,0M549.8,223.2a1.15,1.15 0 1,0 -2.3,0a1.15,1.15 0 1,0 2.3,0M547.4,222.4a1.15,1.15 0 1,0 -2.3,0a1.15,1.15 0 1,0 2.3,0M545,221.5a1.15,1.15 0 1,0 -2.3,0a1.15,1.15 0 1,0 2.3,0M542.6,220.1a1.15,1.15 0 1,0 -2.3,0a1.15,1.15 0 1,0 2.3,0M540.2,218.3a1.15,1.15 0 1,0 -2.3,0a1.15,1.15 0 1,0 2.3,0M537.9,216.4a1.15,1.15 0 1,0 -2.3,0a1.15,1.15 0 1,0 2.3,0M535.6,214.2a1.15,1.15 0 1,0 -2.3,0a1.15,1.15 0 1,0 2.3,0M533.4,212.3a1.15,1.15 0 1,0 -2.3,0a1.15,1.15 0 1,0 2.3,0M531.2,210.3a1.15,1.15 0 1,0 -2.3,0a1.15,1.15 0 1,0 2.3,0M529,206.1a1.15,1.15 0 1,0 -2.3,0a1.15,1.15 0 1,0 2.3,0M526.8,200.2a1.15,1.15 0 1,0 -2.3,0a1.15,1.15 0 1,0 2.3,0M524.7,196.6a1.15,1.15 0 1,0 -2.3,0a1.15,1.15 0 1,0 2.3,0M522.6,196.1a1.15,1.15 0 1,0 -2.3,0a1.15,1.15 0 1,0 2.3,0M520.5,195.9a1.15,1.15 0 1,0 -2.3,0a1.15,1.15 0 1,0 2.3,0M518.5,195.8a1.15,1.15 0 1,0 -2.3,0a1.15,1.15 0 1,0 2.3,0M516.4,196a1.15,1.15 0 1,0 -2.3,0a1.15,1.15 0 1,0 2.3,0M514.5,196.4a1.15,1.15 0 1,0 -2.3,0a1.15,1.15 0 1,0 2.3,0M512.5,197.1a1.15,1.15 0 1,0 -2.3,0a1.15,1.15 0 1,0 2.3,0M510.5,199.1a1.15,1.15 0 1,0 -2.3,0a1.15,1.15 0 1,0 2.3,0M508.6,202.8a1.15,1.15 0 1,0 -2.3,0a1.15,1.15 0 1,0 2.3,0M506.7,205.9a1.15,1.15 0 1,0 -2.3,0a1.15,1.15 0 1,0 2.3,0M504.9,208.2a1.15,1.15 0 1,0 -2.3,0a1.15,1.15 0 1,0 2.3,0M503,210.4a1.15,1.15 0 1,0 -2.3,0a1.15,1.15 0 1,0 2.3,0M501.2,212.3a1.15,1.15 0 1,0 -2.3,0a1.15,1.15 0 1,0 2.3,0M499.4,214.1a1.15,1.15 0 1,0 -2.3,0a1.15,1.15 0 1,0 2.3,0M497.6,215.6a1.15,1.15 0 1,0 -2.3,0a1.15,1.15 0 1,0 2.3,0M495.9,216.8a1.15,1.15 0 1,0 -2.3,0a1.15,1.15 0 1,0 2.3,0M494.2,217.8a1.15,1.15 0 1,0 -2.3,0a1.15,1.15 0 1,0 2.3,0M492.4,218.7a1.15,1.15 0 1,0 -2.3,0a1.15,1.15 0 1,0 2.3,0M490.8,219.5a1.15,1.15 0 1,0 -2.3,0a1.15,1.15 0 1,0 2.3,0M489.1,220.2a1.15,1.15 0 1,0 -2.3,0a1.15,1.15 0 1,0 2.3,0M487.4,220.8a1.15,1.15 0 1,0 -2.3,0a1.15,1.15 0 1,0 2.3,0M485.8,221.3a1.15,1.15 0 1,0 -2.3,0a1.15,1.15 0 1,0 2.3,0M484.2,221.7a1.15,1.15 0 1,0 -2.3,0a1.15,1.15 0 1,0 2.3,0M482.6,222.2a1.15,1.15 0 1,0 -2.3,0a1.15,1.15 0 1,0 2.3,0M481,222.6a1.15,1.15 0 1,0 -2.3,0a1.15,1.15 0 1,0 2.3,0M479.5,223a1.15,1.15 0 1,0 -2.3,0a1.15,1.15 0 1,0 2.3,0M477.9,223.4a1.15,1.15 0 1,0 -2.3,0a1.15,1.15 0 1,0 2.3,0M476.4,223.7a1.15,1.15 0 1,0 -2.3,0a1.15,1.15 0 1,0 2.3,0M474.9,224a1.15,1.15 0 1,0 -2.3,0a1.15,1.15 0 1,0 2.3,0M473.4,224.2a1.15,1.15 0 1,0 -2.3,0a1.15,1.15 0 1,0 2.3,0M472,224.4a1.15,1.15 0 1,0 -2.3,0a1.15,1.15 0 1,0 2.3,0M470.5,224.5a1.15,1.15 0 1,0 -2.3,0a1.15,1.15 0 1,0 2.3,0M469.1,224.7a1.15,1.15 0 1,0 -2.3,0a1.15,1.15 0 1,0 2.3,0M467.7,224.8a1.15,1.15 0 1,0 -2.3,0a1.15,1.15 0 1,0 2.3,0M466.3,224.9a1.15,1.15 0 1,0 -2.3,0a1.15,1.15 0 1,0 2.3,0M464.9,225a1.15,1.15 0 1,0 -2.3,0a1.15,1.15 0 1,0 2.3,0M463.5,225.1a1.15,1.15 0 1,0 -2.3,0a1.15,1.15 0 1,0 2.3,0M462.1,225.2a1.15,1.15 0 1,0 -2.3,0a1.15,1.15 0 1,0 2.3,0M460.8,225.2a1.15,1.15 0 1,0 -2.3,0a1.15,1.15 0 1,0 2.3,0M459.5,225.3a1.15,1.15 0 1,0 -2.3,0a1.15,1.15 0 1,0 2.3,0M458.2,225.4a1.15,1.15 0 1,0 -2.3,0a1.15,1.15 0 1,0 2.3,0M456.9,225.5a1.15,1.15 0 1,0 -2.3,0a1.15,1.15 0 1,0 2.3,0M455.6,225.6a1.15,1.15 0 1,0 -2.3,0a1.15,1.15 0 1,0 2.3,0M454.3,225.6a1.15,1.15 0 1,0 -2.3,0a1.15,1.15 0 1,0 2.3,0M453,225.7a1.15,1.15 0 1,0 -2.3,0a1.15,1.15 0 1,0 2.3,0M451.8,225.7a1.15,1.15 0 1,0 -2.3,0a1.15,1.15 0 1,0 2.3,0M450.6,225.8a1.15,1.15 0 1,0 -2.3,0a1.15,1.15 0 1,0 2.3,0M449.3,225.8a1.15,1.15 0 1,0 -2.3,0a1.15,1.15 0 1,0 2.3,0M448.1,225.9a1.15,1.15 0 1,0 -2.3,0a1.15,1.15 0 1,0 2.3,0M446.9,225.9a1.15,1.15 0 1,0 -2.3,0a1.15,1.15 0 1,0 2.3,0M445.7,226a1.15,1.15 0 1,0 -2.3,0a1.15,1.15 0 1,0 2.3,0M444.6,226a1.15,1.15 0 1,0 -2.3,0a1.15,1.15 0 1,0 2.3,0M443.4,226a1.15,1.15 0 1,0 -2.3,0a1.15,1.15 0 1,0 2.3,0M442.3,226.1a1.15,1.15 0 1,0 -2.3,0a1.15,1.15 0 1,0 2.3,0M441.1,226.1a1.15,1.15 0 1,0 -2.3,0a1.15,1.15 0 1,0 2.3,0M440,226.1a1.15,1.15 0 1,0 -2.3,0a1.15,1.15 0 1,0 2.3,0M438.9,226.1a1.15,1.15 0 1,0 -2.3,0a1.15,1.15 0 1,0 2.3,0M437.8,226.2a1.15,1.15 0 1,0 -2.3,0a1.15,1.15 0 1,0 2.3,0M436.7,226.2a1.15,1.15 0 1,0 -2.3,0a1.15,1.15 0 1,0 2.3,0M435.6,226.2a1.15,1.15 0 1,0 -2.3,0a1.15,1.15 0 1,0 2.3,0M434.5,226.2a1.15,1.15 0 1,0 -2.3,0a1.15,1.15 0 1,0 2.3,0M433.5,226.2a1.15,1.15 0 1,0 -2.3,0a1.15,1.15 0 1,0 2.3,0" fill="none" stroke="#2a2a2a" stroke-width="0.45"/>
<text x="438.1" y="221.2" font-size="10.2" text-anchor="start" textLength="23.7" lengthAdjust="spacingAndGlyphs" >175 K</text>
<text x="606.3" y="221" font-size="10.2" text-anchor="end" textLength="38.4" lengthAdjust="spacingAndGlyphs" >(−90 nm)</text>
<polyline points="431.5,188.1 432,188.1 432.5,188.1 433,188.1 433.5,188.1 434,188.1 434.5,188.1 435,188.1 435.5,188.1 436,188.1 436.5,188.1 437,188.1 437.5,188.1 438,188.1 438.5,188.1 439,188.1 439.5,188.1 440,188.1 440.5,188.1 441,188.1 441.5,188.1 442,188.1 442.5,188.1 443,188.1 443.5,188.1 444,188 444.5,188 445,188 445.5,188 446,188 446.5,188 447,188 447.5,188 448,188 448.5,188 449,188 449.5,188 450,188 450.5,188 451,188 451.5,188 452,188 452.5,188 453,187.9 453.5,187.9 454,187.9 454.5,187.9 455,187.9 455.5,187.9 456,187.9 456.5,187.9 457,187.9 457.5,187.9 458,187.9 458.5,187.8 459,187.8 459.5,187.8 460,187.8 460.5,187.8 461,187.8 461.5,187.8 462,187.8 462.5,187.8 463,187.8 463.5,187.7 464,187.7 464.5,187.7 465,187.7 465.5,187.7 466,187.7 466.5,187.7 467,187.6 467.5,187.6 468,187.6 468.5,187.6 469,187.6 469.5,187.6 470,187.6 470.5,187.5 471,187.5 471.5,187.5 472,187.5 472.5,187.5 473,187.5 473.5,187.4 474,187.4 474.5,187.4 475,187.4 475.5,187.3 476,187.3 476.5,187.2 477,187.2 477.5,187.1 478,187 478.5,186.9 479,186.8 479.5,186.7 480,186.6 480.5,186.5 481,186.4 481.5,186.3 482,186.2 482.5,186.1 483,186 483.5,185.9 484,185.7 484.5,185.6 485,185.5 485.5,185.4 486,185.2 486.5,185.1 487,185 487.5,184.8 488,184.7 488.5,184.5 489,184.3 489.5,184.2 490,184 490.5,183.9 491,183.7 491.5,183.5 492,183.3 492.5,183.2 493,183 493.5,182.8 494,182.6 494.5,182.4 495,182.2 495.5,182 496,181.8 496.5,181.6 497,181.3 497.5,181.1 498,180.9 498.5,180.6 499,180.4 499.5,180.1 500,179.8 500.5,179.6 501,179.3 501.5,179 502,178.7 502.5,178.4 503,178.1 503.5,177.8 504,177.5 504.5,177.2 505,176.8 505.5,176.5 506,176.2 506.5,175.8 507,175.5 507.5,175.1 508,174.8 508.5,174.4 509,174 509.5,173.6 510,173.2 510.5,172.8 511,172.4 511.5,172 512,171.5 512.5,171.1 513,170.6 513.5,170.2 514,169.7 514.5,169.2 515,168.7 515.5,168.3 516,167.8 516.5,167.3 517,166.8 517.5,166.2 518,165.7 518.5,165.2 519,164.7 519.5,164.1 520,163.6 520.5,163 521,162.4 521.5,161.8 522,161.2 522.5,160.5 523,159.9 523.5,159.3 524,158.7 524.5,158.1 525,157.5 525.5,156.9 526,156.3 526.5,155.7 527,155.1 527.5,154.5 528,153.9 528.5,153.4 529,152.9 529.5,152.4 530,152 530.5,151.7 531,151.3 531.5,151 532,150.7 532.5,150.5 533,150.4 533.5,150.4 534,150.5 534.5,150.7 535,151.1 535.5,151.5 536,152.1 536.5,152.6 537,153.3 537.5,154 538,154.8 538.5,155.7 539,156.7 539.5,157.7 540,158.8 540.5,159.9 541,161 541.5,162.2 542,163.4 542.5,164.6 543,165.9 543.5,167.1 544,168.3 544.5,169.5 545,170.6 545.5,171.7 546,172.7 546.5,173.7 547,174.7 547.5,175.6 548,176.5 548.5,177.2 549,177.9 549.5,178.6 550,179.1 550.5,179.7 551,180.2 551.5,180.7 552,181.2 552.5,181.6 553,182 553.5,182.4 554,182.8 554.5,183.1 555,183.4 555.5,183.7 556,183.9 556.5,184.2 557,184.5 557.5,184.7 558,185 558.5,185.2 559,185.5 559.5,185.7 560,185.9 560.5,186.1 561,186.3 561.5,186.5 562,186.6 562.5,186.8 563,186.9 563.5,187 564,187.1 564.5,187.1 565,187.2 565.5,187.2 566,187.2 566.5,187.3 567,187.3 567.5,187.3 568,187.3 568.5,187.4 569,187.4 569.5,187.4 570,187.4 570.5,187.5 571,187.5 571.5,187.5 572,187.5 572.5,187.5 573,187.6 573.5,187.6 574,187.6 574.5,187.6 575,187.6 575.5,187.7 576,187.7 576.5,187.7 577,187.7 577.5,187.7 578,187.7 578.5,187.8 579,187.8 579.5,187.8 580,187.8 580.5,187.8 581,187.8 581.5,187.8 582,187.9 582.5,187.9 583,187.9 583.5,187.9 584,187.9 584.5,187.9 585,187.9 585.5,187.9 586,187.9 586.5,188 587,188 587.5,188 588,188 588.5,188 589,188 589.5,188 590,188 590.5,188 591,188 591.5,188.1 592,188.1 592.5,188.1 593,188.1 593.5,188.1 594,188.1 594.5,188.1 595,188.1 595.5,188.1 596,188.1 596.5,188.1 597,188.1 597.5,188.1 598,188.1 598.5,188.1 599,188.1 599.5,188.2 600,188.2 600.5,188.2 601,188.2 601.5,188.2 602,188.2 602.5,188.2 603,188.2 603.5,188.2 604,188.2 604.5,188.2 605,188.2 605.5,188.2 606,188.2 606.5,188.2 607,188.2 607.5,188.2 608,188.2 608.5,188.2 609,188.2 609.5,188.2 610,188.2" fill="none" stroke="#000000" stroke-width="0.75" stroke-linejoin="round" />
<path d="M611.3,188.2a1.15,1.15 0 1,0 -2.3,0a1.15,1.15 0 1,0 2.3,0M607.8,188.2a1.15,1.15 0 1,0 -2.3,0a1.15,1.15 0 1,0 2.3,0M604.5,188.2a1.15,1.15 0 1,0 -2.3,0a1.15,1.15 0 1,0 2.3,0M601.1,188.2a1.15,1.15 0 1,0 -2.3,0a1.15,1.15 0 1,0 2.3,0M597.9,188.1a1.15,1.15 0 1,0 -2.3,0a1.15,1.15 0 1,0 2.3,0M594.7,188.1a1.15,1.15 0 1,0 -2.3,0a1.15,1.15 0 1,0 2.3,0M591.5,188a1.15,1.15 0 1,0 -2.3,0a1.15,1.15 0 1,0 2.3,0M588.4,188a1.15,1.15 0 1,0 -2.3,0a1.15,1.15 0 1,0 2.3,0M585.4,187.9a1.15,1.15 0 1,0 -2.3,0a1.15,1.15 0 1,0 2.3,0M582.4,187.8a1.15,1.15 0 1,0 -2.3,0a1.15,1.15 0 1,0 2.3,0M579.4,187.7a1.15,1.15 0 1,0 -2.3,0a1.15,1.15 0 1,0 2.3,0M576.5,187.6a1.15,1.15 0 1,0 -2.3,0a1.15,1.15 0 1,0 2.3,0M573.7,187.5a1.15,1.15 0 1,0 -2.3,0a1.15,1.15 0 1,0 2.3,0M570.9,187.4a1.15,1.15 0 1,0 -2.3,0a1.15,1.15 0 1,0 2.3,0M568.1,187.3a1.15,1.15 0 1,0 -2.3,0a1.15,1.15 0 1,0 2.3,0M565.4,187.1a1.15,1.15 0 1,0 -2.3,0a1.15,1.15 0 1,0 2.3,0M562.7,186.7a1.15,1.15 0 1,0 -2.3,0a1.15,1.15 0 1,0 2.3,0M560,186a1.15,1.15 0 1,0 -2.3,0a1.15,1.15 0 1,0 2.3,0M557.4,185.3a1.15,1.15 0 1,0 -2.3,0a1.15,1.15 0 1,0 2.3,0M554.9,184.2a1.15,1.15 0 1,0 -2.3,0a1.15,1.15 0 1,0 2.3,0M552.3,182.9a1.15,1.15 0 1,0 -2.3,0a1.15,1.15 0 1,0 2.3,0M549.8,180.9a1.15,1.15 0 1,0 -2.3,0a1.15,1.15 0 1,0 2.3,0M547.4,177.7a1.15,1.15 0 1,0 -2.3,0a1.15,1.15 0 1,0 2.3,0M545,172.8a1.15,1.15 0 1,0 -2.3,0a1.15,1.15 0 1,0 2.3,0M542.6,167a1.15,1.15 0 1,0 -2.3,0a1.15,1.15 0 1,0 2.3,0M540.2,160.2a1.15,1.15 0 1,0 -2.3,0a1.15,1.15 0 1,0 2.3,0M537.9,154.3a1.15,1.15 0 1,0 -2.3,0a1.15,1.15 0 1,0 2.3,0M535.6,151.2a1.15,1.15 0 1,0 -2.3,0a1.15,1.15 0 1,0 2.3,0M533.4,151.4a1.15,1.15 0 1,0 -2.3,0a1.15,1.15 0 1,0 2.3,0M531.2,154.1a1.15,1.15 0 1,0 -2.3,0a1.15,1.15 0 1,0 2.3,0M529,157.8a1.15,1.15 0 1,0 -2.3,0a1.15,1.15 0 1,0 2.3,0M526.8,161.3a1.15,1.15 0 1,0 -2.3,0a1.15,1.15 0 1,0 2.3,0M524.7,163.8a1.15,1.15 0 1,0 -2.3,0a1.15,1.15 0 1,0 2.3,0M522.6,165.7a1.15,1.15 0 1,0 -2.3,0a1.15,1.15 0 1,0 2.3,0M520.5,167.4a1.15,1.15 0 1,0 -2.3,0a1.15,1.15 0 1,0 2.3,0M518.5,169.2a1.15,1.15 0 1,0 -2.3,0a1.15,1.15 0 1,0 2.3,0M516.4,170.9a1.15,1.15 0 1,0 -2.3,0a1.15,1.15 0 1,0 2.3,0M514.5,172.6a1.15,1.15 0 1,0 -2.3,0a1.15,1.15 0 1,0 2.3,0M512.5,174.2a1.15,1.15 0 1,0 -2.3,0a1.15,1.15 0 1,0 2.3,0M510.5,175.7a1.15,1.15 0 1,0 -2.3,0a1.15,1.15 0 1,0 2.3,0M508.6,177a1.15,1.15 0 1,0 -2.3,0a1.15,1.15 0 1,0 2.3,0M506.7,178.1a1.15,1.15 0 1,0 -2.3,0a1.15,1.15 0 1,0 2.3,0M504.9,179.2a1.15,1.15 0 1,0 -2.3,0a1.15,1.15 0 1,0 2.3,0M503,180.1a1.15,1.15 0 1,0 -2.3,0a1.15,1.15 0 1,0 2.3,0M501.2,181a1.15,1.15 0 1,0 -2.3,0a1.15,1.15 0 1,0 2.3,0M499.4,181.8a1.15,1.15 0 1,0 -2.3,0a1.15,1.15 0 1,0 2.3,0M497.6,182.5a1.15,1.15 0 1,0 -2.3,0a1.15,1.15 0 1,0 2.3,0M495.9,183.1a1.15,1.15 0 1,0 -2.3,0a1.15,1.15 0 1,0 2.3,0M494.2,183.6a1.15,1.15 0 1,0 -2.3,0a1.15,1.15 0 1,0 2.3,0M492.4,184.2a1.15,1.15 0 1,0 -2.3,0a1.15,1.15 0 1,0 2.3,0M490.8,184.7a1.15,1.15 0 1,0 -2.3,0a1.15,1.15 0 1,0 2.3,0M489.1,185.2a1.15,1.15 0 1,0 -2.3,0a1.15,1.15 0 1,0 2.3,0M487.4,185.7a1.15,1.15 0 1,0 -2.3,0a1.15,1.15 0 1,0 2.3,0M485.8,186.1a1.15,1.15 0 1,0 -2.3,0a1.15,1.15 0 1,0 2.3,0M484.2,186.5a1.15,1.15 0 1,0 -2.3,0a1.15,1.15 0 1,0 2.3,0M482.6,186.8a1.15,1.15 0 1,0 -2.3,0a1.15,1.15 0 1,0 2.3,0M481,187.1a1.15,1.15 0 1,0 -2.3,0a1.15,1.15 0 1,0 2.3,0M479.5,187.3a1.15,1.15 0 1,0 -2.3,0a1.15,1.15 0 1,0 2.3,0M477.9,187.5a1.15,1.15 0 1,0 -2.3,0a1.15,1.15 0 1,0 2.3,0M476.4,187.6a1.15,1.15 0 1,0 -2.3,0a1.15,1.15 0 1,0 2.3,0M474.9,187.6a1.15,1.15 0 1,0 -2.3,0a1.15,1.15 0 1,0 2.3,0M473.4,187.7a1.15,1.15 0 1,0 -2.3,0a1.15,1.15 0 1,0 2.3,0M472,187.7a1.15,1.15 0 1,0 -2.3,0a1.15,1.15 0 1,0 2.3,0M470.5,187.7a1.15,1.15 0 1,0 -2.3,0a1.15,1.15 0 1,0 2.3,0M469.1,187.8a1.15,1.15 0 1,0 -2.3,0a1.15,1.15 0 1,0 2.3,0M467.7,187.8a1.15,1.15 0 1,0 -2.3,0a1.15,1.15 0 1,0 2.3,0M466.3,187.8a1.15,1.15 0 1,0 -2.3,0a1.15,1.15 0 1,0 2.3,0M464.9,187.8a1.15,1.15 0 1,0 -2.3,0a1.15,1.15 0 1,0 2.3,0M463.5,187.9a1.15,1.15 0 1,0 -2.3,0a1.15,1.15 0 1,0 2.3,0M462.1,187.9a1.15,1.15 0 1,0 -2.3,0a1.15,1.15 0 1,0 2.3,0M460.8,187.9a1.15,1.15 0 1,0 -2.3,0a1.15,1.15 0 1,0 2.3,0M459.5,187.9a1.15,1.15 0 1,0 -2.3,0a1.15,1.15 0 1,0 2.3,0M458.2,187.9a1.15,1.15 0 1,0 -2.3,0a1.15,1.15 0 1,0 2.3,0M456.9,187.9a1.15,1.15 0 1,0 -2.3,0a1.15,1.15 0 1,0 2.3,0M455.6,188a1.15,1.15 0 1,0 -2.3,0a1.15,1.15 0 1,0 2.3,0M454.3,188a1.15,1.15 0 1,0 -2.3,0a1.15,1.15 0 1,0 2.3,0M453,188a1.15,1.15 0 1,0 -2.3,0a1.15,1.15 0 1,0 2.3,0M451.8,188a1.15,1.15 0 1,0 -2.3,0a1.15,1.15 0 1,0 2.3,0M450.6,188a1.15,1.15 0 1,0 -2.3,0a1.15,1.15 0 1,0 2.3,0M449.3,188a1.15,1.15 0 1,0 -2.3,0a1.15,1.15 0 1,0 2.3,0M448.1,188a1.15,1.15 0 1,0 -2.3,0a1.15,1.15 0 1,0 2.3,0M446.9,188a1.15,1.15 0 1,0 -2.3,0a1.15,1.15 0 1,0 2.3,0M445.7,188.1a1.15,1.15 0 1,0 -2.3,0a1.15,1.15 0 1,0 2.3,0M444.6,188.1a1.15,1.15 0 1,0 -2.3,0a1.15,1.15 0 1,0 2.3,0M443.4,188.1a1.15,1.15 0 1,0 -2.3,0a1.15,1.15 0 1,0 2.3,0M442.3,188.1a1.15,1.15 0 1,0 -2.3,0a1.15,1.15 0 1,0 2.3,0M441.1,188.1a1.15,1.15 0 1,0 -2.3,0a1.15,1.15 0 1,0 2.3,0M440,188.1a1.15,1.15 0 1,0 -2.3,0a1.15,1.15 0 1,0 2.3,0M438.9,188.1a1.15,1.15 0 1,0 -2.3,0a1.15,1.15 0 1,0 2.3,0M437.8,188.1a1.15,1.15 0 1,0 -2.3,0a1.15,1.15 0 1,0 2.3,0M436.7,188.1a1.15,1.15 0 1,0 -2.3,0a1.15,1.15 0 1,0 2.3,0M435.6,188.1a1.15,1.15 0 1,0 -2.3,0a1.15,1.15 0 1,0 2.3,0M434.5,188.1a1.15,1.15 0 1,0 -2.3,0a1.15,1.15 0 1,0 2.3,0M433.5,188.1a1.15,1.15 0 1,0 -2.3,0a1.15,1.15 0 1,0 2.3,0" fill="none" stroke="#2a2a2a" stroke-width="0.45"/>
<text x="438.1" y="182.8" font-size="10.2" text-anchor="start" textLength="23.7" lengthAdjust="spacingAndGlyphs" >230 K</text>
<text x="606.3" y="182.8" font-size="10.2" text-anchor="end" textLength="38.4" lengthAdjust="spacingAndGlyphs" >(−65 nm)</text>
<polyline points="431.5,149.4 432,149.4 432.5,149.4 433,149.4 433.5,149.4 434,149.3 434.5,149.3 435,149.3 435.5,149.3 436,149.3 436.5,149.3 437,149.3 437.5,149.3 438,149.3 438.5,149.2 439,149.2 439.5,149.2 440,149.2 440.5,149.2 441,149.2 441.5,149.1 442,149.1 442.5,149.1 443,149.1 443.5,149.1 444,149 444.5,149 445,149 445.5,149 446,149 446.5,148.9 447,148.9 447.5,148.9 448,148.9 448.5,148.9 449,148.8 449.5,148.8 450,148.8 450.5,148.8 451,148.7 451.5,148.7 452,148.7 452.5,148.7 453,148.7 453.5,148.6 454,148.6 454.5,148.6 455,148.6 455.5,148.5 456,148.5 456.5,148.5 457,148.5 457.5,148.4 458,148.4 458.5,148.4 459,148.4 459.5,148.3 460,148.3 460.5,148.3 461,148.2 461.5,148.2 462,148.2 462.5,148.2 463,148.1 463.5,148.1 464,148.1 464.5,148 465,148 465.5,148 466,147.9 466.5,147.9 467,147.9 467.5,147.8 468,147.8 468.5,147.7 469,147.7 469.5,147.7 470,147.6 470.5,147.6 471,147.5 471.5,147.5 472,147.5 472.5,147.4 473,147.4 473.5,147.3 474,147.3 474.5,147.2 475,147.2 475.5,147.1 476,147.1 476.5,147 477,147 477.5,146.9 478,146.8 478.5,146.8 479,146.7 479.5,146.7 480,146.6 480.5,146.5 481,146.5 481.5,146.4 482,146.3 482.5,146.3 483,146.2 483.5,146.1 484,146.1 484.5,146 485,145.9 485.5,145.8 486,145.7 486.5,145.7 487,145.6 487.5,145.5 488,145.4 488.5,145.3 489,145.2 489.5,145.1 490,145 490.5,144.9 491,144.8 491.5,144.7 492,144.5 492.5,144.4 493,144.3 493.5,144.1 494,144 494.5,143.8 495,143.7 495.5,143.5 496,143.4 496.5,143.2 497,143 497.5,142.8 498,142.7 498.5,142.5 499,142.3 499.5,142.1 500,141.9 500.5,141.7 501,141.5 501.5,141.3 502,141.1 502.5,140.9 503,140.7 503.5,140.5 504,140.2 504.5,140 505,139.8 505.5,139.6 506,139.3 506.5,139.1 507,138.8 507.5,138.5 508,138.2 508.5,138 509,137.7 509.5,137.4 510,137.1 510.5,136.7 511,136.4 511.5,136.1 512,135.8 512.5,135.5 513,135.2 513.5,134.8 514,134.5 514.5,134.2 515,133.9 515.5,133.6 516,133.3 516.5,133 517,132.7 517.5,132.4 518,132.1 518.5,131.8 519,131.4 519.5,131.1 520,130.8 520.5,130.5 521,130.2 521.5,129.9 522,129.6 522.5,129.2 523,128.9 523.5,128.6 524,128.3 524.5,127.9 525,127.6 525.5,127.3 526,126.9 526.5,126.6 527,126.2 527.5,125.9 528,125.5 528.5,125.2 529,124.8 529.5,124.4 530,124.1 530.5,123.7 531,123.4 531.5,123 532,122.6 532.5,122.3 533,121.9 533.5,121.5 534,121.1 534.5,120.8 535,120.4 535.5,120 536,119.7 536.5,119.3 537,118.9 537.5,118.5 538,118.2 538.5,117.8 539,117.4 539.5,117 540,116.5 540.5,116.1 541,115.6 541.5,115 542,114.5 542.5,114 543,113.7 543.5,113.4 544,113.3 544.5,113.2 545,113.3 545.5,113.4 546,113.5 546.5,113.7 547,113.9 547.5,114.1 548,114.4 548.5,114.7 549,115 549.5,115.5 550,116 550.5,116.5 551,117.1 551.5,117.7 552,118.3 552.5,118.9 553,119.6 553.5,120.4 554,121.1 554.5,121.9 555,122.7 555.5,123.6 556,124.4 556.5,125.3 557,126.1 557.5,127 558,127.8 558.5,128.6 559,129.5 559.5,130.4 560,131.2 560.5,132.1 561,133 561.5,133.9 562,134.7 562.5,135.6 563,136.3 563.5,137.1 564,137.8 564.5,138.4 565,139 565.5,139.5 566,140.1 566.5,140.6 567,141 567.5,141.5 568,142 568.5,142.4 569,142.8 569.5,143.2 570,143.6 570.5,143.9 571,144.2 571.5,144.5 572,144.8 572.5,145.1 573,145.3 573.5,145.6 574,145.8 574.5,146 575,146.2 575.5,146.4 576,146.6 576.5,146.8 577,146.9 577.5,147.1 578,147.2 578.5,147.4 579,147.5 579.5,147.6 580,147.7 580.5,147.8 581,147.9 581.5,148 582,148 582.5,148.1 583,148.2 583.5,148.3 584,148.3 584.5,148.4 585,148.5 585.5,148.5 586,148.6 586.5,148.6 587,148.7 587.5,148.7 588,148.8 588.5,148.8 589,148.8 589.5,148.9 590,148.9 590.5,148.9 591,148.9 591.5,149 592,149 592.5,149 593,149 593.5,149 594,149.1 594.5,149.1 595,149.1 595.5,149.1 596,149.1 596.5,149.1 597,149.2 597.5,149.2 598,149.2 598.5,149.2 599,149.2 599.5,149.2 600,149.2 600.5,149.3 601,149.3 601.5,149.3 602,149.3 602.5,149.3 603,149.3 603.5,149.3 604,149.3 604.5,149.3 605,149.4 605.5,149.4 606,149.4 606.5,149.4 607,149.4 607.5,149.4 608,149.4 608.5,149.4 609,149.4 609.5,149.4 610,149.4" fill="none" stroke="#000000" stroke-width="0.75" stroke-linejoin="round" />
<path d="M611.3,149.4a1.15,1.15 0 1,0 -2.3,0a1.15,1.15 0 1,0 2.3,0M607.8,149.4a1.15,1.15 0 1,0 -2.3,0a1.15,1.15 0 1,0 2.3,0M604.5,149.3a1.15,1.15 0 1,0 -2.3,0a1.15,1.15 0 1,0 2.3,0M601.1,149.2a1.15,1.15 0 1,0 -2.3,0a1.15,1.15 0 1,0 2.3,0M597.9,149.2a1.15,1.15 0 1,0 -2.3,0a1.15,1.15 0 1,0 2.3,0M594.7,149a1.15,1.15 0 1,0 -2.3,0a1.15,1.15 0 1,0 2.3,0M591.5,148.9a1.15,1.15 0 1,0 -2.3,0a1.15,1.15 0 1,0 2.3,0M588.4,148.7a1.15,1.15 0 1,0 -2.3,0a1.15,1.15 0 1,0 2.3,0M585.4,148.4a1.15,1.15 0 1,0 -2.3,0a1.15,1.15 0 1,0 2.3,0M582.4,148a1.15,1.15 0 1,0 -2.3,0a1.15,1.15 0 1,0 2.3,0M579.4,147.4a1.15,1.15 0 1,0 -2.3,0a1.15,1.15 0 1,0 2.3,0M576.5,146.5a1.15,1.15 0 1,0 -2.3,0a1.15,1.15 0 1,0 2.3,0M573.7,145.3a1.15,1.15 0 1,0 -2.3,0a1.15,1.15 0 1,0 2.3,0M570.9,143.6a1.15,1.15 0 1,0 -2.3,0a1.15,1.15 0 1,0 2.3,0M568.1,141.5a1.15,1.15 0 1,0 -2.3,0a1.15,1.15 0 1,0 2.3,0M565.4,139.4a1.15,1.15 0 1,0 -2.3,0a1.15,1.15 0 1,0 2.3,0M562.7,137.4a1.15,1.15 0 1,0 -2.3,0a1.15,1.15 0 1,0 2.3,0M560,134.3a1.15,1.15 0 1,0 -2.3,0a1.15,1.15 0 1,0 2.3,0M557.4,129.4a1.15,1.15 0 1,0 -2.3,0a1.15,1.15 0 1,0 2.3,0M554.9,124a1.15,1.15 0 1,0 -2.3,0a1.15,1.15 0 1,0 2.3,0M552.3,118.8a1.15,1.15 0 1,0 -2.3,0a1.15,1.15 0 1,0 2.3,0M549.8,115.3a1.15,1.15 0 1,0 -2.3,0a1.15,1.15 0 1,0 2.3,0M547.4,113.8a1.15,1.15 0 1,0 -2.3,0a1.15,1.15 0 1,0 2.3,0M545,113.8a1.15,1.15 0 1,0 -2.3,0a1.15,1.15 0 1,0 2.3,0M542.6,116.2a1.15,1.15 0 1,0 -2.3,0a1.15,1.15 0 1,0 2.3,0M540.2,119.3a1.15,1.15 0 1,0 -2.3,0a1.15,1.15 0 1,0 2.3,0M537.9,121.9a1.15,1.15 0 1,0 -2.3,0a1.15,1.15 0 1,0 2.3,0M535.6,124.3a1.15,1.15 0 1,0 -2.3,0a1.15,1.15 0 1,0 2.3,0M533.4,126.6a1.15,1.15 0 1,0 -2.3,0a1.15,1.15 0 1,0 2.3,0M531.2,128.9a1.15,1.15 0 1,0 -2.3,0a1.15,1.15 0 1,0 2.3,0M529,131.2a1.15,1.15 0 1,0 -2.3,0a1.15,1.15 0 1,0 2.3,0M526.8,133.4a1.15,1.15 0 1,0 -2.3,0a1.15,1.15 0 1,0 2.3,0M524.7,135.1a1.15,1.15 0 1,0 -2.3,0a1.15,1.15 0 1,0 2.3,0M522.6,136.5a1.15,1.15 0 1,0 -2.3,0a1.15,1.15 0 1,0 2.3,0M520.5,137.8a1.15,1.15 0 1,0 -2.3,0a1.15,1.15 0 1,0 2.3,0M518.5,138.8a1.15,1.15 0 1,0 -2.3,0a1.15,1.15 0 1,0 2.3,0M516.4,139.7a1.15,1.15 0 1,0 -2.3,0a1.15,1.15 0 1,0 2.3,0M514.5,140.4a1.15,1.15 0 1,0 -2.3,0a1.15,1.15 0 1,0 2.3,0M512.5,140.9a1.15,1.15 0 1,0 -2.3,0a1.15,1.15 0 1,0 2.3,0M510.5,141.4a1.15,1.15 0 1,0 -2.3,0a1.15,1.15 0 1,0 2.3,0M508.6,141.8a1.15,1.15 0 1,0 -2.3,0a1.15,1.15 0 1,0 2.3,0M506.7,142.3a1.15,1.15 0 1,0 -2.3,0a1.15,1.15 0 1,0 2.3,0M504.9,142.7a1.15,1.15 0 1,0 -2.3,0a1.15,1.15 0 1,0 2.3,0M503,143.1a1.15,1.15 0 1,0 -2.3,0a1.15,1.15 0 1,0 2.3,0M501.2,143.5a1.15,1.15 0 1,0 -2.3,0a1.15,1.15 0 1,0 2.3,0M499.4,143.9a1.15,1.15 0 1,0 -2.3,0a1.15,1.15 0 1,0 2.3,0M497.6,144.3a1.15,1.15 0 1,0 -2.3,0a1.15,1.15 0 1,0 2.3,0M495.9,144.7a1.15,1.15 0 1,0 -2.3,0a1.15,1.15 0 1,0 2.3,0M494.2,145a1.15,1.15 0 1,0 -2.3,0a1.15,1.15 0 1,0 2.3,0M492.4,145.3a1.15,1.15 0 1,0 -2.3,0a1.15,1.15 0 1,0 2.3,0M490.8,145.6a1.15,1.15 0 1,0 -2.3,0a1.15,1.15 0 1,0 2.3,0M489.1,145.8a1.15,1.15 0 1,0 -2.3,0a1.15,1.15 0 1,0 2.3,0M487.4,146.1a1.15,1.15 0 1,0 -2.3,0a1.15,1.15 0 1,0 2.3,0M485.8,146.3a1.15,1.15 0 1,0 -2.3,0a1.15,1.15 0 1,0 2.3,0M484.2,146.5a1.15,1.15 0 1,0 -2.3,0a1.15,1.15 0 1,0 2.3,0M482.6,146.7a1.15,1.15 0 1,0 -2.3,0a1.15,1.15 0 1,0 2.3,0M481,146.9a1.15,1.15 0 1,0 -2.3,0a1.15,1.15 0 1,0 2.3,0M479.5,147.1a1.15,1.15 0 1,0 -2.3,0a1.15,1.15 0 1,0 2.3,0M477.9,147.2a1.15,1.15 0 1,0 -2.3,0a1.15,1.15 0 1,0 2.3,0M476.4,147.4a1.15,1.15 0 1,0 -2.3,0a1.15,1.15 0 1,0 2.3,0M474.9,147.5a1.15,1.15 0 1,0 -2.3,0a1.15,1.15 0 1,0 2.3,0M473.4,147.6a1.15,1.15 0 1,0 -2.3,0a1.15,1.15 0 1,0 2.3,0M472,147.7a1.15,1.15 0 1,0 -2.3,0a1.15,1.15 0 1,0 2.3,0M470.5,147.8a1.15,1.15 0 1,0 -2.3,0a1.15,1.15 0 1,0 2.3,0M469.1,147.9a1.15,1.15 0 1,0 -2.3,0a1.15,1.15 0 1,0 2.3,0M467.7,148a1.15,1.15 0 1,0 -2.3,0a1.15,1.15 0 1,0 2.3,0M466.3,148.1a1.15,1.15 0 1,0 -2.3,0a1.15,1.15 0 1,0 2.3,0M464.9,148.2a1.15,1.15 0 1,0 -2.3,0a1.15,1.15 0 1,0 2.3,0M463.5,148.2a1.15,1.15 0 1,0 -2.3,0a1.15,1.15 0 1,0 2.3,0M462.1,148.3a1.15,1.15 0 1,0 -2.3,0a1.15,1.15 0 1,0 2.3,0M460.8,148.4a1.15,1.15 0 1,0 -2.3,0a1.15,1.15 0 1,0 2.3,0M459.5,148.5a1.15,1.15 0 1,0 -2.3,0a1.15,1.15 0 1,0 2.3,0M458.2,148.6a1.15,1.15 0 1,0 -2.3,0a1.15,1.15 0 1,0 2.3,0M456.9,148.6a1.15,1.15 0 1,0 -2.3,0a1.15,1.15 0 1,0 2.3,0M455.6,148.7a1.15,1.15 0 1,0 -2.3,0a1.15,1.15 0 1,0 2.3,0M454.3,148.8a1.15,1.15 0 1,0 -2.3,0a1.15,1.15 0 1,0 2.3,0M453,148.8a1.15,1.15 0 1,0 -2.3,0a1.15,1.15 0 1,0 2.3,0M451.8,148.9a1.15,1.15 0 1,0 -2.3,0a1.15,1.15 0 1,0 2.3,0M450.6,149a1.15,1.15 0 1,0 -2.3,0a1.15,1.15 0 1,0 2.3,0M449.3,149a1.15,1.15 0 1,0 -2.3,0a1.15,1.15 0 1,0 2.3,0M448.1,149.1a1.15,1.15 0 1,0 -2.3,0a1.15,1.15 0 1,0 2.3,0M446.9,149.1a1.15,1.15 0 1,0 -2.3,0a1.15,1.15 0 1,0 2.3,0M445.7,149.1a1.15,1.15 0 1,0 -2.3,0a1.15,1.15 0 1,0 2.3,0M444.6,149.2a1.15,1.15 0 1,0 -2.3,0a1.15,1.15 0 1,0 2.3,0M443.4,149.2a1.15,1.15 0 1,0 -2.3,0a1.15,1.15 0 1,0 2.3,0M442.3,149.3a1.15,1.15 0 1,0 -2.3,0a1.15,1.15 0 1,0 2.3,0M441.1,149.3a1.15,1.15 0 1,0 -2.3,0a1.15,1.15 0 1,0 2.3,0M440,149.3a1.15,1.15 0 1,0 -2.3,0a1.15,1.15 0 1,0 2.3,0M438.9,149.3a1.15,1.15 0 1,0 -2.3,0a1.15,1.15 0 1,0 2.3,0M437.8,149.4a1.15,1.15 0 1,0 -2.3,0a1.15,1.15 0 1,0 2.3,0M436.7,149.4a1.15,1.15 0 1,0 -2.3,0a1.15,1.15 0 1,0 2.3,0M435.6,149.4a1.15,1.15 0 1,0 -2.3,0a1.15,1.15 0 1,0 2.3,0M434.5,149.4a1.15,1.15 0 1,0 -2.3,0a1.15,1.15 0 1,0 2.3,0M433.5,149.4a1.15,1.15 0 1,0 -2.3,0a1.15,1.15 0 1,0 2.3,0" fill="none" stroke="#2a2a2a" stroke-width="0.45"/>
<text x="438.1" y="145.6" font-size="10.2" text-anchor="start" textLength="23.7" lengthAdjust="spacingAndGlyphs" >300 K</text>
<text x="606.3" y="141" font-size="10.2" text-anchor="end" textLength="38.4" lengthAdjust="spacingAndGlyphs" >(−95 nm)</text>
<text x="568" y="58" font-size="10.4" text-anchor="end" textLength="20.4" lengthAdjust="spacingAndGlyphs" >Expt.</text>
<path d="M589.4,54.8a1.1,1.1 0 1,0 -2.2,0a1.1,1.1 0 1,0 2.2,0" fill="none" stroke="#333" stroke-width="0.45"/>
<text x="568" y="68.2" font-size="10.4" text-anchor="end" textLength="26" lengthAdjust="spacingAndGlyphs" >Theory</text>
<line x1="574.5" y1="65.5" x2="602.3" y2="65.5" stroke="#000" stroke-width="0.75"/>
<rect x="469.5" y="28.5" width="64.0" height="59.0" fill="#fff" stroke="#b3b3b3" stroke-width="1"/>
<path d="M480.2,87.5v-2M480.2,28.5v2M490.8,87.5v-2M490.8,28.5v2M501.5,87.5v-2M501.5,28.5v2M512.2,87.5v-2M512.2,28.5v2M522.8,87.5v-2M522.8,28.5v2" stroke="#b3b3b3" stroke-width="1" fill="none"/>
<path d="M469.5,72.7h2M533.5,72.7h-2M469.5,58h2M533.5,58h-2M469.5,43.2h2M533.5,43.2h-2" stroke="#b3b3b3" stroke-width="1" fill="none"/>
<polyline points="469.5,39.3 470.1,39.3 470.8,39.3 471.4,39.3 472.1,39.3 472.7,39.3 473.4,39.3 474,39.3 474.7,39.3 475.3,39.3 476,39.3 476.6,39.3 477.3,39.3 477.9,39.4 478.6,39.6 479.2,39.8 479.8,40.1 480.5,40.4 481.1,40.6 481.8,40.9 482.4,41.1 483.1,41.3 483.7,41.6 484.4,41.8 485,42.1 485.7,42.3 486.3,42.6 487,42.9 487.6,43.2 488.2,43.5 488.9,43.8 489.5,44.1 490.2,44.4 490.8,44.7 491.5,45 492.1,45.4 492.8,45.7 493.4,46.1 494.1,46.4 494.7,46.8 495.4,47.2 496,47.6 496.7,47.9 497.3,48.3 497.9,48.8 498.6,49.2 499.2,49.6 499.9,50.1 500.5,50.5 501.2,51 501.8,51.5 502.5,52 503.1,52.5 503.8,53.1 504.4,53.6 505.1,54.1 505.7,54.7 506.3,55.2 507,55.8 507.6,56.3 508.3,56.9 508.9,57.4 509.6,58 510.2,58.6 510.9,59.2 511.5,59.8 512.2,60.4 512.8,61 513.5,61.6 514.1,62.2 514.8,62.8 515.4,63.5 516,64.1 516.7,64.7 517.3,65.3 518,65.9 518.6,66.5 519.3,67.1 519.9,67.7 520.6,68.2 521.2,68.8 521.9,69.4 522.5,70 523.2,70.5 523.8,71.1 524.4,71.7 525.1,72.3 525.7,72.8 526.4,73.4 527,73.9 527.7,74.5 528.3,75.1 529,75.6 529.6,76.2 530.3,76.7 530.9,77.3 531.6,77.8 532.2,78.4 532.9,78.9 533.5,79.5" fill="none" stroke="#000000" stroke-width="0.9" stroke-linejoin="round" />
<path d="M471.7,42.7a1.3,1.3 0 1,0 -2.6,0a1.3,1.3 0 1,0 2.6,0M475.1,43.1a1.3,1.3 0 1,0 -2.6,0a1.3,1.3 0 1,0 2.6,0M479.3,41.9a1.3,1.3 0 1,0 -2.6,0a1.3,1.3 0 1,0 2.6,0M483.6,42.4a1.3,1.3 0 1,0 -2.6,0a1.3,1.3 0 1,0 2.6,0M487.9,43.4a1.3,1.3 0 1,0 -2.6,0a1.3,1.3 0 1,0 2.6,0M492.1,44.9a1.3,1.3 0 1,0 -2.6,0a1.3,1.3 0 1,0 2.6,0M497.5,47.9a1.3,1.3 0 1,0 -2.6,0a1.3,1.3 0 1,0 2.6,0M502.8,50.6a1.3,1.3 0 1,0 -2.6,0a1.3,1.3 0 1,0 2.6,0M508.1,54.7a1.3,1.3 0 1,0 -2.6,0a1.3,1.3 0 1,0 2.6,0M513.5,62.9a1.3,1.3 0 1,0 -2.6,0a1.3,1.3 0 1,0 2.6,0M519.9,68.9a1.3,1.3 0 1,0 -2.6,0a1.3,1.3 0 1,0 2.6,0M526.3,75.1a1.3,1.3 0 1,0 -2.6,0a1.3,1.3 0 1,0 2.6,0M534.8,79.3a1.3,1.3 0 1,0 -2.6,0a1.3,1.3 0 1,0 2.6,0" fill="none" stroke="#2a2a2a" stroke-width="0.5"/>
<text x="463.4" y="31.9" font-size="8.6" text-anchor="end" textLength="15" lengthAdjust="spacingAndGlyphs" >0.44</text>
<text x="463.4" y="61.4" font-size="8.6" text-anchor="end" textLength="15" lengthAdjust="spacingAndGlyphs" >0.40</text>
<text x="463.4" y="90.9" font-size="8.6" text-anchor="end" textLength="15" lengthAdjust="spacingAndGlyphs" >0.36</text>
<text x="469.5" y="99.9" font-size="8.6" text-anchor="middle" textLength="4.5" lengthAdjust="spacingAndGlyphs" >0</text>
<text x="490.8" y="99.9" font-size="8.6" text-anchor="middle" textLength="12.3" lengthAdjust="spacingAndGlyphs" >100</text>
<text x="512.2" y="99.9" font-size="8.6" text-anchor="middle" textLength="12.3" lengthAdjust="spacingAndGlyphs" >200</text>
<text x="533.5" y="99.9" font-size="8.6" text-anchor="middle" textLength="12.3" lengthAdjust="spacingAndGlyphs" >300</text>
<text x="464.5" y="110.9" font-size="8.8" text-anchor="start" textLength="74.2" lengthAdjust="spacingAndGlyphs" >Temperature, <tspan font-style="italic">T</tspan> (K)</text>
<text transform="translate(442,89.5) rotate(-90)" x="0" y="0" font-size="8.8" textLength="63.7" lengthAdjust="spacingAndGlyphs">Peak energy (eV)</text>
</svg></body></html>
